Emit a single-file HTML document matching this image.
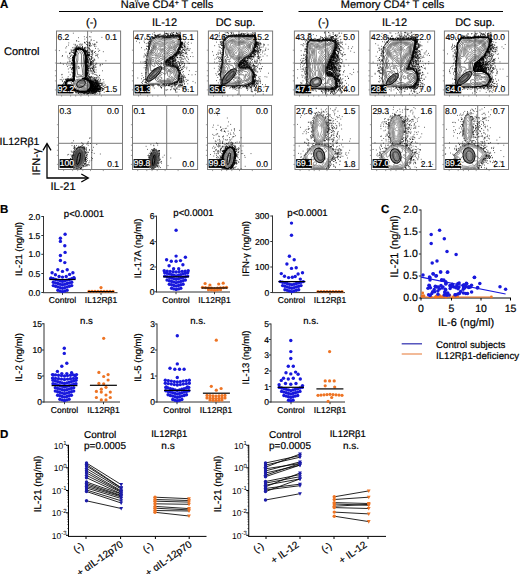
<!DOCTYPE html>
<html><head><meta charset="utf-8"><style>
html,body{margin:0;padding:0;background:#fff;}
svg{display:block;}
text{font-family:"Liberation Sans",sans-serif;text-rendering:geometricPrecision;}
</style></head><body>
<svg width="520" height="574" viewBox="0 0 520 574" font-family="Liberation Sans, sans-serif">
<rect width="520" height="574" fill="#fff"/>
<text x="0.00" y="8.30" font-size="11.5" text-anchor="start" font-weight="bold" fill="#000" stroke="#000" stroke-width="0.2" >A</text>
<line x1="59.00" y1="11.50" x2="263.00" y2="11.50" stroke="#000" stroke-width="1" />
<line x1="298.50" y1="11.50" x2="503.00" y2="11.50" stroke="#000" stroke-width="1" />
<text x="167.00" y="8.00" font-size="11" text-anchor="middle" fill="#000" stroke="#000" stroke-width="0.2" >Naïve CD4<tspan font-size="7" dy="-3">+</tspan><tspan dy="3"> T cells</tspan></text>
<text x="392.50" y="8.00" font-size="11" text-anchor="middle" fill="#000" stroke="#000" stroke-width="0.2" >Memory CD4<tspan font-size="7" dy="-3">+</tspan><tspan dy="3"> T cells</tspan></text>
<text x="91.50" y="26.00" font-size="11" text-anchor="middle" fill="#000" stroke="#000" stroke-width="0.2" >(-)</text>
<text x="164.50" y="26.00" font-size="11" text-anchor="middle" fill="#000" stroke="#000" stroke-width="0.2" >IL-12</text>
<text x="235.50" y="26.00" font-size="11" text-anchor="middle" fill="#000" stroke="#000" stroke-width="0.2" >DC sup.</text>
<text x="323.50" y="26.00" font-size="11" text-anchor="middle" fill="#000" stroke="#000" stroke-width="0.2" >(-)</text>
<text x="394.50" y="26.00" font-size="11" text-anchor="middle" fill="#000" stroke="#000" stroke-width="0.2" >IL-12</text>
<text x="475.00" y="26.00" font-size="11" text-anchor="middle" fill="#000" stroke="#000" stroke-width="0.2" >DC sup.</text>
<text x="4.00" y="55.00" font-size="11" text-anchor="start" fill="#000" stroke="#000" stroke-width="0.2" >Control</text>
<text x="-0.50" y="145.00" font-size="10.5" text-anchor="start" fill="#000" stroke="#000" stroke-width="0.2" >IL12Rβ1</text>
<path d="M47 144 V178 H88" fill="none" stroke="#000" stroke-width="1.3"/>
<path d="M43 150.3 L47 143.6 L51 150.3" fill="none" stroke="#000" stroke-width="1.3"/>
<path d="M81.3 174 L88.3 178 L81.3 182" fill="none" stroke="#000" stroke-width="1.3"/>
<text x="0.00" y="0.00" font-size="11" text-anchor="middle" fill="#000" stroke="#000" stroke-width="0.2" transform="translate(40 162) rotate(-90)">IFN-γ</text>
<text x="63.00" y="190.00" font-size="11" text-anchor="middle" fill="#000" stroke="#000" stroke-width="0.2" >IL-21</text>
<path d="M54.9 50.2h1.6M54.9 63.0h1.6M54.9 70.7h1.6M54.9 75.8h1.6M54.9 80.9h1.6M54.9 89.9h1.6M61.6 95.0v1.6M70.6 95.0v1.6M75.7 95.0v1.6M80.9 95.0v1.6M88.5 95.0v1.6M101.4 95.0v1.6" stroke="#888" stroke-width="0.8" fill="none"/>
<rect x="56.50" y="31.00" width="64.10" height="64.00" fill="none" stroke="#7a7a7a" stroke-width="1"/>
<line x1="87.60" y1="31.00" x2="87.60" y2="95.00" stroke="#7a7a7a" stroke-width="1" />
<line x1="56.50" y1="63.30" x2="120.60" y2="63.30" stroke="#7a7a7a" stroke-width="1" />
<path d="M131.9 50.2h1.6M131.9 63.0h1.6M131.9 70.7h1.6M131.9 75.8h1.6M131.9 80.9h1.6M131.9 89.9h1.6M138.6 95.0v1.6M147.6 95.0v1.6M152.7 95.0v1.6M157.9 95.0v1.6M165.6 95.0v1.6M178.4 95.0v1.6" stroke="#888" stroke-width="0.8" fill="none"/>
<rect x="133.50" y="31.00" width="64.10" height="64.00" fill="none" stroke="#7a7a7a" stroke-width="1"/>
<line x1="164.60" y1="31.00" x2="164.60" y2="95.00" stroke="#7a7a7a" stroke-width="1" />
<line x1="133.50" y1="63.30" x2="197.60" y2="63.30" stroke="#7a7a7a" stroke-width="1" />
<path d="M206.8 50.2h1.6M206.8 63.0h1.6M206.8 70.7h1.6M206.8 75.8h1.6M206.8 80.9h1.6M206.8 89.9h1.6M213.5 95.0v1.6M222.5 95.0v1.6M227.7 95.0v1.6M232.8 95.0v1.6M240.5 95.0v1.6M253.3 95.0v1.6" stroke="#888" stroke-width="0.8" fill="none"/>
<rect x="208.40" y="31.00" width="64.20" height="64.00" fill="none" stroke="#7a7a7a" stroke-width="1"/>
<line x1="239.00" y1="31.00" x2="239.00" y2="95.00" stroke="#7a7a7a" stroke-width="1" />
<line x1="208.40" y1="63.30" x2="272.60" y2="63.30" stroke="#7a7a7a" stroke-width="1" />
<path d="M292.8 50.2h1.6M292.8 63.0h1.6M292.8 70.7h1.6M292.8 75.8h1.6M292.8 80.9h1.6M292.8 89.9h1.6M299.5 95.0v1.6M308.5 95.0v1.6M313.7 95.0v1.6M318.8 95.0v1.6M326.5 95.0v1.6M339.3 95.0v1.6" stroke="#888" stroke-width="0.8" fill="none"/>
<rect x="294.40" y="31.00" width="64.20" height="64.00" fill="none" stroke="#7a7a7a" stroke-width="1"/>
<line x1="325.60" y1="31.00" x2="325.60" y2="95.00" stroke="#7a7a7a" stroke-width="1" />
<line x1="294.40" y1="63.30" x2="358.60" y2="63.30" stroke="#7a7a7a" stroke-width="1" />
<path d="M368.4 50.2h1.6M368.4 63.0h1.6M368.4 70.7h1.6M368.4 75.8h1.6M368.4 80.9h1.6M368.4 89.9h1.6M375.2 95.0v1.6M384.2 95.0v1.6M389.4 95.0v1.6M394.5 95.0v1.6M402.3 95.0v1.6M415.2 95.0v1.6" stroke="#888" stroke-width="0.8" fill="none"/>
<rect x="370.00" y="31.00" width="64.60" height="64.00" fill="none" stroke="#7a7a7a" stroke-width="1"/>
<line x1="401.00" y1="31.00" x2="401.00" y2="95.00" stroke="#7a7a7a" stroke-width="1" />
<line x1="370.00" y1="63.30" x2="434.60" y2="63.30" stroke="#7a7a7a" stroke-width="1" />
<path d="M442.8 50.2h1.6M442.8 63.0h1.6M442.8 70.7h1.6M442.8 75.8h1.6M442.8 80.9h1.6M442.8 89.9h1.6M449.5 95.0v1.6M458.5 95.0v1.6M463.7 95.0v1.6M468.8 95.0v1.6M476.5 95.0v1.6M489.3 95.0v1.6" stroke="#888" stroke-width="0.8" fill="none"/>
<rect x="444.40" y="31.00" width="64.20" height="64.00" fill="none" stroke="#7a7a7a" stroke-width="1"/>
<line x1="475.00" y1="31.00" x2="475.00" y2="95.00" stroke="#7a7a7a" stroke-width="1" />
<line x1="444.40" y1="63.30" x2="508.60" y2="63.30" stroke="#7a7a7a" stroke-width="1" />
<path d="M56.9 124.7h1.6M56.9 137.5h1.6M56.9 145.2h1.6M56.9 150.3h1.6M56.9 155.4h1.6M56.9 164.4h1.6M63.6 169.5v1.6M72.6 169.5v1.6M77.7 169.5v1.6M82.8 169.5v1.6M90.5 169.5v1.6M103.3 169.5v1.6" stroke="#888" stroke-width="0.8" fill="none"/>
<rect x="58.50" y="105.50" width="64.00" height="64.00" fill="none" stroke="#7a7a7a" stroke-width="1"/>
<line x1="91.70" y1="105.50" x2="91.70" y2="169.50" stroke="#7a7a7a" stroke-width="1" />
<line x1="58.50" y1="143.30" x2="122.50" y2="143.30" stroke="#7a7a7a" stroke-width="1" />
<path d="M130.9 124.7h1.6M130.9 137.5h1.6M130.9 145.2h1.6M130.9 150.3h1.6M130.9 155.4h1.6M130.9 164.4h1.6M137.7 169.5v1.6M146.8 169.5v1.6M152.0 169.5v1.6M157.2 169.5v1.6M165.1 169.5v1.6M178.1 169.5v1.6" stroke="#888" stroke-width="0.8" fill="none"/>
<rect x="132.50" y="105.50" width="65.10" height="64.00" fill="none" stroke="#7a7a7a" stroke-width="1"/>
<line x1="166.70" y1="105.50" x2="166.70" y2="169.50" stroke="#7a7a7a" stroke-width="1" />
<line x1="132.50" y1="143.30" x2="197.60" y2="143.30" stroke="#7a7a7a" stroke-width="1" />
<path d="M205.9 124.7h1.6M205.9 137.5h1.6M205.9 145.2h1.6M205.9 150.3h1.6M205.9 155.4h1.6M205.9 164.4h1.6M212.6 169.5v1.6M221.6 169.5v1.6M226.7 169.5v1.6M231.8 169.5v1.6M239.5 169.5v1.6M252.3 169.5v1.6" stroke="#888" stroke-width="0.8" fill="none"/>
<rect x="207.50" y="105.50" width="64.00" height="64.00" fill="none" stroke="#7a7a7a" stroke-width="1"/>
<line x1="241.00" y1="105.50" x2="241.00" y2="169.50" stroke="#7a7a7a" stroke-width="1" />
<line x1="207.50" y1="143.30" x2="271.50" y2="143.30" stroke="#7a7a7a" stroke-width="1" />
<path d="M293.4 124.7h1.6M293.4 137.5h1.6M293.4 145.2h1.6M293.4 150.3h1.6M293.4 155.4h1.6M293.4 164.4h1.6M300.1 169.5v1.6M309.1 169.5v1.6M314.2 169.5v1.6M319.3 169.5v1.6M327.0 169.5v1.6M339.8 169.5v1.6" stroke="#888" stroke-width="0.8" fill="none"/>
<rect x="295.00" y="105.50" width="64.00" height="64.00" fill="none" stroke="#7a7a7a" stroke-width="1"/>
<line x1="328.40" y1="105.50" x2="328.40" y2="169.50" stroke="#7a7a7a" stroke-width="1" />
<line x1="295.00" y1="143.30" x2="359.00" y2="143.30" stroke="#7a7a7a" stroke-width="1" />
<path d="M369.9 124.7h1.6M369.9 137.5h1.6M369.9 145.2h1.6M369.9 150.3h1.6M369.9 155.4h1.6M369.9 164.4h1.6M376.7 169.5v1.6M385.7 169.5v1.6M390.8 169.5v1.6M396.0 169.5v1.6M403.7 169.5v1.6M416.6 169.5v1.6" stroke="#888" stroke-width="0.8" fill="none"/>
<rect x="371.50" y="105.50" width="64.40" height="64.00" fill="none" stroke="#7a7a7a" stroke-width="1"/>
<line x1="405.70" y1="105.50" x2="405.70" y2="169.50" stroke="#7a7a7a" stroke-width="1" />
<line x1="371.50" y1="143.30" x2="435.90" y2="143.30" stroke="#7a7a7a" stroke-width="1" />
<path d="M442.4 124.7h1.6M442.4 137.5h1.6M442.4 145.2h1.6M442.4 150.3h1.6M442.4 155.4h1.6M442.4 164.4h1.6M449.2 169.5v1.6M458.2 169.5v1.6M463.4 169.5v1.6M468.5 169.5v1.6M476.2 169.5v1.6M489.1 169.5v1.6" stroke="#888" stroke-width="0.8" fill="none"/>
<rect x="444.00" y="105.50" width="64.50" height="64.00" fill="none" stroke="#7a7a7a" stroke-width="1"/>
<line x1="477.70" y1="105.50" x2="477.70" y2="169.50" stroke="#7a7a7a" stroke-width="1" />
<line x1="444.00" y1="143.30" x2="508.50" y2="143.30" stroke="#7a7a7a" stroke-width="1" />
<path transform="scale(.1)" d="M935 871h8M737 556h8M888 424h8M1011 877h8M855 564h8M706 892h8M933 825h8M739 696h8M849 540h8M1029 517h8M859 722h8M795 462h8M737 589h8M1006 882h8M663 814h8M901 877h8M1003 646h8M878 806h8M894 508h8M862 663h8M987 895h8M858 677h8M760 921h8M897 804h8M862 624h8M698 652h8M916 843h8M951 839h8M925 860h8M728 647h8M723 810h8M1023 903h8M861 598h8M737 738h8M801 487h8M854 583h8M768 487h8M842 929h8M952 855h8M737 577h8M833 920h8M929 797h8M749 901h8M970 893h8M940 843h8M773 478h8M858 635h8M734 780h8M732 608h8M759 496h8M671 808h8M944 880h8M922 898h8M862 373h8M680 800h8M734 653h8M646 826h8M916 812h8M762 489h8M937 818h8M922 531h8M963 835h8M657 858h8M762 496h8M905 830h8M883 667h8M776 491h8M863 922h8M729 727h8M741 492h8M870 700h8M974 852h8M785 489h8M981 838h8M750 501h8M957 699h8M735 503h8M718 699h8M922 847h8M735 499h8M744 534h8M689 865h8M920 865h8M799 484h8M736 626h8M840 486h8M853 585h8M717 504h8M994 883h8M860 796h8M899 827h8M998 861h8M671 811h8M945 838h8M918 648h8M923 872h8M993 915h8M739 633h8M826 921h8M913 869h8M866 670h8M916 873h8M722 572h8M905 864h8M733 729h8M696 876h8M926 846h8M861 594h8M863 766h8M862 938h8M865 506h8M643 815h8M922 815h8M713 867h8M855 725h8M948 826h8M903 826h8M873 448h8M734 648h8M654 827h8M743 911h8M953 933h8M854 565h8M856 569h8M732 627h8M782 931h8M864 507h8M629 902h8M902 876h8M670 622h8M921 844h8M945 672h8M735 894h8M941 775h8M912 593h8M727 770h8M720 904h8M781 484h8M873 685h8M920 517h8M864 517h8M682 451h8M716 797h8M960 805h8M885 804h8M861 794h8M736 608h8M877 527h8M905 510h8M931 840h8M886 749h8M971 818h8M734 806h8M913 859h8M739 705h8M966 811h8M947 804h8M709 794h8M734 889h8M1019 885h8M671 561h8M731 801h8M746 552h8M889 485h8M861 627h8M734 658h8M732 724h8M708 868h8M904 369h8M651 840h8M936 848h8M885 809h8M982 840h8M721 873h8M650 822h8M753 526h8M727 900h8M853 604h8M894 935h8M957 914h8M739 701h8M673 805h8M789 485h8M959 921h8M738 791h8M923 892h8M908 821h8M962 880h8M860 695h8M861 642h8M902 823h8M881 908h8M860 919h8M968 894h8M986 903h8M902 876h8M916 874h8M881 686h8M914 817h8M834 508h8M958 903h8M681 802h8M911 931h8M929 815h8M927 861h8M908 676h8M719 525h8M655 834h8M731 882h8M739 709h8M731 593h8M734 790h8M734 888h8M856 694h8M939 875h8M736 697h8M724 868h8M980 888h8M861 549h8M873 425h8M862 761h8M907 828h8M976 888h8M902 817h8M922 832h8M926 605h8M754 916h8M732 644h8M956 885h8M848 783h8M991 892h8M814 496h8M908 898h8M761 905h8M857 607h8M946 939h8M752 490h8M926 911h8M946 806h8M855 577h8M732 568h8M763 493h8M728 780h8M915 708h8M933 617h8M1015 889h8M953 839h8M729 810h8M740 668h8M868 732h8M750 546h8M740 788h8M820 466h8M860 719h8M915 848h8M920 682h8M993 916h8M855 676h8M857 730h8M740 678h8M740 746h8M914 844h8M904 622h8M935 896h8M744 564h8M925 819h8M929 881h8M739 766h8M710 691h8M932 783h8M920 930h8M722 877h8M730 658h8M783 918h8M656 521h8M879 731h8M964 640h8M881 905h8M881 524h8M938 783h8M940 863h8M667 812h8M903 869h8M855 580h8M935 856h8M912 886h8M861 708h8M877 439h8M928 891h8M859 917h8M933 887h8M976 902h8M720 896h8M841 786h8M944 744h8M868 726h8M629 839h8M867 661h8M905 835h8M682 863h8M949 925h8M853 587h8M820 465h8M901 891h8M738 662h8M740 721h8M855 638h8M735 569h8M929 862h8M1030 888h8M797 460h8M758 512h8M938 897h8M900 626h8M755 523h8M938 887h8M981 853h8M751 905h8M857 747h8M723 810h8M888 899h8M927 825h8M985 834h8M928 883h8M726 683h8M929 858h8M678 767h8M920 923h8M907 875h8M977 833h8M850 613h8M864 671h8M670 901h8M944 790h8M732 888h8M856 605h8M826 500h8M736 652h8M914 844h8M856 723h8M728 672h8M731 564h8M718 869h8M724 798h8M937 603h8M635 854h8M738 721h8M951 646h8M735 569h8M693 903h8M959 899h8M969 830h8M955 895h8M936 894h8M863 749h8M898 827h8M750 922h8M700 786h8M739 651h8M904 865h8M923 439h8M730 686h8M839 784h8M949 891h8M630 838h8M995 860h8M877 560h8M687 878h8M858 692h8M891 547h8M938 904h8M654 873h8M911 807h8M856 618h8M726 729h8M768 495h8M924 871h8M1034 890h8M866 941h8M903 881h8M893 895h8M862 669h8M988 780h8M774 911h8M976 889h8M730 710h8M831 498h8M1028 862h8M738 895h8M862 674h8M881 787h8M898 898h8M720 864h8M855 784h8M904 866h8M699 558h8M998 658h8M972 885h8M737 629h8M966 890h8M979 794h8M845 924h8M915 507h8M742 564h8M916 875h8M936 781h8M934 900h8M922 552h8M879 474h8M923 885h8M885 582h8M861 566h8M855 733h8M905 876h8M893 902h8M973 829h8M736 682h8M901 877h8M735 764h8M826 939h8M861 918h8M776 492h8M925 898h8M718 604h8M905 808h8M882 722h8M819 480h8M903 827h8M871 591h8M970 864h8M732 805h8M786 477h8M905 861h8M680 806h8M914 637h8M891 457h8M805 920h8M756 479h8M950 867h8M962 887h8M971 843h8M832 933h8M839 367h8M954 823h8M648 848h8M924 699h8M724 576h8M892 745h8M945 818h8M853 619h8M902 937h8M831 501h8M935 672h8M713 788h8M731 643h8M903 704h8M878 909h8M903 851h8M741 627h8M734 573h8M940 869h8M892 367h8M859 706h8M761 500h8M776 465h8M742 614h8M940 924h8M784 927h8M917 616h8M852 609h8M760 509h8M1000 893h8M857 708h8M911 835h8M915 863h8M910 853h8M876 794h8M955 919h8M877 798h8M936 906h8M899 441h8M739 755h8M849 514h8M855 564h8M940 909h8M928 733h8M745 547h8M731 773h8M804 921h8M735 701h8M840 518h8M869 782h8M780 488h8M934 914h8M939 724h8M1017 852h8M858 707h8M777 469h8M932 672h8M686 863h8M1041 875h8M900 904h8M870 913h8M941 859h8M862 717h8M813 451h8M665 813h8M759 514h8M902 769h8M855 712h8M699 803h8M734 665h8M953 888h8M684 721h8M864 734h8M901 773h8M941 718h8M599 859h8M858 620h8M667 884h8M912 886h8M941 592h8M696 876h8M845 526h8M894 819h8M853 653h8M730 895h8M951 515h8M711 869h8M929 906h8M936 886h8M928 856h8M859 513h8M871 617h8M734 607h8M740 728h8M853 587h8M950 902h8M845 929h8M953 890h8M859 556h8M975 791h8M867 781h8M913 821h8M900 888h8M721 802h8M882 803h8M947 862h8M734 695h8M739 705h8M836 507h8M1043 858h8M842 495h8M801 920h8M657 842h8M777 484h8M666 799h8M962 834h8M955 840h8M676 578h8M620 845h8M738 723h8M735 586h8M760 498h8M945 801h8M869 789h8M860 791h8M717 871h8M695 531h8M618 773h8M733 766h8M629 643h8M928 882h8M892 768h8M768 493h8M783 490h8M731 806h8M898 691h8M850 782h8M666 895h8M802 485h8M679 690h8M962 904h8M734 756h8M739 755h8M736 797h8M854 772h8M884 552h8M911 764h8M938 925h8M855 733h8M954 746h8M898 900h8M775 914h8M942 940h8M1020 900h8M698 805h8M966 859h8M739 603h8M912 916h8M987 894h8M843 923h8M858 724h8M842 789h8M863 699h8M690 536h8M1036 838h8M857 713h8M899 827h8M927 818h8M916 860h8M899 792h8M907 846h8M896 802h8M733 663h8M732 893h8M956 723h8M721 606h8M897 818h8M899 908h8M746 493h8M864 738h8M714 803h8M905 650h8M861 705h8M719 867h8M897 465h8M733 533h8M663 817h8M768 912h8M731 807h8M713 874h8M899 814h8M735 654h8M911 831h8M869 579h8M893 802h8M904 905h8M888 599h8M857 752h8M908 765h8M853 632h8M663 813h8M929 855h8M861 922h8M764 410h8M940 881h8M907 882h8M742 573h8M950 886h8M910 920h8M853 577h8M872 738h8M887 917h8M934 714h8M932 829h8M962 869h8M741 892h8M922 520h8M740 637h8M906 923h8M854 923h8M899 904h8M734 766h8M718 522h8M706 526h8M747 488h8M992 859h8M719 803h8M904 835h8M740 758h8M863 584h8M688 866h8M910 522h8M725 615h8M740 555h8M724 909h8M906 874h8M965 824h8M735 788h8M936 844h8M855 472h8M728 783h8M720 641h8M736 722h8M921 833h8M968 845h8M871 504h8M905 884h8M736 636h8M857 538h8M771 923h8M964 837h8M915 886h8M744 553h8M961 781h8M744 519h8M902 835h8M929 932h8M914 915h8M910 905h8M733 677h8M838 510h8M786 918h8M663 467h8M907 862h8M926 934h8M844 524h8M898 898h8M895 445h8M945 882h8M740 675h8M943 888h8M675 807h8M723 873h8M703 865h8M903 800h8M846 512h8M832 491h8M735 665h8M711 796h8M819 492h8M941 464h8M856 778h8M756 515h8M821 923h8M933 822h8M964 422h8M862 622h8M738 694h8M875 739h8M928 858h8M887 787h8M936 882h8M695 799h8M910 682h8M727 923h8M919 810h8M902 640h8M867 915h8M856 751h8M978 850h8M938 881h8M659 862h8M716 552h8M920 730h8M966 862h8M1050 874h8M705 587h8M742 627h8M815 476h8M848 433h8M878 709h8M741 634h8M743 513h8M911 912h8M654 480h8M621 814h8M748 456h8M618 806h8M932 909h8M869 793h8M746 550h8M730 528h8M857 559h8M978 578h8M988 883h8M718 656h8M846 923h8M869 547h8M880 710h8M737 473h8M877 627h8M861 716h8M730 595h8M901 906h8M869 798h8M965 876h8M957 925h8M1001 861h8M720 880h8M719 871h8M737 696h8M938 890h8M862 630h8M902 823h8M722 811h8M750 499h8M992 885h8M955 867h8M902 827h8M893 816h8M803 490h8M853 775h8M711 690h8M717 871h8M962 553h8M894 919h8M867 556h8M853 784h8M920 902h8M830 787h8M735 616h8M714 878h8M845 529h8M923 894h8M940 918h8M853 529h8M765 500h8M843 791h8M961 829h8M878 573h8M898 907h8M723 569h8M971 895h8M703 613h8M841 935h8M854 788h8M966 804h8M931 811h8M913 588h8M969 886h8M952 778h8M896 908h8M696 929h8M849 923h8M954 893h8M704 870h8M988 864h8M834 500h8M926 880h8M736 707h8M866 548h8M977 856h8M955 916h8M747 899h8M797 483h8M853 657h8M995 861h8M844 523h8M851 545h8M887 549h8M737 652h8M732 684h8M975 876h8M972 913h8M887 806h8M917 899h8M722 733h8M878 695h8M888 593h8M737 656h8M891 919h8M971 810h8M677 807h8M683 867h8M754 495h8M852 631h8M903 809h8M965 854h8M671 868h8M870 598h8M866 690h8M802 491h8M873 558h8M1008 875h8M822 921h8M855 626h8M890 584h8M900 775h8M923 869h8M730 603h8M967 908h8M749 527h8M673 808h8M635 826h8M708 874h8M670 798h8M952 874h8M1055 608h8M936 840h8M657 790h8M735 639h8M736 712h8M979 900h8M796 919h8M753 513h8M996 861h8M870 780h8M929 887h8M919 888h8M719 894h8M737 576h8M952 816h8M865 683h8M975 851h8M922 911h8M634 793h8M673 809h8M976 868h8M880 641h8M928 638h8M755 523h8M939 893h8M893 669h8M1002 800h8M725 576h8M878 556h8M855 933h8M913 880h8M852 548h8M868 663h8M883 800h8M796 485h8M690 802h8M926 901h8M851 622h8M853 564h8M933 862h8M909 874h8M738 682h8M742 561h8M924 885h8M950 918h8M955 903h8M732 802h8M904 806h8M666 863h8M868 602h8M878 909h8M868 686h8M960 913h8M739 747h8M975 543h8M907 883h8M1020 708h8M844 391h8M727 789h8M653 861h8M872 548h8M734 647h8M863 918h8M985 843h8M841 509h8M911 876h8M834 923h8M843 941h8M891 769h8M829 930h8M908 625h8M881 687h8M1006 829h8M750 543h8M728 615h8M968 873h8M901 689h8M841 514h8M665 812h8M935 652h8M941 793h8M872 672h8M939 813h8M945 884h8M973 901h8M868 799h8M874 774h8M1005 891h8M908 871h8M960 820h8M829 500h8M977 886h8M618 892h8M892 490h8M903 784h8M967 901h8M927 647h8M993 753h8M878 914h8M717 790h8M958 871h8M889 521h8M769 914h8M733 892h8M801 441h8M900 875h8M875 657h8M735 729h8M918 821h8M774 483h8M1024 902h8M740 611h8M881 779h8M590 858h8M946 882h8M915 834h8M935 835h8M755 490h8M783 490h8M849 790h8M757 931h8M854 575h8M913 457h8M885 906h8M695 793h8M740 799h8M880 618h8M859 725h8M944 843h8M779 934h8M986 891h8M886 767h8M721 868h8M932 894h8M656 854h8M656 823h8M889 809h8M854 617h8M715 720h8M912 858h8M859 595h8M911 617h8M864 917h8M736 713h8M914 868h8M653 861h8M964 919h8M736 729h8M737 768h8M1013 846h8M903 827h8M911 900h8M916 621h8M740 898h8M753 514h8M879 680h8M922 860h8M947 798h8M736 741h8M664 861h8M883 804h8M622 555h8M810 494h8M852 621h8M884 911h8M739 574h8M894 777h8M913 929h8M906 834h8M669 810h8M736 491h8M965 833h8M865 642h8M923 801h8M727 627h8M736 660h8M863 707h8M724 675h8M982 894h8M795 489h8M917 810h8M888 791h8M736 634h8M742 624h8M925 664h8M759 502h8M756 501h8M885 915h8M738 749h8M1022 904h8M734 713h8M904 872h8M984 895h8M860 666h8M736 765h8M708 512h8M859 767h8M995 803h8M869 608h8M924 884h8M718 723h8M920 838h8M727 815h8M846 528h8M714 634h8M829 785h8M934 654h8M725 811h8M923 882h8M951 807h8M875 459h8M922 871h8M937 448h8M738 712h8M824 787h8M729 801h8M742 568h8M941 870h8M845 426h8M736 677h8M911 889h8M889 553h8M970 892h8M904 891h8M910 869h8M852 629h8M662 868h8M859 795h8M926 801h8M726 887h8M689 576h8M766 498h8M730 602h8M969 835h8M948 865h8M938 891h8M727 885h8M759 505h8M741 620h8M895 816h8M920 856h8M989 817h8M787 483h8M721 867h8M910 899h8M715 778h8M738 694h8M927 871h8M994 856h8M653 888h8M759 508h8M734 637h8M733 887h8M953 853h8M892 812h8M760 908h8M862 555h8M857 708h8M886 663h8M888 551h8M936 863h8M854 919h8M908 323h8M876 917h8M910 822h8M906 815h8M748 526h8M946 827h8M867 569h8M870 801h8M736 705h8M857 562h8M857 620h8M918 717h8M980 912h8M673 808h8M885 902h8M857 620h8M737 756h8M738 650h8M898 620h8M939 689h8M957 816h8M737 724h8M965 878h8M920 877h8M660 817h8M738 660h8M951 827h8M736 610h8M742 556h8M958 872h8M956 883h8M963 897h8M907 880h8M669 900h8M869 801h8M736 768h8M974 933h8M735 606h8M889 681h8M966 901h8M959 831h8M725 869h8M861 445h8M829 496h8M660 823h8M908 647h8M972 872h8M884 903h8M1019 849h8M742 551h8M774 912h8M846 530h8M776 492h8M865 674h8M941 903h8M857 687h8M930 843h8M957 876h8M882 573h8M918 780h8M891 921h8M742 615h8M863 714h8M857 705h8M880 908h8M856 758h8M957 907h8M928 859h8M969 551h8M718 864h8M975 824h8M733 728h8M952 671h8M943 449h8M909 844h8M861 737h8M921 892h8M786 489h8M908 731h8M672 784h8M1038 923h8M655 847h8M735 681h8M710 871h8M909 828h8M907 596h8M927 628h8M918 826h8M940 839h8M907 405h8M759 487h8M859 763h8M731 577h8M977 827h8M684 802h8M894 903h8M935 917h8M856 785h8M751 527h8M859 673h8M962 903h8M664 647h8M862 595h8M733 579h8M864 737h8M857 676h8M910 906h8M846 921h8M919 848h8M839 511h8M947 890h8M913 850h8M617 744h8M864 520h8M864 589h8M810 490h8M850 514h8M955 788h8M853 569h8M970 810h8M920 835h8M890 814h8M981 857h8M841 516h8M856 740h8M716 696h8M983 895h8M727 578h8M996 649h8M938 880h8M953 882h8M736 778h8M877 625h8M912 827h8M739 741h8M944 845h8M859 689h8M738 557h8M733 610h8M953 442h8M737 581h8M758 501h8M840 925h8M858 681h8M857 764h8M970 562h8M851 541h8M909 813h8M927 926h8M901 887h8M849 784h8M741 895h8M874 804h8M859 762h8M729 918h8M972 854h8M905 841h8M722 583h8M913 847h8M958 911h8M1021 885h8M957 671h8M737 602h8M869 585h8M735 757h8M856 577h8M855 671h8M852 605h8M905 857h8M957 849h8M865 606h8M614 748h8M858 617h8M737 674h8M795 486h8M657 834h8M832 503h8M874 799h8M857 547h8M943 884h8M909 871h8M980 912h8M868 727h8M909 834h8M759 475h8M748 541h8M930 881h8M859 608h8M764 474h8M931 934h8M936 699h8M744 540h8M750 515h8M818 923h8M942 829h8M749 909h8M680 865h8M737 639h8M726 501h8M878 759h8M904 896h8M739 580h8M921 867h8M860 922h8M785 926h8M963 864h8M909 908h8M906 659h8M812 928h8M687 619h8M855 645h8M866 934h8M861 663h8M740 648h8M862 598h8M913 641h8M968 863h8M916 579h8M910 829h8M859 617h8M659 855h8M855 790h8M908 890h8M967 911h8M723 678h8M874 454h8M931 708h8M959 906h8M991 912h8M730 733h8M657 829h8M955 830h8M948 833h8M845 530h8M731 889h8M967 886h8M786 477h8M996 876h8M792 486h8M701 865h8M813 496h8M908 710h8M1017 873h8M877 912h8M982 813h8M737 566h8M820 489h8M970 831h8M877 500h8M735 615h8M904 852h8M929 691h8M881 546h8M837 786h8M820 921h8M666 855h8M919 887h8M850 793h8M687 591h8M719 883h8M865 790h8M742 541h8M910 831h8M947 849h8M958 831h8M853 668h8M751 444h8M731 628h8M976 862h8M922 932h8M903 900h8M914 856h8M963 892h8M882 934h8M774 490h8M789 443h8M929 861h8M914 875h8M787 919h8M968 866h8M725 869h8M797 921h8M750 536h8M737 790h8M882 787h8M864 656h8M859 704h8M851 623h8M728 657h8M925 822h8M926 851h8M739 768h8M989 842h8M726 806h8M852 641h8M874 474h8M843 788h8M865 573h8M804 924h8M666 800h8M865 543h8M775 931h8M854 632h8M954 852h8M953 879h8M856 726h8M926 897h8M729 332h8M881 904h8M656 842h8M915 875h8M1008 855h8M843 476h8M916 885h8M744 553h8M698 801h8M914 632h8M971 881h8M723 874h8M782 476h8M729 633h8M858 703h8M739 705h8M736 595h8M876 654h8M711 871h8M889 492h8M960 777h8M671 803h8M737 583h8M916 842h8M887 732h8M863 563h8M987 848h8M993 923h8M748 534h8M739 742h8M928 841h8M849 538h8M888 424h8M856 756h8M911 889h8M920 933h8M942 885h8M651 823h8M980 887h8M852 544h8M861 629h8M762 493h8M908 929h8M972 839h8M747 550h8M898 811h8M768 453h8M739 600h8M933 856h8M851 553h8M853 558h8M741 616h8M739 745h8M743 907h8M950 557h8M887 927h8M645 840h8M963 751h8M924 874h8M872 799h8M819 491h8M1015 374h8M859 750h8M901 889h8M916 866h8M647 831h8M736 672h8M905 791h8M913 913h8M861 731h8M914 567h8M947 876h8M831 501h8M724 890h8M899 893h8M878 551h8M918 846h8M974 842h8M701 673h8M844 521h8M968 902h8M936 405h8M784 415h8M897 893h8M851 629h8M1002 873h8M886 805h8M964 812h8M960 820h8M932 704h8M735 636h8M894 643h8M739 758h8M980 891h8M936 827h8M904 852h8M900 918h8M912 568h8M737 696h8M840 426h8M856 482h8M724 683h8M653 851h8M731 521h8M956 796h8M945 903h8M746 899h8M927 672h8M716 862h8M924 875h8M854 653h8M985 829h8M955 850h8M740 550h8M725 596h8M896 433h8M753 523h8M722 876h8M886 707h8M859 695h8M709 510h8M720 635h8M687 864h8M936 593h8M741 543h8M900 822h8M668 810h8M873 539h8M911 775h8M910 871h8M965 909h8M782 914h8M861 693h8M966 909h8M851 619h8M722 806h8M672 664h8M853 501h8M856 726h8M738 579h8M941 882h8M906 871h8M758 490h8M963 881h8M733 589h8M795 941h8M900 882h8M899 642h8M926 860h8M723 682h8M938 830h8M906 873h8M789 477h8M1013 836h8M864 723h8M811 920h8M778 492h8M943 924h8M715 802h8M737 576h8M928 883h8M970 868h8M911 811h8M747 553h8M696 538h8M886 778h8M951 881h8M742 611h8M759 918h8M884 937h8M951 918h8M648 830h8M752 536h8M877 790h8M908 856h8M843 923h8M776 919h8M945 657h8M930 910h8M734 521h8M820 477h8M966 847h8M913 568h8M812 922h8M721 600h8M673 873h8M937 883h8M726 802h8M819 923h8M935 448h8M854 570h8M860 681h8M953 898h8M977 916h8M956 463h8M997 882h8M862 520h8M855 611h8M953 888h8M948 895h8M885 561h8M818 921h8M916 926h8M951 867h8M745 542h8M719 867h8M747 539h8M792 923h8M738 641h8M733 590h8M658 818h8M843 924h8M854 791h8M922 906h8M725 584h8M924 845h8M738 681h8M847 531h8M893 455h8M654 829h8M897 823h8M853 784h8M671 883h8M751 530h8M913 877h8M728 879h8M857 672h8M857 580h8M934 826h8M939 880h8M855 655h8M711 633h8M859 586h8M907 829h8M787 487h8M974 854h8M900 833h8M839 513h8M858 760h8M618 564h8M865 625h8M933 851h8M917 816h8M857 695h8M1027 890h8M911 856h8M907 827h8M898 915h8M915 794h8M793 486h8M904 890h8M928 852h8M980 856h8M985 834h8M736 671h8M741 906h8M815 494h8M855 560h8M739 735h8M928 812h8M980 884h8M841 790h8M945 891h8M1003 890h8M889 898h8M925 578h8M850 506h8M780 494h8M912 518h8M869 699h8M1003 900h8M910 857h8M912 548h8M852 614h8M749 519h8M853 561h8M913 614h8M913 865h8M849 523h8M860 669h8M863 515h8M745 907h8M923 903h8M730 652h8M743 526h8M902 878h8M889 913h8M977 489h8M904 650h8M901 617h8M925 540h8M994 879h8M790 927h8M733 724h8M858 642h8M911 847h8M656 897h8M956 869h8M1013 836h8M848 541h8M914 583h8M945 801h8M958 867h8M713 804h8M746 546h8M926 888h8M981 873h8M675 793h8M857 555h8M853 593h8M856 576h8M811 940h8M899 810h8M863 695h8M666 790h8M897 826h8M940 522h8M940 831h8M709 644h8M724 576h8M854 779h8M800 491h8M733 577h8M933 706h8M867 542h8M943 911h8M735 742h8M734 557h8M980 852h8M939 525h8M925 897h8M806 491h8M866 924h8M996 900h8M990 940h8M893 903h8M738 752h8M898 823h8M754 904h8M991 755h8M890 432h8M944 913h8M853 581h8M932 809h8M654 852h8M738 652h8M970 809h8M730 708h8M810 920h8M857 754h8M851 920h8M940 890h8M700 800h8M993 504h8M901 633h8M651 794h8M959 910h8M846 529h8M750 512h8M923 903h8M853 657h8M871 537h8M864 706h8M751 519h8M798 481h8M917 686h8M870 528h8M747 552h8M854 792h8M965 886h8M733 675h8M926 890h8M862 588h8M922 899h8M897 927h8M943 867h8M891 776h8M689 789h8M932 612h8M896 655h8M858 563h8M694 921h8M962 843h8M897 822h8M732 600h8M944 926h8M954 797h8M660 855h8M738 578h8M686 800h8M943 720h8M916 918h8M865 703h8M899 893h8M902 904h8M963 901h8M822 495h8M732 644h8M868 673h8M756 470h8M717 862h8M666 810h8M875 548h8M685 869h8M779 487h8M981 513h8M877 650h8M927 878h8M879 933h8M910 883h8M741 896h8M889 914h8M735 608h8M875 621h8M733 615h8M948 855h8M842 784h8M942 439h8M923 849h8M854 655h8M955 891h8M863 704h8M923 687h8M929 860h8M671 857h8M796 483h8M748 901h8M747 544h8M739 773h8M956 888h8M884 631h8M914 813h8M965 854h8M909 906h8M819 924h8M739 563h8M882 605h8M695 798h8M970 888h8M892 814h8M853 668h8M723 768h8M840 923h8M846 512h8M974 864h8M707 497h8M893 525h8M742 571h8M756 502h8M762 407h8M976 808h8M920 682h8M663 858h8M736 738h8M838 476h8M747 507h8M901 800h8M738 750h8M735 639h8M739 797h8M883 760h8M878 913h8M720 865h8M855 683h8M925 938h8M781 930h8M966 868h8M878 596h8M719 794h8M851 536h8M934 920h8M720 864h8M859 576h8M839 789h8M887 925h8M760 506h8M737 778h8M905 840h8M939 899h8M722 905h8M907 939h8M862 720h8M721 575h8M881 933h8M740 557h8M750 517h8M925 915h8M945 601h8M732 583h8M759 487h8M737 731h8M853 928h8M933 926h8M830 930h8M890 554h8M853 595h8M795 921h8M900 882h8M737 630h8M738 571h8M662 806h8M923 889h8M846 510h8M696 866h8M924 865h8M706 789h8M918 850h8M865 692h8M837 510h8M721 872h8M734 890h8M856 728h8M852 538h8M720 877h8M871 595h8M663 910h8M857 921h8M729 552h8M799 488h8M894 810h8M864 740h8M734 901h8M922 688h8M957 887h8M739 559h8M735 641h8M973 892h8M929 905h8M956 941h8M883 682h8M949 851h8M875 614h8M690 865h8M733 606h8M734 682h8M864 524h8M1028 796h8M993 837h8M738 716h8M970 771h8M894 581h8M730 595h8M743 569h8M934 679h8M900 592h8M761 497h8M730 808h8M881 621h8M947 909h8M689 804h8M903 868h8M734 560h8M740 615h8M840 514h8M655 825h8M943 890h8M947 912h8M730 899h8M918 897h8M658 817h8M817 449h8M1004 903h8M927 922h8M851 478h8M730 802h8M904 852h8M868 646h8M638 842h8M641 818h8M841 919h8M946 899h8M946 917h8M723 477h8M862 602h8M863 416h8M993 830h8M886 795h8M999 891h8M893 591h8M974 866h8M859 641h8M857 730h8M868 732h8M890 920h8M753 481h8M861 749h8M916 829h8M743 559h8M814 920h8M891 812h8M997 837h8M664 857h8M739 617h8M903 810h8M1037 890h8M1007 911h8M864 700h8M761 465h8M965 423h8M659 850h8M890 803h8M1002 794h8M748 543h8M958 911h8M922 855h8M878 908h8M738 564h8M748 498h8M955 915h8M866 788h8M749 535h8M848 505h8M724 744h8M932 866h8M736 797h8M986 916h8M910 580h8M892 454h8M945 903h8M856 732h8M730 709h8M955 808h8M944 886h8M903 872h8M999 876h8M725 807h8M788 488h8M838 515h8M831 498h8M778 494h8M961 836h8M901 688h8M863 749h8M737 800h8M937 918h8M925 504h8M851 507h8M908 868h8M922 779h8M713 550h8M937 894h8M826 490h8M667 813h8M845 511h8M868 589h8M924 683h8M813 495h8M647 826h8M734 742h8M883 764h8M853 610h8M920 824h8M993 870h8M904 924h8M957 880h8M929 665h8M981 897h8M907 893h8M732 889h8M749 482h8M855 653h8M857 562h8M870 731h8M698 802h8M894 656h8M740 734h8M722 626h8M751 910h8M740 903h8M909 640h8M740 798h8M919 628h8M656 830h8M895 603h8M865 799h8M951 839h8M914 900h8M884 910h8M737 581h8M724 909h8M906 846h8M864 521h8M823 930h8M905 878h8M692 870h8M853 621h8M871 695h8M906 823h8M727 638h8M930 905h8M853 790h8M908 394h8M730 808h8M730 686h8M727 803h8M813 492h8M994 892h8M724 784h8M869 673h8M727 647h8M865 710h8M699 876h8M956 854h8M915 814h8M866 742h8M736 443h8M967 757h8M896 717h8M731 792h8M914 824h8M925 915h8M981 849h8M891 911h8M977 858h8M717 885h8M907 843h8M728 748h8M961 835h8M923 877h8M684 429h8M743 559h8M943 893h8M743 535h8M876 514h8M951 859h8M884 914h8M733 567h8M681 906h8M857 752h8M696 679h8M864 734h8M835 497h8M662 808h8M869 655h8M866 729h8M739 762h8M854 655h8M738 597h8M860 595h8M741 569h8M914 620h8M901 640h8M953 908h8M770 494h8M949 864h8M858 644h8M736 719h8M904 565h8M897 617h8M914 828h8M919 908h8M900 833h8M916 836h8M884 923h8M744 539h8M952 884h8M865 693h8M882 795h8M938 885h8M857 715h8M835 491h8M978 906h8M846 511h8M935 877h8M881 543h8M876 932h8M865 778h8M666 815h8M844 519h8M918 876h8M839 926h8M957 631h8M665 794h8M946 802h8M681 792h8M848 924h8M894 561h8M999 885h8M855 644h8M824 923h8M676 798h8M950 888h8M757 926h8M925 741h8M1022 643h8M884 705h8M925 832h8M874 934h8M875 753h8M857 590h8M856 657h8M769 912h8M926 769h8M930 841h8M655 804h8M986 864h8M725 590h8M801 488h8M922 835h8M741 611h8M722 757h8M859 792h8M993 876h8M947 808h8M874 619h8M697 804h8M698 748h8M900 498h8M899 886h8M949 890h8M737 686h8M831 503h8M834 788h8M925 838h8M824 788h8M962 867h8M854 640h8M919 540h8M927 888h8M939 903h8M898 454h8M1006 875h8M850 791h8M872 793h8M920 862h8M1023 829h8M953 855h8M908 848h8M602 629h8M725 892h8M895 786h8M852 605h8M998 835h8M770 914h8M861 618h8M868 553h8M851 781h8M943 888h8M906 909h8M718 674h8M952 484h8M818 476h8M982 859h8M982 882h8M847 530h8M693 532h8M863 748h8M700 565h8M737 601h8M924 838h8M896 686h8M702 803h8M781 377h8M726 702h8M765 489h8M910 884h8M687 874h8M740 658h8M1001 833h8M920 906h8M826 923h8M736 725h8M928 894h8M998 813h8M924 864h8M741 639h8M906 852h8M1053 850h8M857 608h8M891 541h8M723 763h8M962 911h8M934 700h8M817 440h8M807 491h8M993 864h8M735 664h8M858 559h8M956 881h8M896 929h8M882 553h8M901 875h8M898 635h8M943 887h8M963 834h8M903 822h8M685 651h8M741 617h8M950 803h8M741 638h8M736 768h8M737 797h8M983 770h8M734 504h8M747 530h8M727 684h8M888 539h8M734 581h8M1035 820h8M862 778h8M853 533h8M857 702h8M905 879h8M901 905h8M856 514h8M722 608h8M976 884h8M861 627h8M922 885h8M896 419h8M871 621h8M735 672h8M745 547h8M703 864h8M908 870h8M897 639h8M919 842h8M876 561h8M679 806h8M740 614h8M908 838h8M735 682h8M957 827h8M846 935h8M970 882h8M943 851h8M905 789h8M970 893h8M738 702h8M758 918h8M860 786h8M663 798h8M739 781h8M985 894h8M864 701h8M852 632h8M945 867h8M725 659h8M856 556h8M923 605h8M860 713h8M728 683h8M723 599h8M614 794h8M767 458h8M989 898h8M847 920h8M728 894h8M902 829h8M863 655h8M949 824h8M862 580h8M754 912h8M975 824h8M739 502h8M907 831h8M856 748h8M958 857h8M997 888h8M970 883h8M734 774h8M913 882h8M754 514h8M941 890h8M883 486h8M986 871h8M855 662h8M856 533h8M800 932h8M820 486h8M735 749h8M944 836h8M720 638h8M798 472h8M1000 917h8M931 921h8M843 511h8M914 911h8M936 850h8M917 865h8M911 876h8M841 422h8M735 908h8M904 882h8M851 636h8M731 886h8M733 909h8M734 704h8M860 513h8M863 691h8M858 722h8M756 509h8M858 702h8M866 795h8M727 600h8M833 491h8M877 554h8M856 533h8M724 899h8M858 760h8M733 623h8M743 550h8M944 854h8M737 580h8M939 863h8M906 542h8M913 846h8M889 910h8M1019 839h8M707 869h8M925 911h8M859 784h8M749 897h8M885 903h8M952 824h8M737 535h8M903 816h8M938 828h8M986 913h8M926 800h8M925 891h8M870 919h8M718 869h8M728 795h8M902 879h8M997 937h8M944 932h8M961 845h8M730 597h8M816 478h8M738 648h8M747 541h8M811 925h8M954 537h8M723 596h8M732 783h8M924 840h8M897 434h8M803 921h8M924 851h8M712 799h8M840 485h8M949 921h8M734 907h8M896 670h8M739 709h8M790 915h8M1029 864h8M854 769h8M849 493h8M965 843h8M669 864h8M864 762h8M886 528h8M650 825h8M889 471h8M860 658h8M887 917h8M882 919h8M895 819h8M894 899h8M871 932h8M918 509h8M951 821h8M846 791h8M711 627h8M899 908h8M737 692h8M738 644h8M862 572h8M969 864h8M852 620h8M960 818h8M633 881h8M923 911h8M850 553h8M876 910h8M853 783h8M738 718h8M734 799h8M736 801h8M988 893h8M907 710h8M852 537h8M848 785h8M589 506h8M766 479h8M897 809h8M653 798h8M939 873h8M856 694h8M876 670h8M925 890h8M935 914h8M864 711h8M823 923h8M900 606h8M744 567h8M868 751h8M863 744h8M979 851h8M785 475h8M916 830h8M682 787h8M598 796h8M726 798h8M882 663h8M857 670h8M986 910h8M917 930h8M683 862h8M951 867h8M729 619h8M854 615h8M901 886h8M908 801h8M690 610h8M770 482h8M828 924h8M883 917h8M895 801h8M803 480h8M737 719h8" stroke="#000" stroke-width="8" stroke-opacity="0.9"/>
<path transform="scale(.1)" d="M849 914l-48-1-37-11-30-21-13-27-15 5-25-1-17-10-8-14 4-15 16-14 30-3 20 10 19-21-6-10 3-162-2-38 12-52 10-28 9-9 20-6 10 1 20 8 16 16 10 20 6 38-4 52 5 55-1 93-7 11-24 4 32 6 25 13 16 16 8 20-1 27-7 20-21 19-25 9z" fill="none" stroke="#000" stroke-width="13" stroke-linejoin="round"/>
<path transform="scale(.1)" d="M769 771l-11-5-4-45 2-82 8-35-5-33 7-32 12-25 8-9 10-2 20 10 18 31 2 22-5 75 7 35 2 75-2 10-7 5-35 1-27 4zM851 904l-30 1-25-3-50-24-9-12-5-17 3-23 7-15 24-15 25-5 60 9 28 14 13 22-2 38-15 20-24 10zM704 846l-15 1-13-5-5-8 2-10 16-9 22 5 6 6 1 8-5 7-9 5z" fill="none" stroke="#111" stroke-width="6" stroke-linejoin="round"/>
<path transform="scale(.1)" d="M816 754l-40-8-10-67 4-43 9-35-1-52 8-20 10-9 13 9 7 22-3 93 8 35 7 57-2 13-10 5zM851 894l-50-3-45-25-11-22 1-15 5-10 18-12 22-6 58 10 22 10 11 18-1 30-10 16-20 9z" fill="none" stroke="#222" stroke-width="6" stroke-linejoin="round"/>
<path transform="scale(.1)" d="M791 686l-10-2-2-13 2-11 8 6 4 10 2 8-4 2zM854 884l-33-2-37-13-25-20-3-13 2-10 13-10 23-5 42 7 25 12 11 11 2 20-7 15-13 8z" fill="none" stroke="#333" stroke-width="6" stroke-linejoin="round"/>
<path transform="scale(.1)" d="M851 874l-22-1-40-14-19-13-3-7 2-8 15-6 40-2 20 9 15 9 6 10-2 15-12 8z" fill="none" stroke="#3a3a3a" stroke-width="6" stroke-linejoin="round"/>
<path transform="scale(.1)" d="M846 864l-20-1-32-14-6-8 23-7 25 4 18 13 0 8-8 5z" fill="none" stroke="#444" stroke-width="6" stroke-linejoin="round"/><ellipse cx="81" cy="83.7" rx="4.6" ry="3.3" transform="rotate(-30 81 83.7)" fill="#555" fill-opacity="0.5" stroke="#111" stroke-width="1"/>
<path transform="scale(.1)" d="M1795 512h8M1722 622h8M1781 779h8M1726 566h8M1829 742h8M1823 479h8M1789 481h8M1767 658h8M1466 595h8M1688 582h8M1598 364h8M1790 518h8M1850 519h8M1795 368h8M1766 672h8M1738 881h8M1743 615h8M1550 360h8M1783 773h8M1783 751h8M1702 598h8M1849 777h8M1738 668h8M1698 610h8M1521 381h8M1744 650h8M1582 368h8M1766 529h8M1480 506h8M1822 555h8M1631 371h8M1787 719h8M1809 531h8M1437 411h8M1553 353h8M1789 362h8M1696 659h8M1437 560h8M1693 626h8M1702 573h8M1684 605h8M1530 376h8M1791 372h8M1780 702h8M1708 365h8M1795 731h8M1788 734h8M1778 537h8M1800 557h8M1822 852h8M1722 364h8M1752 861h8M1832 525h8M1470 540h8M1789 340h8M1798 385h8M1696 371h8M1527 849h8M1804 784h8M1732 612h8M1678 611h8M1454 702h8M1788 753h8M1718 356h8M1477 531h8M1452 767h8M1709 367h8M1799 466h8M1806 436h8M1783 698h8M1835 826h8M1782 517h8M1701 838h8M1786 475h8M1773 366h8M1554 362h8M1604 860h8M1681 605h8M1784 789h8M1760 556h8M1686 585h8M1742 829h8M1801 526h8M1402 941h8M1715 655h8M1738 364h8M1699 585h8M1750 564h8M1705 369h8M1797 867h8M1758 546h8M1736 363h8M1772 830h8M1619 848h8M1781 489h8M1755 355h8M1803 709h8M1692 583h8M1874 580h8M1680 852h8M1819 634h8M1783 664h8M1756 637h8M1829 683h8M1700 350h8M1390 428h8M1777 698h8M1737 368h8M1553 355h8M1744 598h8M1675 341h8M1536 373h8M1835 496h8M1749 604h8M1737 641h8M1821 559h8M1735 651h8M1786 364h8M1854 479h8M1757 821h8M1777 498h8M1715 588h8M1459 384h8M1807 792h8M1502 386h8M1482 479h8M1752 558h8M1719 639h8M1744 587h8M1705 645h8M1448 656h8M1756 550h8M1802 423h8M1797 494h8M1770 350h8M1716 574h8M1780 703h8M1515 401h8M1783 364h8M1803 367h8M1793 720h8M1457 796h8M1713 664h8M1657 612h8M1630 360h8M1594 365h8M1752 910h8M1650 355h8M1840 435h8M1674 639h8M1776 497h8M1731 365h8M1828 816h8M1776 537h8M1719 361h8M1709 599h8M1676 367h8M1657 620h8M1767 685h8M1777 672h8M1802 733h8M1459 563h8M1669 619h8M1790 753h8M1716 837h8M1890 634h8M1874 469h8M1762 824h8M1734 361h8M1705 366h8M1743 579h8M1477 539h8M1779 706h8M1638 366h8M1811 697h8M1499 430h8M1712 361h8M1799 458h8M1756 662h8M1702 370h8M1806 428h8M1758 823h8M1840 505h8M1800 419h8M1703 612h8M1769 575h8M1773 692h8M1620 368h8M1426 809h8M1488 476h8M1703 630h8M1772 676h8M1782 528h8M1721 581h8M1465 627h8M1676 348h8M1484 469h8M1465 631h8M1668 837h8M1785 814h8M1562 368h8M1689 608h8M1807 595h8M1803 468h8M1759 651h8M1457 863h8M1727 357h8M1839 843h8M1802 437h8M1702 343h8M1688 856h8M1452 697h8M1463 648h8M1810 467h8M1790 530h8M1686 654h8M1517 377h8M1802 457h8M1798 373h8M1814 643h8M1728 561h8M1699 659h8M1751 660h8M1724 663h8M1665 370h8M1797 531h8M1795 704h8M1726 365h8M1785 803h8M1812 746h8M1553 361h8M1668 337h8M1735 587h8M1634 357h8M1669 600h8M1750 899h8M1794 819h8M1757 877h8M1483 855h8M1870 487h8M1805 823h8M1664 602h8M1793 791h8M1801 429h8M1797 341h8M1748 828h8M1482 844h8M1718 619h8M1613 877h8M1578 368h8M1795 463h8M1707 661h8M1784 483h8M1701 585h8M1802 383h8M1783 756h8M1667 613h8M1794 382h8M1719 663h8M1816 818h8M1756 536h8M1564 362h8M1828 528h8M1725 834h8M1655 363h8M1831 762h8M1752 362h8M1816 693h8M1685 656h8M1584 859h8M1668 367h8M1708 355h8M1677 643h8M1754 825h8M1667 374h8M1814 573h8M1815 764h8M1680 650h8M1805 447h8M1901 565h8M1799 820h8M1801 430h8M1682 615h8M1803 440h8M1698 641h8M1805 468h8M1720 362h8M1827 595h8M1714 367h8M1875 802h8M1788 512h8M1649 351h8M1549 371h8M1483 441h8M1827 443h8M1831 563h8M1800 708h8M1745 367h8M1676 356h8M1452 678h8M1763 535h8M1710 613h8M1677 356h8M1713 624h8M1720 566h8M1563 369h8M1461 679h8M1585 848h8M1789 732h8M1798 450h8M1803 385h8M1833 617h8M1805 479h8M1596 359h8M1770 359h8M1782 791h8M1677 648h8M1485 481h8M1714 570h8M1500 426h8M1775 339h8M1759 355h8M1734 357h8M1496 432h8M1783 727h8M1820 754h8M1680 640h8M1704 630h8M1609 363h8M1680 357h8M1717 654h8M1680 616h8M1764 667h8M1684 854h8M1703 617h8M1785 368h8M1722 837h8M1796 467h8M1726 836h8M1849 890h8M1823 785h8M1723 620h8M1659 613h8M1783 768h8M1737 828h8M1807 810h8M1820 473h8M1544 352h8M1802 532h8M1818 422h8M1687 374h8M1798 381h8M1489 438h8M1701 899h8M1786 476h8M1797 455h8M1695 577h8M1814 807h8M1743 553h8M1700 579h8M1501 390h8M1787 632h8M1797 391h8M1760 542h8M1757 537h8M1671 356h8M1684 599h8M1797 772h8M1687 638h8M1665 629h8M1724 596h8M1726 590h8M1781 794h8M1542 377h8M1729 653h8M1755 923h8M1949 746h8M1812 849h8M1728 600h8M1737 834h8M1584 848h8M1550 376h8M1453 728h8M1845 865h8M1730 367h8M1829 496h8M1843 481h8M1757 364h8M1734 601h8M1586 363h8M1740 368h8M1768 691h8M1632 860h8M1659 609h8M1789 530h8M1728 585h8M1813 537h8M1754 851h8M1863 688h8M1746 670h8M1804 464h8M1808 430h8M1807 828h8M1803 386h8M1841 641h8M1724 649h8M1731 888h8M1702 590h8M1717 652h8M1748 661h8M1565 367h8M1484 465h8M1779 491h8M1807 852h8M1814 432h8M1743 650h8M1731 368h8M1754 669h8M1826 589h8M1759 842h8M1820 722h8M1786 487h8M1784 777h8M1813 422h8M1697 357h8M1729 359h8M1831 772h8M1806 382h8M1691 370h8M1781 684h8M1692 634h8M1808 476h8M1650 851h8M1539 881h8M1803 543h8M1737 831h8M1819 429h8M1864 522h8M1799 762h8M1805 460h8M1436 571h8M1747 364h8M1466 595h8M1725 643h8M1747 553h8M1489 455h8M1725 343h8M1626 352h8M1794 823h8M1859 530h8M1463 640h8M1841 446h8M1734 587h8M1670 366h8M1670 599h8M1803 654h8M1810 694h8M1684 641h8M1714 327h8M1701 646h8M1847 868h8M1759 600h8M1414 734h8M1709 570h8M1431 799h8M1717 583h8M1657 644h8M1659 373h8M1745 546h8M1687 597h8M1739 860h8M1494 857h8M1682 373h8M1807 858h8M1778 800h8M1793 473h8M1731 345h8M1809 556h8M1725 852h8M1762 630h8M1826 433h8M1643 367h8M1778 524h8M1661 606h8M1679 850h8M1668 653h8M1800 724h8M1687 374h8M1762 625h8M1801 324h8M1662 364h8M1486 496h8M1798 618h8M1843 506h8M1688 628h8M1720 838h8M1777 703h8M1697 629h8M1457 632h8M1793 662h8M1722 653h8M1695 584h8M1466 572h8M1478 502h8M1795 474h8M1704 350h8M1783 769h8M1761 681h8M1790 640h8M1727 568h8M1783 699h8M1730 653h8M1746 543h8M1616 361h8M1793 515h8M1785 487h8M1740 574h8M1561 357h8M1706 895h8M1799 384h8M1695 583h8M1631 368h8M1739 571h8M1788 766h8M1499 410h8M1759 527h8M1806 802h8M1831 715h8M1463 620h8M1804 423h8M1673 603h8M1723 566h8M1803 376h8M1465 599h8M1739 829h8M1775 822h8M1485 501h8M1734 359h8M1486 480h8M1853 468h8M1693 839h8M1702 370h8M1803 608h8M1688 620h8M1604 348h8M1539 380h8M1665 373h8M1796 624h8M1789 520h8M1730 657h8M1702 590h8M1778 361h8M1505 416h8M1791 731h8M1792 644h8M1712 586h8M1751 554h8M1480 360h8M1747 355h8M1858 502h8M1420 834h8M1495 412h8M1733 363h8M1752 551h8M1708 850h8M1496 409h8M1803 449h8M1657 374h8M1526 384h8M1723 597h8M1725 850h8M1745 546h8M1737 614h8M1762 357h8M1777 805h8M1775 516h8M1738 894h8M1475 432h8M1724 616h8M1538 343h8M1779 513h8M1484 467h8M1879 897h8M1520 341h8M1658 608h8M1802 429h8M1681 647h8M1794 871h8M1588 367h8M1782 693h8M1840 657h8M1696 849h8M1827 666h8M1787 732h8M1796 393h8M1520 367h8M1718 572h8M1823 501h8M1728 586h8M1697 368h8M1714 359h8M1792 486h8M1784 347h8M1538 850h8M1678 601h8M1554 356h8M1687 358h8M1720 345h8M1707 333h8M1533 374h8M1691 590h8M1830 496h8M1874 838h8M1793 369h8M1776 506h8M1677 649h8M1701 572h8M1794 462h8M1738 668h8M1799 458h8M1708 368h8M1671 622h8M1782 368h8M1926 566h8M1801 397h8M1729 627h8M1778 522h8M1614 365h8M1814 779h8M1767 687h8M1868 432h8M1786 502h8M1740 352h8M1811 814h8M1654 639h8M1768 656h8M1790 478h8M1765 569h8M1561 371h8M1732 357h8M1842 467h8M1764 817h8M1807 513h8M1766 333h8M1753 600h8M1444 499h8M1794 788h8M1867 546h8M1809 427h8M1739 600h8M1632 364h8M1772 818h8M1737 666h8M1713 880h8M1801 810h8M1701 660h8M1780 780h8M1742 664h8M1769 620h8M1802 453h8M1622 849h8M1875 804h8M1660 612h8M1489 487h8M1571 847h8M1840 463h8M1786 706h8M1722 651h8M1765 333h8M1698 575h8M1688 839h8M1578 368h8M1510 853h8M1717 623h8M1827 776h8M1755 668h8M1686 361h8M1779 500h8M1805 819h8M1704 344h8M1818 525h8M1631 350h8M1838 422h8M1773 829h8M1780 488h8M1786 536h8M1799 453h8M1817 523h8M1709 580h8M1736 607h8M1645 355h8M1796 447h8M1956 715h8M1799 335h8M1794 783h8M1750 352h8M1655 838h8M1790 786h8M1651 370h8M1657 615h8M1724 563h8M1794 458h8M1722 574h8M1769 815h8M1526 382h8M1659 623h8M1793 493h8M1715 367h8M1739 834h8M1583 356h8M1732 577h8M1812 459h8M1825 439h8M1683 347h8M1722 611h8M1659 846h8M1709 593h8M1808 434h8M1480 435h8M1700 640h8M1792 515h8M1669 372h8M1840 569h8M1484 449h8M1784 498h8M1488 462h8M1696 838h8M1654 647h8M1706 608h8M1865 672h8M1485 424h8M1815 443h8M1798 846h8M1834 480h8M1518 389h8M1704 363h8M1737 827h8M1710 572h8M1697 629h8M1760 675h8M1802 414h8M1796 789h8M1794 552h8M1590 368h8M1789 761h8M1472 554h8M1778 360h8M1792 375h8M1851 420h8M1573 355h8M1768 881h8M1776 700h8M1783 719h8M1803 779h8M1814 420h8M1786 512h8M1437 846h8M1731 632h8M1793 470h8M1797 358h8M1784 485h8M1728 365h8M1635 367h8M1854 450h8M1737 842h8M1726 561h8M1836 660h8M1680 625h8M1800 356h8M1784 678h8M1747 667h8M1792 755h8M1661 373h8M1531 384h8M1689 619h8M1668 838h8M1780 782h8M1464 530h8M1450 790h8M1460 839h8M1758 560h8M1713 839h8M1511 378h8M1857 796h8M1780 352h8M1749 541h8M1748 626h8M1711 569h8M1657 620h8M1787 755h8M1758 332h8M1843 760h8M1685 332h8M1800 412h8M1486 474h8M1672 371h8M1736 552h8M1798 482h8M1455 740h8M1705 594h8M1757 826h8M1475 465h8M1613 357h8M1775 364h8M1790 528h8M1771 811h8M1786 759h8M1694 584h8M1781 518h8M1780 869h8M1779 695h8M1776 524h8M1785 838h8M1773 701h8M1800 732h8M1815 438h8M1720 571h8M1710 365h8M1731 605h8M1673 374h8M1723 576h8M1798 655h8M1720 332h8M1717 341h8M1791 789h8M1735 611h8M1818 423h8M1662 632h8M1803 672h8M1697 591h8M1788 784h8M1752 595h8M1850 533h8M1793 372h8M1816 427h8M1693 581h8M1781 770h8M1668 601h8M1798 446h8M1739 847h8M1734 325h8M1779 663h8M1486 460h8M1949 828h8M1789 804h8M1787 794h8M1715 584h8M1878 504h8M1789 685h8M1926 814h8M1749 540h8M1808 858h8M1783 538h8M1820 696h8M1738 660h8M1788 720h8M1784 760h8M1720 607h8M1743 566h8M1748 822h8M1685 840h8M1792 743h8M1589 850h8M1746 898h8M1735 846h8M1732 559h8M1687 372h8M1783 499h8M1792 728h8M1452 788h8M1703 838h8M1729 368h8M1488 442h8M1774 500h8M1787 492h8M1802 441h8M1606 366h8M1543 379h8M1757 560h8M1662 645h8M1804 433h8M1726 608h8M1699 579h8M1580 849h8M1747 844h8M1807 792h8M1916 749h8M1455 552h8M1765 528h8M1488 416h8M1726 637h8M1811 786h8M1746 892h8M1789 483h8M1796 451h8M1756 676h8M1635 848h8M1797 390h8M1618 860h8M1452 822h8M1779 708h8M1678 601h8M1805 682h8M1484 490h8M1770 673h8M1453 619h8M1864 567h8M1524 372h8M1799 449h8M1815 585h8M1801 499h8M1804 707h8M1813 778h8M1661 611h8M1761 533h8M1760 549h8M1840 836h8M1708 656h8M1720 568h8M1589 346h8M1801 423h8M1822 677h8M1753 648h8M1802 445h8M1540 380h8M1796 383h8M1697 613h8M1771 644h8M1691 652h8M1652 625h8M1726 586h8M1650 617h8M1657 852h8M1800 438h8M1725 357h8M1393 396h8M1796 453h8M1527 859h8M1456 589h8M1412 788h8M1744 572h8M1703 657h8M1737 638h8M1754 363h8M1448 842h8M1795 381h8M1741 367h8M1690 579h8M1697 357h8M1455 609h8M1802 438h8M1767 517h8M1780 531h8M1774 545h8M1672 610h8M1696 578h8M1711 363h8M1812 811h8M1674 595h8M1814 476h8M1488 473h8M1489 480h8M1610 364h8M1742 367h8M1766 546h8M1644 374h8M1805 431h8M1794 577h8M1467 648h8M1437 678h8M1723 617h8M1804 407h8M1730 367h8M1687 841h8M1807 431h8M1897 487h8M1576 365h8M1698 579h8M1802 428h8M1773 684h8M1718 638h8M1813 430h8M1802 408h8M1827 864h8M1518 850h8M1546 350h8M1714 576h8M1791 374h8M1821 882h8M1673 897h8M1788 550h8M1788 374h8M1767 573h8M1714 360h8M1823 499h8M1734 657h8M1694 640h8M1773 662h8M1766 368h8M1775 613h8M1792 792h8M1690 581h8M1770 815h8M1658 365h8M1664 374h8M1427 621h8M1806 739h8M1677 361h8M1481 362h8M1412 477h8M1846 773h8M1606 364h8M1802 432h8M1802 414h8M1815 473h8M1788 745h8M1465 657h8M1863 568h8M1805 542h8M1832 888h8M1663 616h8M1658 631h8M1776 529h8M1643 341h8M1665 851h8M1804 552h8M1703 365h8M1775 671h8M1710 361h8M1883 745h8M1526 854h8M1766 920h8M1746 581h8M1781 350h8M1672 603h8M1458 826h8M1774 528h8M1785 492h8M1754 549h8M1829 664h8M1833 560h8M1796 392h8M1701 578h8M1770 869h8M1821 512h8M1805 452h8M1772 360h8M1658 653h8M1801 493h8M1801 740h8M1797 657h8M1703 849h8M1469 609h8M1470 499h8M1662 651h8M1360 412h8M1721 585h8M1785 714h8M1799 451h8M1751 907h8M1678 852h8M1826 546h8M1787 593h8M1840 456h8M1783 747h8M1773 505h8M1757 365h8M1635 841h8M1772 689h8M1666 605h8M1822 847h8M1763 644h8M1799 474h8M1738 559h8M1465 657h8M1658 335h8M1578 357h8M1826 809h8M1807 429h8M1686 615h8M1711 650h8M1796 465h8M1675 609h8M1695 578h8M1462 625h8M1753 613h8M1728 364h8M1774 516h8M1851 879h8M1696 365h8M1774 823h8M1764 360h8M1793 362h8M1458 436h8M1788 734h8M1766 845h8M1549 357h8M1742 548h8M1681 588h8M1736 362h8M1770 363h8M1693 606h8M1733 347h8M1777 706h8M1617 369h8M1712 634h8M1832 787h8M1483 456h8M1766 668h8M1692 604h8M1739 832h8M1774 695h8M1594 368h8M1780 365h8M1802 423h8M1783 757h8M1787 759h8M1817 872h8M1797 481h8M1721 866h8M1732 658h8M1790 768h8M1801 822h8M1457 725h8M1804 426h8M1526 853h8M1605 874h8M1820 474h8M1831 456h8M1609 855h8M1805 789h8M1788 373h8M1720 650h8M1547 353h8M1796 573h8M1787 765h8M1729 367h8M1694 357h8M1809 513h8M1491 418h8M1730 352h8M1752 364h8M1695 369h8M1779 697h8M1774 533h8M1487 493h8M1443 539h8M1780 675h8M1799 393h8M1646 373h8M1764 848h8M1488 414h8M1812 439h8M1797 846h8M1819 831h8M1693 656h8M1840 634h8M1676 593h8M1549 372h8M1714 575h8M1712 843h8M1878 633h8M1663 369h8M1538 324h8M1792 827h8M1917 527h8M1719 649h8M1750 653h8M1441 795h8M1780 784h8M1812 442h8M1465 660h8M1652 624h8M1763 555h8M1772 519h8M1747 367h8M1809 622h8M1578 356h8M1561 366h8M1811 830h8M1598 364h8M1804 451h8M1701 656h8M1798 375h8M1483 498h8M1664 625h8M1720 368h8M1798 388h8M1674 599h8M1781 721h8M1793 359h8M1717 842h8M1800 425h8M1531 377h8M1659 855h8M1765 657h8M1622 363h8M1801 421h8M1798 457h8M1707 362h8M1809 443h8M1733 655h8M1704 360h8M1787 856h8M1695 843h8M1445 633h8M1545 365h8M1461 485h8M1587 368h8M1689 624h8M1793 737h8M1670 620h8M1737 351h8M1758 369h8M1765 336h8M1763 523h8M1690 370h8M1799 359h8M1507 408h8M1812 462h8M1819 433h8M1889 707h8M1882 594h8M1750 548h8M1700 340h8M1664 624h8M1892 503h8M1787 895h8M1752 829h8M1785 486h8M1662 901h8M1527 868h8M1702 361h8M1792 700h8M1824 797h8M1785 627h8M1817 428h8M1656 335h8M1771 688h8M1801 401h8M1781 852h8M1828 629h8M1750 349h8M1812 767h8M1845 469h8M1736 366h8M1815 804h8M1836 760h8M1590 368h8M1729 639h8M1494 452h8M1745 600h8M1781 771h8M1633 841h8M1781 706h8M1459 491h8M1703 624h8M1817 636h8M1413 826h8M1816 768h8M1767 363h8M1909 432h8M1806 430h8M1795 484h8M1810 423h8M1452 550h8M1632 841h8M1819 444h8M1801 376h8M1449 619h8M1775 698h8M1792 653h8M1748 630h8M1684 625h8M1799 381h8M1747 633h8M1611 881h8M1723 662h8M1622 369h8M1729 666h8M1698 639h8M1710 354h8M1754 361h8M1859 816h8M1801 400h8M1821 766h8M1673 342h8M1663 333h8M1656 334h8M1572 352h8M1769 512h8M1507 368h8M1848 591h8M1759 362h8M1703 639h8M1793 369h8M1705 571h8M1805 453h8M1781 502h8M1651 620h8M1794 492h8M1664 340h8M1738 665h8M1815 428h8M1864 891h8M1787 685h8M1817 440h8M1806 431h8M1779 791h8M1819 479h8M1767 366h8M1490 439h8M1784 710h8M1789 816h8M1798 364h8M1807 803h8M1798 802h8M1753 673h8M1793 769h8M1823 909h8M1598 368h8M1765 677h8M1771 352h8M1767 359h8M1750 364h8M1834 804h8M1794 475h8M1782 768h8M1635 851h8M1462 672h8M1524 378h8M1859 608h8M1764 818h8M1741 836h8M1516 389h8M1600 866h8M1651 861h8M1702 368h8M1612 874h8M1430 776h8M1878 488h8M1759 885h8M1801 840h8M1846 877h8M1799 725h8M1783 370h8M1769 341h8M1869 489h8M1790 633h8M1772 577h8M1587 347h8M1796 747h8M1787 857h8M1750 549h8M1845 531h8M1488 487h8M1786 478h8M1642 367h8M1740 827h8M1810 439h8M1802 419h8M1570 851h8M1727 618h8M1786 756h8M1862 532h8M1705 868h8M1796 452h8M1794 824h8M1417 757h8M1691 646h8M1688 371h8M1450 680h8M1723 579h8M1811 787h8M1681 630h8M1684 645h8M1760 368h8M1687 598h8M1749 673h8M1789 323h8M1726 609h8M1702 364h8M1685 365h8M1559 367h8M1811 823h8M1747 668h8M1683 625h8M1794 492h8M1756 840h8M1636 371h8M1756 841h8M1778 794h8M1661 366h8M1816 825h8M1735 828h8M1653 615h8M1466 637h8M1768 814h8M1679 648h8M1797 370h8M1650 620h8M1828 794h8M1782 784h8M1723 590h8M1468 560h8M1443 382h8M1733 326h8M1782 700h8M1494 437h8M1758 542h8M1785 371h8M1727 564h8M1777 700h8M1748 605h8M1842 500h8M1798 549h8M1634 366h8M1809 506h8M1799 572h8M1789 368h8M1730 659h8M1784 370h8M1701 619h8M1787 367h8M1851 498h8M1765 834h8M1667 623h8M1479 425h8M1861 491h8M1823 854h8M1672 371h8M1771 532h8M1774 809h8M1516 367h8M1688 606h8M1840 812h8M1691 853h8M1460 620h8M1799 401h8M1653 635h8M1713 365h8M1734 630h8M1701 580h8M1786 858h8M1745 544h8M1473 515h8M1374 780h8M1736 663h8M1642 842h8M1766 893h8M1746 544h8M1777 504h8M1730 566h8M1809 754h8M1798 521h8M1796 366h8M1747 547h8M1824 469h8M1769 820h8M1779 363h8M1765 555h8M1753 838h8M1692 595h8M1745 641h8M1788 740h8M1775 542h8M1578 345h8M1806 384h8M1848 538h8M1404 620h8M1661 371h8M1666 362h8M1840 463h8M1748 569h8M1730 665h8M1761 823h8M1881 423h8M1798 467h8M1711 866h8M1453 793h8M1792 707h8M1783 758h8M1806 579h8M1714 593h8M1457 552h8M1483 513h8M1754 538h8M1667 360h8M1717 570h8M1801 855h8M1822 452h8M1734 602h8M1671 650h8M1727 614h8M1469 534h8M1822 616h8M1669 598h8M1782 806h8M1661 849h8M1768 525h8M1727 644h8M1804 673h8M1798 436h8M1719 835h8M1752 365h8M1657 621h8M1809 532h8M1874 618h8M1720 663h8M1819 816h8M1792 357h8M1805 601h8M1719 358h8M1688 368h8M1811 798h8M1776 695h8M1800 361h8M1735 368h8M1759 325h8M1684 856h8M1622 357h8M1709 838h8M1478 523h8M1778 498h8M1778 805h8M1807 466h8M1797 750h8M1452 820h8M1746 858h8M1440 426h8M1451 635h8M1775 577h8M1572 357h8M1802 404h8M1779 330h8M1798 470h8M1845 583h8M1777 697h8M1767 357h8M1780 500h8M1699 637h8M1501 395h8M1642 852h8M1809 452h8M1789 708h8M1756 817h8M1464 603h8M1785 703h8M1794 812h8M1789 769h8M1675 856h8M1816 531h8M1729 666h8M1804 453h8M1528 381h8M1734 558h8M1829 804h8M1757 367h8M1781 616h8M1670 638h8M1542 381h8M1488 488h8M1597 340h8M1727 562h8M1785 802h8M1753 540h8M1796 387h8M1765 683h8M1687 859h8M1736 553h8M1759 533h8M1659 617h8M1721 635h8M1770 678h8M1740 851h8M1781 787h8M1705 582h8M1653 372h8M1760 672h8M1878 445h8M1749 849h8M1730 658h8M1532 384h8M1706 838h8M1654 900h8M1593 853h8M1812 855h8M1471 463h8M1764 523h8M1816 437h8M1692 363h8M1726 569h8M1461 462h8M1739 364h8M1775 698h8M1677 838h8M1515 365h8M1766 555h8M1722 594h8M1781 779h8M1423 816h8M1684 371h8M1792 369h8M1754 583h8M1844 674h8M1669 600h8M1766 685h8M1814 618h8M1681 590h8M1762 361h8M1761 340h8M1459 825h8M1769 687h8M1749 612h8M1835 774h8M1669 598h8M1800 415h8M1789 843h8M1716 355h8M1766 529h8M1445 824h8M1743 659h8M1781 794h8M1444 617h8M1785 751h8M1705 364h8" stroke="#000" stroke-width="8" stroke-opacity="0.9"/>
<path transform="scale(.1)" d="M1544 844l-43 1-25-9-14-10-4-20-1-75 10-60 3-105 17-67 10-65 16-35 11-13 45-21 32-1 65 6 58-6 62 4 6 6 6 22 1 30-7 35-25 50-41 44-32 16-22 18-19 20-3 10 2 27 4 7 28 1 50 9 20 10 15 16 8 17 5 28-6 65-12 10-48 22-75 3-45 8-52 2z" fill="none" stroke="#333" stroke-width="8" stroke-linejoin="round"/>
<path transform="scale(.1)" d="M1546 834l-45-1-25-14-9-18 3-40-2-32 17-103-4-45 11-55 28-42-1-8-12-10-3-10 2-22 10-23 10-12 35-22 10-3 33 3 122-2 51 4 11 20 3 27-9 28-22 27-5 30-19 20-20 13-32 14-8 8-36 43-5 42 3 10 8 5 78 2 12 4 13 9 11 18 6 20 4 47-4 24-25 10-20 19-10 4-80-2-37 9-48 4zM1619 641l-1-12-7-6-3 6 3 11 8 1z" fill="none" stroke="#111" stroke-width="6" stroke-linejoin="round"/>
<path transform="scale(.1)" d="M1594 817l-23-4-16-14 1-18-10-16-37 20-4 6 10 10-9 11-27-6-5-5 5-18 19-12 6-10-18-21-3-11 2-38 13-55-3-47 5-55 30-53-1-14-13-21 3-17 12-20 40-25 28 6 37-7 133 6 7 7 5 13 0 22-8 20-23 28-8 32-11 9-25 6-37 28-25 35-25 10-15 12-20 5-6 10 6 11 20 11 12 24 60 11 13 20 8-2 4-15 10-9 15-1 13 6 7 9 4 13 0 25 8 35-2 12-47 39-78-4-37 6zM1692 719l3-8-4-7-5 2-1 5 4 8 3 0z" fill="none" stroke="#222" stroke-width="6" stroke-linejoin="round"/>
<path transform="scale(.1)" d="M1704 806l-65-4-43 3-12-3-7-3-8-18-5-35-38 22-10 2-4-4 5-17 14-20 1-18 17-6 8-11-3-6-13 0-7 6-5 13-23-1-1-112 5-33-2-27 8-20 20-23 1-17-7-30 5-20 36-25 30 2 25-9 15-1 40 7 33-1 30 15 10 0 10-4 7 6 0 17-4 15-24 30-11 25-28 1-21 29-28 15-14 30-10 5-25 3-10 12-25 12-8 16 6 17 35 32 17 10 38 8 12 10 7 55 10 10 6 1 7-13 0-30 13-35 10-4 12 6 5 15-4 35 7 20 0 10-28 29-12 6zM1606 754l13-8-8-9-20-1-11 5 11 10 15 3zM1491 794l-5 2-1-2 6-6 0 6z" fill="none" stroke="#333" stroke-width="6" stroke-linejoin="round"/>
<path transform="scale(.1)" d="M1549 662l-15 0-13-8-8-18-2-25 2-22 6-16 32 8 8-1 2-4-2-15-8-13-30 6-6-18 6-20 8-9 10-2 4-6-3-53 7-17 12-7 55-10 22-9 33 7 42 2 40 16 7 8 0 10-29 36-33 9-22 36-44 12-7 15 13 5-3 7-7 3-15-7-12 7-13 14-5 1-10-5-7 5-17 47 0 13 6 12-4 6zM1531 759l-7 1-2-4 9-17 29-28 29-20 30-1 39 11 5 28-7 12-12-1-20-15-28-6-7-5-31 27-27 18zM1719 735l-8-4-1-10 9-16 7-5 4 6-1 13-10 16zM1704 797l-23-1-15-5 10-6 36-9 2-9 7-2 6 11-23 21zM1606 795l-10-1-8-5-7-12 1-8 17-1 19 8 1 10-13 9z" fill="none" stroke="#3a3a3a" stroke-width="6" stroke-linejoin="round"/>
<path transform="scale(.1)" d="M1586 569l-7 1-8-6-23-40 7-20-8-48 1-12 6-10 15-5 30 3 47-14 40 10 45 0 11 6 4 15-17 21-40 14-16 27-9 7-50 4-6 29-22 18zM1526 536l-3-5 3-11 8-2 7 3 0 10-15 5zM1531 622l-7-3-4-13 1-10 8-5 8 3 3 7-9 21zM1566 721l-3 0 8-6-5 6z" fill="none" stroke="#444" stroke-width="6" stroke-linejoin="round"/>
<path transform="scale(.1)" d="M1586 559l-10-3-7-15 0-12 6-20-19-33-2-22 5-13 12-4 30 6 48-13 30 11 32-3 19 3 2 10-8 10-44 18-24 27-45 5-10 4-3 6 1 25-13 13z" fill="none" stroke="#4a4a4a" stroke-width="6" stroke-linejoin="round"/>
<path transform="scale(.1)" d="M1604 504l-13-3-24-22-4-18 6-12 30 4 50-11 27 14 25-7 9 2-6 9-30 10-29 26-41 8zM1586 545l-5-4 3-8 5 4-3 8z" fill="none" stroke="#555" stroke-width="6" stroke-linejoin="round"/>
<path transform="scale(.1)" d="M1614 496l-13-1-9-6-8-13 3-10 49-11 13 1 7 5 1 10-11 14-15 8-17 3z" fill="none" stroke="#5a5a5a" stroke-width="6" stroke-linejoin="round"/>
<path transform="scale(.1)" d="M1619 489l-16-3-4-7 2-7 25-8 17 5 1 5-6 7-19 8z" fill="none" stroke="#606060" stroke-width="6" stroke-linejoin="round"/><ellipse cx="154.2" cy="74.0" rx="9.9" ry="3.2" transform="rotate(-44.1 154.2 74.0)" fill="#444" fill-opacity="0.6" stroke="#111" stroke-width="1.0"/><ellipse cx="154.5" cy="73.5" rx="7.1" ry="1.6" transform="rotate(-45.0 154.5 73.5)" fill="none" stroke="#222" stroke-width="0.7"/>
<path transform="scale(.1)" d="M2528 721h8M2398 346h8M2185 445h8M2535 767h8M2281 369h8M2534 506h8M2451 681h8M2609 907h8M2578 528h8M2234 456h8M2355 355h8M2555 388h8M2535 499h8M2380 362h8M2525 521h8M2472 345h8M2248 923h8M2537 671h8M2396 630h8M2320 364h8M2524 821h8M2490 665h8M2554 467h8M2595 523h8M2546 503h8M2499 876h8M2442 601h8M2205 779h8M2220 529h8M2515 689h8M2541 865h8M2549 908h8M2574 420h8M2546 845h8M2537 741h8M2342 876h8M2431 655h8M2532 734h8M2546 775h8M2460 610h8M2174 775h8M2547 756h8M2567 457h8M2217 575h8M2404 681h8M2543 828h8M2297 362h8M2229 472h8M2541 818h8M2174 567h8M2219 504h8M2410 678h8M2548 379h8M2427 597h8M2538 505h8M2611 684h8M2512 363h8M2501 358h8M2396 361h8M2179 662h8M2526 716h8M2215 622h8M2208 528h8M2210 601h8M2437 613h8M2446 610h8M2212 594h8M2452 853h8M2580 549h8M2527 773h8M2421 626h8M2494 362h8M2205 745h8M2520 327h8M2218 571h8M2609 472h8M2521 695h8M2544 365h8M2538 747h8M2441 350h8M2554 439h8M2393 860h8M2523 592h8M2537 727h8M2446 585h8M2211 451h8M2531 648h8M2478 568h8M2497 364h8M2216 560h8M2638 444h8M2529 642h8M2550 509h8M2506 361h8M2385 361h8M2473 642h8M2526 828h8M2532 540h8M2430 595h8M2475 635h8M2448 358h8M2554 447h8M2232 350h8M2139 683h8M2406 678h8M2260 866h8M2507 351h8M2487 629h8M2590 690h8M2477 365h8M2345 870h8M2529 519h8M2230 507h8M2435 362h8M2527 681h8M2507 544h8M2283 862h8M2255 383h8M2392 638h8M2569 498h8M2541 369h8M2591 600h8M2557 507h8M2326 343h8M2552 817h8M2195 795h8M2198 573h8M2552 399h8M2412 666h8M2611 688h8M2509 835h8M2525 841h8M2560 423h8M2198 419h8M2546 356h8M2548 794h8M2282 333h8M2579 555h8M2545 491h8M2519 840h8M2486 356h8M2336 359h8M2496 360h8M2299 366h8M2544 458h8M2209 577h8M2513 680h8M2462 644h8M2202 511h8M2499 593h8M2552 378h8M2533 802h8M2445 852h8M2195 759h8M2589 784h8M2545 793h8M2530 516h8M2209 442h8M2265 363h8M2568 467h8M2536 825h8M2500 357h8M2538 366h8M2526 520h8M2567 569h8M2499 366h8M2543 816h8M2552 411h8M2423 362h8M2523 659h8M2372 362h8M2203 587h8M2453 857h8M2217 544h8M2304 361h8M2533 740h8M2534 360h8M2513 703h8M2486 362h8M2471 643h8M2536 579h8M2596 448h8M2311 331h8M2537 664h8M2335 357h8M2186 739h8M2455 611h8M2525 714h8M2498 649h8M2289 360h8M2201 427h8M2541 504h8M2427 680h8M2422 356h8M2544 449h8M2537 810h8M2532 810h8M2191 357h8M2478 590h8M2562 465h8M2467 578h8M2422 681h8M2468 870h8M2526 793h8M2576 440h8M2587 484h8M2458 656h8M2555 392h8M2543 655h8M2368 865h8M2509 868h8M2553 387h8M2620 528h8M2215 416h8M2512 856h8M2540 900h8M2530 816h8M2230 380h8M2405 355h8M2545 690h8M2554 789h8M2488 361h8M2557 614h8M2401 357h8M2569 527h8M2345 359h8M2529 760h8M2236 474h8M2498 671h8M2509 915h8M2584 585h8M2425 858h8M2122 517h8M2556 437h8M2578 450h8M2573 469h8M2528 728h8M2224 641h8M2233 472h8M2296 356h8M2523 719h8M2558 689h8M2220 613h8M2318 360h8M2628 940h8M2214 651h8M2426 666h8M2234 407h8M2486 654h8M2598 688h8M2586 472h8M2555 751h8M2557 455h8M2406 336h8M2229 482h8M2546 328h8M2563 757h8M2498 866h8M2215 660h8M2433 358h8M2561 879h8M2517 866h8M2177 571h8M2522 620h8M2236 480h8M2387 873h8M2555 425h8M2391 651h8M2533 743h8M2578 581h8M2507 567h8M2508 694h8M2465 860h8M2527 802h8M2225 524h8M2456 626h8M2215 591h8M2452 616h8M2652 848h8M2278 352h8M2521 698h8M2354 352h8M2460 577h8M2557 436h8M2363 363h8M2531 811h8M2303 351h8M2177 534h8M2265 357h8M2545 456h8M2407 354h8M2553 387h8M2443 603h8M2404 864h8M2383 883h8M2437 662h8M2480 620h8M2403 362h8M2620 845h8M2553 377h8M2395 666h8M2567 467h8M2391 640h8M2361 345h8M2408 349h8M2463 675h8M2549 379h8M2230 540h8M2538 805h8M2579 566h8M2631 459h8M2489 565h8M2409 667h8M2520 567h8M2489 582h8M2212 601h8M2494 687h8M2202 687h8M2595 809h8M2438 366h8M2387 659h8M2400 857h8M2435 358h8M2178 712h8M2499 582h8M2543 903h8M2410 854h8M2530 833h8M2504 837h8M2214 663h8M2382 344h8M2315 344h8M2542 497h8M2527 514h8M2486 576h8M2524 360h8M2557 425h8M2498 362h8M2218 641h8M2478 856h8M2571 440h8M2526 357h8M2630 442h8M2484 357h8M2428 633h8M2600 640h8M2604 546h8M2523 709h8M2425 873h8M2373 356h8M2536 502h8M2551 340h8M2537 485h8M2594 490h8M2557 835h8M2438 650h8M2398 665h8M2512 705h8M2543 373h8M2418 607h8M2483 365h8M2530 331h8M2388 651h8M2324 871h8M2321 864h8M2572 912h8M2500 580h8M2490 666h8M2352 362h8M2215 611h8M2459 675h8M2546 845h8M2221 455h8M2518 366h8M2556 907h8M2363 352h8M2538 511h8M2412 640h8M2205 661h8M2399 864h8M2470 362h8M2346 875h8M2534 356h8M2441 608h8M2501 557h8M2433 671h8M2387 876h8M2508 569h8M2446 609h8M2525 715h8M2579 504h8M2442 651h8M2362 869h8M2479 338h8M2391 671h8M2653 502h8M2525 535h8M2231 857h8M2542 349h8M2287 361h8M2507 876h8M2206 589h8M2472 667h8M2583 830h8M2478 852h8M2505 566h8M2545 527h8M2432 602h8M2214 647h8M2507 342h8M2453 624h8M2236 477h8M2374 359h8M2532 724h8M2436 337h8M2419 855h8M2537 686h8M2405 629h8M2432 338h8M2264 327h8M2554 436h8M2578 488h8M2199 830h8M2580 860h8M2298 363h8M2535 768h8M2487 360h8M2401 356h8M2537 668h8M2435 655h8M2166 628h8M2551 476h8M2417 607h8M2246 398h8M2435 648h8M2450 677h8M2198 671h8M2551 664h8M2505 567h8M2468 585h8M2407 349h8M2536 696h8M2235 473h8M2271 325h8M2436 351h8M2222 571h8M2317 354h8M2473 666h8M2219 623h8M2606 436h8M2506 699h8M2227 498h8M2507 701h8M2453 353h8M2545 464h8M2204 712h8M2461 668h8M2347 350h8M2593 623h8M2536 533h8M2539 859h8M2592 432h8M2626 471h8M2571 569h8M2530 654h8M2547 447h8M2295 361h8M2599 430h8M2448 858h8M2515 651h8M2543 862h8M2485 563h8M2181 745h8M2512 604h8M2463 360h8M2499 366h8M2232 393h8M2467 582h8M2263 377h8M2339 866h8M2556 430h8M2536 774h8M2432 612h8M2336 869h8M2186 876h8M2559 428h8M2311 335h8M2590 580h8M2470 677h8M2430 662h8M2532 565h8M2338 348h8M2562 830h8M2194 642h8M2221 624h8M2553 463h8M2491 666h8M2430 864h8M2541 816h8M2441 357h8M2472 673h8M2483 360h8M2145 592h8M2489 638h8M2444 613h8M2655 481h8M2211 665h8M2305 325h8M2416 673h8M2430 618h8M2225 601h8M2556 445h8M2571 810h8M2477 677h8M2563 487h8M2501 354h8M2216 454h8M2450 600h8M2500 551h8M2335 361h8M2417 624h8M2215 612h8M2215 548h8M2482 847h8M2477 602h8M2541 363h8M2475 657h8M2357 358h8M2528 658h8M2465 349h8M2207 847h8M2469 602h8M2503 650h8M2245 397h8M2596 792h8M2539 676h8M2405 650h8M2478 847h8M2581 772h8M2198 671h8M2405 347h8M2487 565h8M2396 630h8M2472 656h8M2528 786h8M2562 503h8M2580 434h8M2568 499h8M2529 778h8M2529 854h8M2652 499h8M2434 361h8M2567 891h8M2467 340h8M2551 439h8M2192 863h8M2226 440h8M2495 676h8M2330 330h8M2466 639h8M2438 651h8M2571 838h8M2308 355h8M2557 662h8M2533 778h8M2547 457h8M2209 431h8M2475 673h8M2447 611h8M2305 876h8M2490 572h8M2541 499h8M2512 834h8M2533 363h8M2556 515h8M2539 547h8M2191 617h8M2321 355h8M2362 357h8M2219 580h8M2582 583h8M2382 347h8M2534 781h8M2518 919h8M2541 745h8M2227 480h8M2211 596h8M2528 532h8M2408 640h8M2498 646h8M2466 362h8M2549 338h8M2547 326h8M2533 687h8M2545 799h8M2207 427h8M2188 339h8M2576 520h8M2526 524h8M2523 366h8M2366 353h8M2408 670h8M2435 681h8M2487 863h8M2421 604h8M2539 357h8M2455 617h8M2453 584h8M2475 357h8M2471 589h8M2463 656h8M2224 427h8M2514 892h8M2454 620h8M2461 360h8M2507 690h8M2530 837h8M2475 352h8M2448 676h8M2502 678h8M2495 630h8M2245 398h8M2199 475h8M2519 346h8M2558 436h8M2528 564h8M2479 361h8M2603 510h8M2433 644h8M2499 674h8M2353 892h8M2538 554h8M2225 499h8M2600 502h8M2578 888h8M2202 761h8M2542 368h8M2543 545h8M2230 426h8M2421 628h8M2573 659h8M2427 860h8M2492 653h8M2469 676h8M2188 572h8M2443 622h8M2213 455h8M2457 618h8M2574 829h8M2522 809h8M2346 891h8M2542 509h8M2530 365h8M2213 845h8M2452 364h8M2558 601h8M2544 691h8M2532 725h8M2556 372h8M2526 541h8M2456 641h8M2531 746h8M2543 751h8M2217 645h8M2590 470h8M2444 665h8M2539 501h8M2424 648h8M2178 545h8M2556 415h8M2546 473h8M2537 809h8M2479 648h8M2468 867h8M2546 887h8M2459 873h8M2555 386h8M2570 541h8M2548 440h8M2193 396h8M2555 380h8M2530 785h8M2340 359h8M2243 873h8M2541 616h8M2596 766h8M2501 664h8M2183 689h8M2544 774h8M2507 569h8M2477 577h8M2574 444h8M2438 598h8M2506 845h8M2554 750h8M2391 644h8M2418 366h8M2552 461h8M2554 376h8M2215 393h8M2248 865h8M2473 667h8M2226 524h8M2403 857h8M2229 482h8M2143 457h8M2561 807h8M2160 421h8M2212 636h8M2506 562h8M2508 861h8M2472 903h8M2234 408h8M2582 426h8M2494 568h8M2464 365h8M2556 395h8M2442 677h8M2554 743h8M2474 883h8M2536 513h8M2530 762h8M2560 443h8M2425 612h8M2404 620h8M2485 646h8M2546 373h8M2440 636h8M2537 809h8M2529 702h8M2162 546h8M2404 623h8M2544 349h8M2551 812h8M2442 651h8M2562 852h8M2308 867h8M2410 628h8M2552 889h8M2437 646h8M2545 460h8M2219 628h8M2547 767h8M2478 352h8M2388 653h8M2534 739h8M2467 329h8M2439 364h8M2451 679h8M2223 550h8M2527 811h8M2533 697h8M2506 832h8M2205 655h8M2272 369h8M2512 701h8M2224 559h8M2204 720h8M2383 358h8M2530 745h8M2215 672h8M2385 652h8M2480 578h8M2588 572h8M2386 648h8M2517 702h8M2198 686h8M2623 511h8M2539 756h8M2424 672h8M2481 358h8M2508 843h8M2402 631h8M2530 518h8M2233 541h8M2559 754h8M2540 704h8M2244 374h8M2484 364h8M2500 623h8M2370 353h8M2447 655h8M2577 540h8M2478 365h8M2187 502h8M2463 607h8M2524 721h8M2531 819h8M2576 510h8M2229 497h8M2207 549h8M2387 664h8M2397 871h8M2547 352h8M2542 602h8M2208 801h8M2540 365h8M2580 452h8M2363 886h8M2250 352h8M2546 503h8M2470 617h8M2405 357h8M2511 680h8M2230 534h8M2444 584h8M2316 323h8M2219 650h8M2544 765h8M2586 564h8M2516 339h8M2522 837h8M2394 874h8M2515 708h8M2359 354h8M2473 649h8M2240 345h8M2417 652h8M2388 361h8M2346 877h8M2520 361h8M2513 663h8M2459 672h8M2224 622h8M2518 354h8M2230 524h8M2446 854h8M2344 352h8M2536 558h8M2515 595h8M2489 573h8M2526 807h8M2206 719h8M2517 836h8M2434 346h8M2528 365h8M2531 769h8M2529 733h8M2499 688h8M2553 802h8M2195 649h8M2491 356h8M2187 462h8M2511 677h8M2447 658h8M2474 365h8M2559 664h8M2232 504h8M2533 365h8M2476 588h8M2350 866h8M2548 514h8M2461 628h8M2556 414h8M2411 643h8M2533 737h8M2553 432h8M2512 546h8M2578 647h8M2393 663h8M2205 723h8M2228 489h8M2503 366h8M2389 657h8M2208 693h8M2550 450h8M2561 444h8M2161 383h8M2482 666h8M2448 667h8M2428 612h8M2527 842h8M2407 648h8M2447 363h8M2552 393h8M2469 882h8M2493 852h8M2218 633h8M2495 869h8M2519 343h8M2228 431h8M2561 516h8M2463 677h8M2196 530h8M2566 506h8M2496 881h8M2476 874h8M2574 475h8M2431 625h8M2482 850h8M2555 381h8M2546 496h8M2430 633h8M2636 510h8M2277 330h8M2420 630h8M2509 561h8M2548 373h8M2576 426h8M2533 364h8M2485 565h8M2399 625h8M2468 640h8M2641 451h8M2462 616h8M2516 707h8M2602 712h8M2221 573h8M2467 365h8M2315 864h8M2200 722h8M2413 337h8M2440 861h8M2509 544h8M2438 654h8M2522 818h8M2226 428h8M2224 420h8M2440 602h8M2525 794h8M2548 374h8M2537 745h8M2488 683h8M2523 717h8M2225 542h8M2467 675h8M2547 379h8M2570 606h8M2229 434h8M2366 904h8M2402 644h8M2246 386h8M2507 876h8M2546 369h8M2422 611h8M2577 840h8M2497 352h8M2603 570h8M2574 590h8M2532 366h8M2561 864h8M2227 540h8M2506 630h8M2501 843h8M2462 866h8M2437 655h8M2404 359h8M2542 741h8M2571 440h8M2335 884h8M2232 513h8M2545 367h8M2551 549h8M2222 589h8M2482 846h8M2542 529h8M2480 856h8M2523 569h8M2498 562h8M2527 357h8M2539 746h8M2527 771h8M2548 677h8M2503 362h8M2486 673h8M2575 812h8M2460 661h8M2557 419h8M2279 357h8M2455 646h8M2207 715h8M2246 399h8M2501 354h8M2443 360h8M2588 687h8M2391 355h8M2524 660h8M2184 612h8M2225 473h8M2537 481h8M2542 656h8M2499 613h8M2553 469h8M2567 432h8M2451 681h8M2512 570h8M2399 644h8M2456 669h8M2552 423h8M2554 394h8M2423 362h8M2536 498h8M2323 362h8M2540 479h8M2482 571h8M2426 608h8M2508 907h8M2552 440h8M2498 561h8M2530 780h8M2441 366h8M2308 360h8M2500 548h8M2554 874h8M2294 882h8M2530 839h8M2586 814h8M2525 519h8M2564 861h8M2518 360h8M2460 354h8M2525 857h8M2236 373h8M2553 452h8M2476 349h8M2404 679h8M2405 348h8M2492 663h8M2215 876h8M2575 532h8M2319 865h8M2179 829h8M2531 842h8M2558 453h8M2574 493h8M2527 793h8M2532 728h8M2567 720h8M2543 471h8M2400 633h8M2331 342h8M2678 493h8M2677 449h8M2556 827h8M2196 809h8M2555 474h8M2474 625h8M2606 607h8M2463 855h8M2626 562h8M2510 358h8M2555 408h8M2513 360h8M2503 545h8M2299 871h8M2554 427h8M2524 844h8M2537 762h8M2196 578h8M2583 443h8M2233 450h8M2539 361h8M2187 740h8M2330 874h8M2497 339h8M2389 361h8M2509 559h8M2549 459h8M2551 939h8M2514 357h8M2462 643h8M2455 596h8M2537 367h8M2552 409h8M2221 627h8M2338 360h8M2554 433h8M2571 424h8M2547 847h8M2189 669h8M2537 492h8M2508 698h8M2430 362h8M2501 365h8M2567 422h8M2602 832h8M2348 352h8M2537 756h8M2193 694h8M2519 854h8M2518 840h8M2569 427h8M2407 648h8M2553 464h8M2464 665h8M2235 476h8M2213 686h8M2419 653h8M2665 770h8M2528 831h8M2411 365h8M2538 333h8M2399 633h8M2374 942h8M2248 328h8M2450 863h8M2415 630h8M2559 810h8M2471 628h8M2579 508h8M2522 562h8M2477 588h8M2579 518h8M2539 517h8M2491 351h8M2438 365h8M2436 336h8M2413 344h8M2511 702h8M2504 359h8M2387 663h8M2487 672h8M2446 584h8M2619 665h8M2423 676h8M2202 615h8M2550 767h8M2472 605h8M2428 362h8M2531 771h8M2488 355h8M2404 617h8M2390 637h8M2522 528h8M2596 475h8M2555 436h8M2556 451h8M2524 828h8M2206 795h8M2189 472h8M2531 518h8M2481 348h8M2533 760h8M2452 338h8M2611 595h8M2433 611h8M2518 356h8M2446 587h8M2542 763h8M2325 889h8M2391 641h8M2468 669h8M2538 821h8M2549 712h8M2550 438h8M2440 347h8M2400 624h8M2538 760h8M2443 856h8M2576 920h8M2581 802h8M2543 720h8M2599 818h8M2467 605h8M2547 456h8M2539 824h8M2378 363h8M2522 717h8M2557 635h8M2509 565h8M2549 698h8M2191 328h8M2563 627h8M2429 638h8M2222 497h8M2474 675h8M2395 658h8M2427 625h8M2434 631h8M2520 351h8M2372 878h8M2534 551h8M2494 680h8M2201 444h8M2504 363h8M2512 881h8M2414 629h8M2435 364h8M2509 361h8M2350 355h8M2429 676h8M2321 875h8M2222 618h8M2530 763h8M2513 694h8M2518 362h8M2483 678h8M2527 794h8M2502 560h8M2408 665h8M2575 434h8M2473 355h8M2226 623h8M2544 477h8M2316 355h8M2550 355h8M2195 756h8M2539 470h8M2494 851h8M2463 636h8M2600 811h8M2449 355h8M2589 438h8M2553 545h8M2550 873h8M2606 446h8M2551 375h8M2542 507h8M2568 811h8M2539 516h8M2214 891h8M2547 356h8M2525 706h8M2570 618h8M2227 420h8M2447 674h8M2479 361h8M2223 519h8M2500 362h8M2572 463h8M2544 480h8M2525 812h8M2203 681h8M2182 585h8M2411 647h8M2550 433h8M2529 790h8M2449 642h8M2588 488h8M2426 601h8M2372 352h8M2540 536h8M2541 500h8M2337 867h8M2468 628h8M2531 738h8M2564 905h8M2215 674h8M2546 522h8M2560 436h8M2227 428h8M2532 515h8M2564 422h8M2229 456h8M2544 360h8M2355 364h8M2456 677h8M2514 705h8M2342 359h8M2493 846h8M2553 401h8M2394 881h8M2532 791h8M2194 738h8M2551 874h8M2546 622h8M2419 669h8M2539 840h8M2411 616h8M2497 360h8M2599 432h8M2539 504h8M2419 630h8M2532 716h8M2362 867h8M2308 354h8M2224 449h8M2526 530h8M2394 639h8M2226 569h8M2417 659h8M2509 363h8M2471 348h8M2556 442h8M2418 867h8M2552 525h8M2553 892h8M2519 593h8M2459 882h8M2430 633h8M2389 659h8M2235 456h8M2389 356h8M2477 350h8M2456 647h8M2601 496h8M2453 360h8M2479 366h8M2225 388h8M2534 732h8M2547 563h8M2192 707h8M2576 518h8M2519 533h8M2398 658h8M2498 361h8M2473 583h8M2336 351h8M2487 852h8M2447 863h8M2592 528h8M2495 858h8M2515 556h8M2452 650h8M2486 643h8M2418 341h8M2550 503h8M2554 517h8M2667 558h8M2234 464h8M2538 828h8M2208 856h8M2207 618h8M2227 401h8M2577 515h8M2561 430h8M2523 818h8M2534 748h8M2228 551h8M2446 635h8M2444 590h8M2162 806h8M2463 577h8M2438 664h8M2559 833h8M2555 405h8M2544 539h8M2424 675h8M2445 607h8M2155 737h8M2485 675h8M2552 365h8M2524 522h8M2516 538h8M2587 419h8M2563 423h8M2221 575h8M2549 503h8M2549 548h8M2491 586h8M2475 865h8M2526 828h8M2561 858h8M2445 609h8M2520 839h8M2452 679h8M2497 586h8M2226 533h8M2221 590h8M2563 710h8M2397 671h8M2281 356h8M2519 913h8M2568 840h8M2491 676h8M2601 438h8M2529 352h8M2216 413h8M2315 359h8M2321 358h8M2467 625h8M2505 551h8M2555 418h8M2387 350h8M2365 862h8M2438 605h8M2547 375h8M2525 813h8M2562 437h8M2471 583h8M2458 853h8M2595 460h8M2443 613h8M2411 615h8M2199 674h8M2510 838h8M2417 633h8M2265 355h8M2132 553h8M2473 862h8M2462 668h8M2447 643h8M2526 823h8M2426 603h8M2220 458h8M2442 633h8M2484 661h8M2225 606h8M2570 674h8M2227 478h8M2501 841h8M2216 609h8M2517 711h8M2177 523h8M2554 444h8M2542 731h8M2589 453h8M2645 541h8M2553 427h8M2459 362h8M2270 368h8M2444 872h8M2469 672h8M2174 719h8M2386 351h8M2442 600h8M2415 670h8M2553 390h8M2519 835h8M2448 661h8M2499 562h8M2500 688h8M2415 340h8M2532 737h8M2235 466h8M2497 357h8M2426 363h8M2487 849h8M2394 346h8M2265 370h8M2360 353h8M2321 876h8M2424 665h8M2530 650h8M2193 700h8M2430 680h8M2210 683h8M2431 619h8M2535 363h8M2446 597h8M2413 632h8M2227 460h8M2546 447h8M2530 572h8M2551 449h8M2554 425h8M2542 805h8M2681 732h8M2398 656h8M2537 498h8M2428 615h8M2544 357h8M2243 395h8M2229 411h8M2465 363h8M2535 568h8M2459 355h8M2521 821h8M2551 433h8M2437 631h8M2357 362h8M2551 777h8M2568 483h8M2557 530h8M2588 503h8M2554 402h8M2528 725h8M2509 584h8M2536 487h8M2348 361h8M2421 356h8M2581 448h8M2542 855h8M2314 363h8M2346 360h8M2524 818h8M2462 629h8M2393 632h8M2578 567h8M2477 681h8M2569 514h8M2563 457h8M2475 657h8M2535 793h8M2443 674h8M2212 437h8M2212 673h8M2547 471h8M2222 616h8M2187 370h8M2142 621h8M2543 749h8M2574 719h8M2548 618h8M2540 352h8M2494 842h8M2506 680h8M2187 747h8M2204 393h8M2566 467h8M2364 356h8M2249 861h8M2429 346h8M2543 853h8M2488 567h8M2386 350h8M2464 887h8M2388 644h8M2226 467h8M2388 658h8M2508 898h8M2532 799h8M2526 359h8M2223 546h8M2233 434h8M2549 805h8M2402 360h8M2480 654h8M2198 532h8M2224 618h8M2408 627h8M2474 575h8M2479 353h8M2532 531h8M2486 610h8M2462 864h8M2455 863h8M2559 432h8M2419 628h8M2573 923h8M2554 454h8M2520 363h8M2205 731h8M2488 672h8M2219 487h8M2422 659h8M2394 354h8M2512 351h8M2345 357h8M2556 506h8M2536 756h8M2525 725h8M2162 580h8M2476 892h8M2461 878h8M2293 359h8M2487 366h8M2259 355h8M2362 351h8M2396 634h8M2523 815h8M2248 398h8M2500 689h8M2517 533h8M2534 360h8M2511 562h8M2331 864h8M2416 331h8M2407 883h8M2422 360h8M2225 439h8M2533 504h8M2568 480h8M2525 804h8M2432 866h8M2220 520h8M2230 510h8M2237 364h8M2551 475h8M2544 478h8M2241 367h8M2278 363h8M2413 624h8M2205 415h8M2320 358h8M2476 365h8M2299 352h8M2346 363h8M2200 531h8M2536 740h8M2408 651h8M2433 366h8M2451 360h8M2484 861h8M2230 452h8M2387 648h8M2561 434h8M2504 872h8M2547 745h8M2214 565h8M2326 359h8M2490 684h8M2518 698h8M2646 767h8M2635 870h8M2519 563h8M2396 353h8M2550 363h8M2472 363h8M2210 485h8M2474 849h8M2340 871h8M2527 359h8M2543 815h8M2207 829h8M2606 495h8M2403 651h8M2241 388h8M2190 737h8M2261 377h8M2514 539h8M2532 868h8M2385 652h8M2448 676h8M2519 711h8M2232 466h8M2164 753h8M2448 612h8M2548 708h8M2485 673h8M2229 503h8M2447 625h8M2458 355h8M2206 706h8M2542 836h8M2225 556h8M2559 427h8M2190 597h8M2419 636h8M2569 445h8M2267 866h8M2540 830h8M2404 647h8M2233 511h8" stroke="#000" stroke-width="8" stroke-opacity="0.9"/>
<path transform="scale(.1)" d="M2348 859l-108-4-22-10-7-9 1-35-7-60 11-75 11-47-1-43 6-32 5-75-4-35 4-20 17-28 24-19 12-5 50-3 195 5 8 6 7 14 3 32-20 80-10 23-33 36-48 26-39 31-18 34 5 23 8 7 77 0 18 8 22 22 11 18 3 17-9 75-10 9-45 22-117 12z" fill="none" stroke="#111" stroke-width="11" stroke-linejoin="round"/>
<path transform="scale(.1)" d="M2310 849l-25 0-51-8-9-5-4-10 3-22-6-83 10-70 12-32-2-40 5-10 17-7 3-8-9-35-10-75 6-25 13-22 20-21 10-5 15 1 22 8 45-11 43 8 35-5 78 4 11 13 2 27-20 48 0 30-9 23-32 31-89 48-7 10-13 35 5 40 4 7 85-4 18 7 22 23 6 17 0 40-6 36-10 9-38 19-11-1-16-14-18 13-15 6-55 9-35 1z" fill="none" stroke="#111" stroke-width="6" stroke-linejoin="round"/>
<path transform="scale(.1)" d="M2305 836l-22 2-25-10-20 5-7-4-3-8 8-60-8-25-1-17 10-65 17-28 2-37 12-9 5-9 13 3-11-11-5-29 0-28-16-52 3-25 13-19 28-23 35 10 10-3 20-12 15-3 15 2 27 13 33-12 40 6 32-2 6 8 3 20-30 45-1 13 7 19-5 21-27 25-90 54-28 43 8 32-5 30 5 10 7 1 35-11 38 1 15-3 12 4 9 8 14 21-1 19 6 25-6 25-9 10-18 7-40-6-22 17-13 5-35 6-55 1zM2341 761l12-2 9-8 2-7-4-8-7 0-20 15 0 7 8 3z" fill="none" stroke="#222" stroke-width="6" stroke-linejoin="round"/>
<path transform="scale(.1)" d="M2350 693l-10-4-10-25-7-10-23-4-17-11-14-3-5-25 4-13 5-5 12 2 15-3 13-11-22-35-8-35-12-27-9-35 3-18 13-14 22-13 43 3 32-15 13 1 19 13 13 3 15-3 23-13 57 4 6 9 0 8-23 40-5 35-11 25-9 9-28 12-19 24-44 30-35 35-1 12 13 30-9 27zM2378 824l-18 2-45-6-27 5-20-7-20 5-8-2-2-20 10-40-12-27-1-18 10-52 8-13 15-10 7 10 15 10 2 23 6 9 47 16-2 17-18 28-7 18 20 4 37-8 30 15 10 8 3 13-6 7-14 9-20 4zM2470 804l-20-1-8-7-2-7 3-23-5-18-48-1-9-11-3-17 20-12 17-3 18 3 17 9 15 0 9 5 6 10 2 18 11 17 1 10-6 19-18 9zM2292 736l13-7 10-14-7-4-8 3-13 22 5 0z" fill="none" stroke="#333" stroke-width="6" stroke-linejoin="round"/>
<path transform="scale(.1)" d="M2355 599l-12-1-10-7-30-42-23-63-3-22-7-13 3-17 20-16 15-6 32 5 35-8 45 9 50-11 34 7 1 7-12 28-9 32-11 18-10 10-25 13-15 29-12 13-56 35zM2300 619l-11 0-4-5 15-5 4 5-4 5zM2258 744l-5 0-7-8-4-17 11-44 5-7 7-3 8 11 8 38-8 20-15 10zM2258 814l-10-1-3-7 2-15 7-12 31-30 23-14 15-17 9-4 6 1-1 11-17 25-15 30-25 24-22 9zM2413 732l-13-1-8-10 11-7 7-1 17 8-14 11zM2465 796l-11-20 1-32 5-6 5 6 4 15 16 20-5 12-15 5zM2385 816l-20 2-20-6-10-11-1-5 26-15 18 1 20 9 8 10-3 8-18 7z" fill="none" stroke="#3a3a3a" stroke-width="6" stroke-linejoin="round"/>
<path transform="scale(.1)" d="M2355 589l-10-1-7-4-26-38-23-57 5-25-10-20 4-10 11-10 9-3 27 7 35-8 48 5 52-5 15 4 3 5 0 10-13 39-42 32-16 36-10 13-24 17-28 13zM2255 729l-2-10 7-17 2 17-7 10zM2265 807l-7 0-5-3-1-10 5-10 33-31 20-5-4 18-7 13-19 20-15 8zM2380 809l-10 0-2-10 7-2 8 4 1 5-4 3z" fill="none" stroke="#444" stroke-width="6" stroke-linejoin="round"/>
<path transform="scale(.1)" d="M2360 579l-12 0-10-9-36-71-2-13 8-22-3-27 5-3 28 6 35-11 90 1 12 3 3 13-9 23-34 17-12 19-17 44-22 20-24 10zM2268 799l-8-3 3-10 32-25 2 5-5 10-13 15-11 8z" fill="none" stroke="#4a4a4a" stroke-width="6" stroke-linejoin="round"/>
<path transform="scale(.1)" d="M2368 569l-15 0-10-8-16-37-14-23-1-12 11-34 57-18 68 1 16 3 2 8-3 10-8 6-22 10-13 11-19 53-18 22-15 8z" fill="none" stroke="#555" stroke-width="6" stroke-linejoin="round"/>
<path transform="scale(.1)" d="M2370 559l-12 0-10-8-24-50 0-12 9-23 52-22 23 0 39 7-1 5-18 11-21 19-9 34-18 31-10 8z" fill="none" stroke="#5a5a5a" stroke-width="6" stroke-linejoin="round"/>
<path transform="scale(.1)" d="M2360 537l-24-36 2-19 6-8 34-19 12-3 12 2 6 6-1 9-41 52-6 16z" fill="none" stroke="#606060" stroke-width="6" stroke-linejoin="round"/>
<path transform="scale(.1)" d="M2360 504l-5 1-5-4-1-15 11-7 18-3-2 10-16 18z" fill="none" stroke="#666" stroke-width="6" stroke-linejoin="round"/><ellipse cx="229.2" cy="76.4" rx="9.8" ry="3.7" transform="rotate(-47.7 229.2 76.4)" fill="#444" fill-opacity="0.6" stroke="#111" stroke-width="1.0"/><ellipse cx="230.0" cy="76.0" rx="6.0" ry="1.8" transform="rotate(-48.4 230.0 76.0)" fill="none" stroke="#222" stroke-width="0.7"/>
<path transform="scale(.1)" d="M3070 530h8M3355 819h8M3268 896h8M3316 745h8M3316 408h8M3060 558h8M3335 756h8M3379 814h8M3085 349h8M3291 634h8M3290 718h8M3332 641h8M3323 565h8M3317 565h8M3322 886h8M3318 600h8M3340 782h8M3268 386h8M3293 355h8M3336 570h8M3323 711h8M3366 560h8M3184 408h8M3175 398h8M3278 751h8M3356 745h8M3353 580h8M3068 816h8M3002 648h8M3269 705h8M3413 431h8M3324 684h8M3328 769h8M3015 831h8M3404 823h8M3340 748h8M3302 749h8M3360 787h8M3060 560h8M3222 405h8M3299 597h8M3336 709h8M3389 498h8M3328 331h8M3277 399h8M3315 738h8M3342 724h8M3329 627h8M3294 656h8M3347 503h8M3292 674h8M3051 799h8M3390 886h8M3346 591h8M3353 442h8M3321 394h8M3366 794h8M3324 606h8M3356 607h8M3355 853h8M3308 760h8M3374 349h8M3281 898h8M3368 785h8M3350 710h8M3065 723h8M3312 923h8M3055 514h8M3319 627h8M3327 559h8M3401 892h8M3315 917h8M3333 647h8M3327 890h8M3313 647h8M3274 735h8M3318 703h8M3339 510h8M3270 727h8M3353 888h8M3341 760h8M3347 488h8M3308 648h8M3338 672h8M3265 734h8M3068 700h8M3404 669h8M3320 758h8M3294 740h8M3355 489h8M3115 406h8M3359 828h8M3326 572h8M3369 588h8M3373 855h8M3370 406h8M3384 839h8M3423 824h8M3281 890h8M3208 907h8M3350 482h8M3067 739h8M3275 758h8M3368 905h8M3302 602h8M3038 551h8M3050 597h8M3050 573h8M3224 932h8M3276 748h8M3024 631h8M3094 406h8M3026 936h8M3403 893h8M3336 604h8M3207 892h8M3375 761h8M3337 697h8M3371 776h8M3302 892h8M3168 403h8M3397 815h8M3352 802h8M3062 719h8M3348 580h8M3345 511h8M3362 582h8M3244 903h8M3388 761h8M3298 629h8M3049 761h8M3319 670h8M3351 781h8M3288 898h8M3299 600h8M3276 752h8M3350 422h8M3367 655h8M3341 775h8M3377 606h8M3343 767h8M3318 885h8M3304 405h8M3333 565h8M3315 636h8M3303 752h8M3511 484h8M3229 899h8M3329 884h8M3365 813h8M3402 857h8M3460 833h8M3324 759h8M3290 620h8M3333 941h8M3346 765h8M3262 380h8M3187 894h8M3315 575h8M3362 461h8M3380 763h8M3346 788h8M3352 431h8M3481 782h8M3392 648h8M3353 814h8M3329 551h8M3383 572h8M3356 808h8M3330 659h8M3323 366h8M3337 503h8M3355 346h8M3267 899h8M3336 678h8M3358 415h8M3363 651h8M3378 801h8M3327 764h8M3274 888h8M3382 532h8M3322 410h8M3408 546h8M3239 887h8M3008 625h8M3358 785h8M3380 515h8M3393 807h8M3308 382h8M3385 658h8M3251 383h8M3318 885h8M3378 859h8M3262 689h8M3355 401h8M3349 465h8M3057 596h8M3313 759h8M3330 567h8M3373 561h8M3310 743h8M3337 620h8M3276 691h8M3341 356h8M3300 718h8M3166 393h8M3359 831h8M3297 738h8M3364 811h8M3350 686h8M3312 901h8M3390 798h8M3338 553h8M3059 493h8M3400 398h8M3209 404h8M3370 572h8M3331 539h8M3322 398h8M3328 545h8M3408 908h8M3355 474h8M3345 537h8M3333 523h8M3333 941h8M3247 406h8M3272 405h8M3353 750h8M3356 751h8M3348 772h8M3366 693h8M3433 723h8M3503 511h8M3287 621h8M3343 785h8M3312 633h8M3352 474h8M3309 757h8M3065 509h8M3118 894h8M3352 805h8M3379 734h8M3313 577h8M3342 695h8M3067 773h8M3365 460h8M3392 453h8M3359 866h8M3017 617h8M3361 494h8M3346 535h8M3313 370h8M3288 675h8M3343 489h8M3314 566h8M3392 331h8M3357 547h8M3321 686h8M3045 783h8M3307 657h8M3137 399h8M3315 732h8M3342 652h8M3278 902h8M3301 935h8M3071 531h8M3369 432h8M3346 523h8M3270 687h8M3280 916h8M3064 605h8M3379 864h8M3311 394h8M3338 516h8M3285 406h8M3104 397h8M3063 650h8M3361 695h8M3355 857h8M3286 622h8M3387 721h8M3335 652h8M3270 737h8M3253 893h8M3272 891h8M3392 497h8M3371 575h8M3303 410h8M3344 409h8M3358 646h8M3365 443h8M3292 694h8M3350 797h8M3316 571h8M3404 907h8M3334 526h8M3395 828h8M3326 704h8M3073 433h8M3358 707h8M3074 389h8M3351 456h8M3263 722h8M3308 598h8M3310 889h8M3295 613h8M3305 593h8M3327 387h8M3308 681h8M3335 878h8M3040 516h8M3342 492h8M3314 676h8M3149 908h8M3120 891h8M3339 406h8M3337 513h8M3385 819h8M3309 393h8M3034 555h8M3370 813h8M3332 896h8M3371 798h8M3248 894h8M3321 891h8M3350 619h8M3278 658h8M3352 802h8M3029 459h8M3332 406h8M3341 538h8M3402 832h8M3042 636h8M3349 496h8M3330 405h8M3388 617h8M3311 570h8M3034 652h8M3375 594h8M3379 464h8M3146 895h8M3372 518h8M3184 401h8M3354 614h8M3364 837h8M3323 754h8M3314 895h8M3345 793h8M3353 621h8M3339 671h8M3288 649h8M3190 405h8M3320 761h8M3272 744h8M3355 869h8M3076 428h8M3241 322h8M3354 452h8M3389 809h8M3353 355h8M3304 580h8M3483 652h8M3401 625h8M3395 424h8M3315 411h8M3338 509h8M3305 402h8M3349 666h8M3311 663h8M3391 668h8M3149 391h8M3296 604h8M3340 723h8M3364 797h8M3054 490h8M3303 733h8M3173 396h8M3309 663h8M3045 728h8M3311 651h8M3392 367h8M3423 480h8M3274 392h8M3349 535h8M3331 536h8M3289 656h8M3047 483h8M3275 671h8M3313 735h8M3334 530h8M3305 891h8M3145 409h8M3353 716h8M3380 476h8M3303 752h8M3327 680h8M3065 674h8M3273 748h8M3337 685h8M3363 449h8M3386 849h8M3384 429h8M3128 907h8M3345 773h8M3282 404h8M3261 393h8M3286 688h8M3318 693h8M3337 755h8M3390 864h8M3353 881h8M3052 740h8M3284 730h8M3375 550h8M3361 604h8M3354 485h8M3334 603h8M3352 417h8M3384 445h8M3061 515h8M3268 745h8M3314 733h8M3363 886h8M3327 764h8M3296 380h8M3324 601h8M3295 640h8M3311 655h8M3364 856h8M3279 718h8M3068 442h8M3308 639h8M3293 617h8M3326 733h8M3352 838h8M3298 403h8M3271 747h8M3333 543h8M3333 641h8M3280 634h8M3329 411h8M3079 425h8M3363 849h8M3315 675h8M3371 742h8M3365 773h8M3349 781h8M3382 898h8M3351 436h8M3355 470h8M3033 585h8M3355 822h8M3051 840h8M3342 671h8M3256 403h8M3312 752h8M3352 668h8M3375 763h8M3408 911h8M3325 565h8M3176 408h8M3063 710h8M3321 577h8M3342 493h8M3309 615h8M3308 576h8M3316 696h8M3426 553h8M3305 664h8M3378 802h8M3375 451h8M3367 457h8M3317 683h8M3311 727h8M3290 748h8M3360 440h8M3359 846h8M3365 758h8M3271 676h8M3099 397h8M3056 615h8M3014 751h8M3369 783h8M3212 407h8M3392 835h8M3330 902h8M3385 599h8M3351 744h8M3338 678h8M3274 661h8M3355 718h8M3288 721h8M3255 902h8M3367 798h8M3377 626h8M3367 505h8M3036 701h8M3051 419h8M3329 566h8M3230 402h8M3128 394h8M3482 851h8M3385 794h8M3400 893h8M3355 437h8M3050 548h8M3339 604h8M3317 370h8M3394 863h8M3294 615h8M3293 394h8M3056 671h8M3314 608h8M3350 683h8M3323 650h8M3340 388h8M3330 568h8M3441 707h8M3304 691h8M3457 597h8M3413 332h8M3419 600h8M3317 729h8M3264 712h8M3365 423h8M3268 680h8M3079 880h8M3383 799h8M3416 422h8M3353 772h8M3379 426h8M3373 802h8M3279 638h8M3352 352h8M3066 806h8M3396 754h8M3120 395h8M3058 586h8M3423 870h8M3288 756h8M3341 914h8M3341 549h8M3334 540h8M3302 696h8M3308 386h8M3417 422h8M3434 490h8M3355 559h8M3300 895h8M3359 505h8M3349 651h8M3389 624h8M3357 486h8M3056 499h8M3385 485h8M3366 831h8M3195 387h8M3360 849h8M3290 729h8M3181 403h8M3002 852h8M3335 901h8M3063 640h8M3306 380h8M3384 805h8M3328 584h8M3251 405h8M3362 616h8M3249 397h8M3288 385h8M3012 627h8M3067 403h8M3355 496h8M3362 692h8M3240 376h8M3336 519h8M3416 831h8M3351 523h8M3001 828h8M3306 734h8M3139 384h8M3390 745h8M3390 827h8M3392 838h8M3290 408h8M3215 913h8M3401 776h8M3355 549h8M3349 728h8M3340 681h8M3317 373h8M3316 628h8M3219 378h8M3313 368h8M3296 757h8M3341 503h8M3275 663h8M3048 494h8M3345 498h8M3374 861h8M3266 684h8M3063 633h8M3316 649h8M3306 654h8M3049 627h8M3228 402h8M3358 684h8M3245 916h8M3110 404h8M3336 526h8M3317 900h8M3295 658h8M3338 731h8M3374 562h8M3398 869h8M3381 443h8M3133 898h8M3265 716h8M3325 546h8M3228 892h8M3367 556h8M3273 664h8M3345 719h8M3320 743h8M3360 468h8M3349 744h8M3515 746h8M3191 400h8M3296 611h8M3339 677h8M3217 912h8M3352 404h8M3358 669h8M3398 504h8M3356 369h8M3318 756h8M3201 369h8M3262 690h8M3318 680h8M3313 636h8M3294 721h8M3356 779h8M3295 666h8M3283 402h8M3381 626h8M3392 493h8M3355 840h8M3162 357h8M3051 591h8M3417 834h8M3365 388h8M3359 460h8M3449 546h8M3290 747h8M3067 481h8M3047 771h8M3318 627h8M3260 405h8M3366 474h8M3387 802h8M3313 734h8M3304 667h8M3053 779h8M3064 579h8M3350 483h8M3388 801h8M3382 524h8M3376 436h8M3194 398h8M3274 741h8M3335 652h8M3333 688h8M3361 838h8M3288 676h8M3330 702h8M3289 746h8M3297 630h8M3148 888h8M3316 611h8M3353 400h8M3301 409h8M3368 769h8M3062 461h8M3313 745h8M3065 762h8M3376 561h8M3353 875h8M3413 629h8M3302 751h8M3051 688h8M3308 598h8M3354 469h8M3332 527h8M3287 718h8M3370 701h8M3111 388h8M3392 715h8M3412 926h8M3322 640h8M3359 540h8M3359 807h8M3059 780h8M3047 675h8M3345 895h8M3325 406h8M3339 927h8M3384 892h8M3373 483h8M3323 564h8M3285 623h8M3359 700h8M3365 758h8M3371 568h8M3342 517h8M3362 783h8M3311 660h8M3357 805h8M3070 415h8M3070 508h8M3153 389h8M3053 709h8M3388 735h8M3109 394h8M3355 857h8M3287 677h8M3210 409h8M3297 741h8M3347 538h8M3306 916h8M3335 517h8M3355 418h8M3322 670h8M3272 379h8M3325 640h8M3308 582h8M3356 505h8M3379 585h8M3369 605h8M3393 700h8M3343 631h8M3300 690h8M3049 630h8M3402 784h8M3288 715h8M3311 594h8M3287 621h8M3287 905h8M3061 870h8M3423 864h8M3064 763h8M3129 346h8M3271 673h8M3334 562h8M3314 601h8M3378 380h8M3349 423h8M3259 706h8M3336 390h8M3318 671h8M3353 758h8M3316 402h8M3357 477h8M3320 623h8M3382 896h8M3036 582h8M3380 764h8M3188 408h8M3349 532h8M3247 392h8M3323 742h8M3301 727h8M3379 676h8M3327 372h8M3279 400h8M3233 392h8M3354 823h8M3353 399h8M3335 520h8M3002 670h8M3353 874h8M3289 736h8M3386 607h8M3317 886h8M3346 533h8M3344 887h8M3355 731h8M3256 894h8M3319 920h8M3355 388h8M3406 832h8M3308 671h8M3238 402h8M3334 652h8M3533 724h8M3335 579h8M3283 658h8M3354 384h8M3342 675h8M3046 719h8M3319 560h8M3364 834h8M3222 395h8M3271 709h8M3271 679h8M3221 403h8M3308 736h8M3355 853h8M3325 567h8M3361 869h8M3285 675h8M3336 408h8M3353 498h8M3399 363h8M3366 389h8M3362 483h8M3276 710h8M3353 430h8M3272 670h8M3303 585h8M3136 394h8M3311 746h8M3376 638h8M3331 716h8M3069 440h8M3266 404h8M3404 536h8M3325 411h8M3369 516h8M3161 912h8M3261 369h8M3362 813h8M3348 898h8M3407 933h8M3305 906h8M3387 822h8M3296 621h8M3371 863h8M3393 482h8M3061 676h8M3353 788h8M3372 470h8M3058 712h8M3069 472h8M3332 383h8M3324 735h8M3287 681h8M3231 395h8M3019 772h8M3295 403h8M3381 408h8M3223 407h8M3362 817h8M3376 725h8M3267 392h8M3102 340h8M3392 711h8M3423 618h8M3324 557h8M3251 385h8M3343 411h8M3266 724h8M3292 397h8M3264 726h8M3221 376h8M3259 390h8M3412 631h8M3370 700h8M3478 487h8M3373 835h8M3359 862h8M3315 748h8M3349 425h8M3358 762h8M3371 789h8M3368 447h8M3356 640h8M3312 624h8M3373 760h8M3360 858h8M3327 638h8M3399 683h8M3374 550h8M3104 334h8M3296 693h8M3299 615h8M3280 379h8M3327 569h8M3208 376h8M3355 875h8M3022 450h8M3363 445h8M3357 812h8M3342 765h8M3092 887h8M3299 614h8M3336 677h8M3440 546h8M3169 890h8M3307 593h8M3348 887h8M3344 639h8M3348 512h8M3264 911h8M3378 686h8M3251 404h8M3337 534h8M3366 744h8M3415 473h8M3381 698h8M3331 529h8M3337 732h8M3378 742h8M3370 492h8M3367 407h8M3357 446h8M3367 862h8M3302 657h8M3305 628h8M3114 898h8M3327 626h8M3332 407h8M3175 399h8M3244 403h8M3377 756h8M3104 399h8M3371 853h8M3344 677h8M3360 393h8M3060 434h8M3270 662h8M3355 578h8M3197 887h8M3329 624h8M3388 892h8M3336 525h8M3376 446h8M3061 729h8M3303 691h8M3317 637h8M3224 383h8M3285 385h8M3298 406h8M3312 644h8M3224 924h8M3291 717h8M3064 491h8M3045 714h8M3007 446h8M3203 384h8M3389 686h8M3079 400h8M3338 502h8M3301 595h8M3326 326h8M3068 574h8M3308 760h8M3179 402h8M3292 627h8M3359 672h8M3395 656h8M3371 875h8M3376 645h8M3356 822h8M3349 422h8M3372 457h8M3325 895h8M3071 423h8M3211 898h8M3353 466h8M3360 792h8M3377 796h8M3355 443h8M3530 693h8M3269 667h8M3341 578h8M3334 884h8M3370 786h8M3372 601h8M3353 443h8M3437 664h8M3303 397h8M3295 394h8M3272 678h8M3060 699h8M3320 602h8M3343 885h8M3253 893h8M3403 469h8M3123 903h8M3327 591h8M3333 413h8M3342 878h8M3311 651h8M3351 354h8M3329 706h8M3390 859h8M3273 744h8M3369 851h8M3064 620h8M3388 704h8M3339 516h8M3323 694h8M3341 703h8M3318 560h8M3328 344h8M3296 340h8M3231 390h8M3343 578h8M3339 534h8M3347 747h8M3063 922h8M3057 407h8M3335 585h8M3351 471h8M3436 652h8M3288 718h8M3033 394h8M3337 918h8M3293 613h8M3398 883h8M3343 543h8M3103 408h8M3303 745h8M3159 403h8M3335 667h8M3385 521h8M3300 360h8M3341 398h8M3300 617h8M3275 667h8M3121 397h8M3388 444h8M3367 854h8M3367 706h8M3292 895h8M3346 789h8M3281 749h8M3275 404h8M3313 688h8M3357 433h8M3403 791h8M3330 608h8M3324 601h8M3396 748h8M3386 558h8M3326 913h8M3300 606h8M3376 574h8M3020 608h8M3328 896h8M3306 893h8M3354 853h8M3291 690h8M3327 559h8M3281 900h8M3436 863h8M3311 630h8M3296 405h8M3357 804h8M3339 496h8M3281 654h8M3311 890h8M3290 405h8M3395 908h8M3315 884h8M3345 877h8M3308 380h8M3359 888h8M3318 883h8M3332 607h8M3388 751h8M3096 389h8M3082 420h8M3016 586h8M3283 743h8M3330 575h8M3334 543h8M3293 618h8M3265 914h8M3331 370h8M3013 831h8M3393 714h8M3322 568h8M3352 461h8M3249 900h8M3330 886h8M3252 892h8M3326 401h8M3033 543h8M3294 629h8M3378 869h8M3280 639h8M3384 786h8M3046 604h8M3347 525h8M3391 849h8M3454 442h8M3342 497h8M3323 554h8M3351 674h8M3347 619h8M3299 920h8M3303 745h8M3297 675h8M3394 797h8M3357 453h8M3371 515h8M3390 800h8M3231 387h8M3267 393h8M3523 468h8M3396 704h8M3344 776h8M3361 681h8M3068 795h8M3331 594h8M3122 406h8M3280 721h8M3354 883h8M3349 699h8M3358 480h8M3343 571h8M3210 409h8M3359 725h8M3244 398h8M3310 391h8M3268 696h8M3410 879h8M3345 483h8M3077 381h8M3378 708h8M3313 611h8M3338 768h8M3282 657h8M3382 486h8M3370 430h8M3272 403h8M3031 609h8M3241 330h8M3288 401h8M3401 523h8M3289 752h8M3265 704h8M3358 832h8M3290 663h8M3271 675h8M3357 830h8M3173 402h8M3367 710h8M3127 403h8M3383 780h8M3068 531h8M3375 757h8M3337 686h8M3322 674h8M3357 762h8M3381 811h8M3325 662h8M3354 477h8M3397 434h8M3277 700h8M3284 741h8M3355 799h8M3299 597h8M3286 643h8M3365 807h8M3365 586h8M3036 883h8M3329 603h8M3301 932h8M3166 406h8M3362 504h8M3318 898h8M3358 549h8M3348 894h8M3381 639h8M3362 638h8M3352 405h8M3384 866h8M3037 638h8M3332 408h8M3327 548h8M3348 397h8M3340 767h8M3286 395h8M3373 552h8M3071 740h8M3301 713h8M3410 594h8M3315 757h8M3313 595h8M3322 662h8M3376 874h8M3361 871h8M3345 602h8M3347 484h8M3272 704h8M3274 683h8M3339 665h8M3285 323h8M3314 687h8M3313 888h8M3356 873h8M3379 432h8M3323 571h8M3315 893h8M3309 912h8M3371 834h8M3314 644h8M3336 550h8M3294 731h8M3358 473h8M3245 896h8M3345 482h8M3064 831h8M3060 676h8M3331 540h8M3386 592h8M3276 675h8M3349 529h8M3365 841h8M3359 678h8M3319 758h8M3475 898h8M3330 408h8M3314 744h8M3320 676h8M3360 474h8M3355 807h8M3342 702h8M3364 900h8M3303 377h8M3341 912h8M3293 607h8M3223 402h8M3110 403h8M3371 632h8M3068 727h8M3383 710h8M3309 575h8M3283 735h8M3349 798h8M3369 786h8M3029 696h8M3340 586h8M3358 818h8M3271 725h8M3342 730h8M3288 749h8M3315 918h8M3344 506h8M3327 649h8M3295 637h8M3369 795h8M3303 631h8M3283 631h8M3383 772h8M3107 402h8M3355 624h8M3065 445h8M3368 458h8M3288 621h8M3228 398h8M3361 418h8M3418 565h8M3367 631h8M3315 638h8M3349 719h8M3312 753h8M3257 926h8M3324 885h8M3349 417h8M3305 727h8M3314 578h8M3322 763h8M3395 601h8M3354 888h8M3338 673h8M3323 755h8M3408 466h8M3333 409h8M3355 635h8M3433 523h8M3342 780h8M3202 893h8M3358 849h8M3219 895h8M3351 490h8M3344 526h8M3220 407h8M3415 540h8M3334 511h8M3388 878h8M3382 900h8M3440 854h8M3338 892h8M3383 537h8M3363 848h8M3325 586h8M3296 664h8M3417 820h8M3322 889h8M3398 584h8M3351 413h8M3137 399h8M3365 565h8M3359 594h8M3336 521h8M3374 651h8M3099 405h8M3279 736h8M3344 526h8M3346 880h8M3361 469h8M3325 633h8M3375 541h8M3309 626h8M3360 476h8M3449 805h8M3347 772h8M3424 859h8M3067 812h8M3307 376h8M3299 604h8M3280 672h8M2972 780h8M3332 658h8M3069 466h8M3314 638h8M3383 572h8M3289 722h8M3268 730h8M3309 689h8M3355 437h8M3401 460h8M3322 566h8M3377 564h8M3310 686h8M3367 562h8M3300 680h8M3326 714h8M3362 365h8M3355 583h8M3323 757h8M3364 754h8M3334 714h8M3264 892h8M3306 641h8M3031 437h8M3205 368h8M3138 408h8M3135 891h8M3338 695h8M3356 605h8M3354 806h8M3168 396h8M3272 661h8M3313 568h8M3027 757h8M3337 513h8M3269 704h8M3314 738h8M3154 888h8M3296 688h8M3305 759h8M3000 602h8M3299 406h8M3368 878h8M3291 650h8M3406 394h8M3322 734h8M3319 668h8M3107 403h8M3179 408h8M3285 642h8M3283 633h8M3379 684h8M3336 576h8M3374 711h8M3101 404h8M3327 608h8M3259 904h8M3270 702h8M3278 895h8M3342 621h8M3252 896h8M3330 366h8M3367 683h8M3398 661h8M3369 841h8M3267 405h8M3337 551h8M3326 649h8M3574 719h8M3354 533h8M3315 660h8M3391 519h8M3322 609h8M3118 402h8M3361 420h8M3362 591h8M3388 589h8M3299 617h8M3335 879h8M3306 756h8M3390 686h8M3363 867h8M3363 813h8M3132 397h8M3356 532h8M3353 566h8M3346 553h8M3065 494h8M3026 809h8M3420 920h8M3376 819h8M3414 844h8M3340 499h8M3332 544h8M3190 409h8M3338 405h8M3310 580h8M3403 667h8M3343 497h8M3351 771h8M3266 734h8M3364 804h8M3275 891h8M3345 516h8M3311 582h8M3272 661h8M3084 416h8M3314 660h8M3348 487h8M3394 868h8M3296 687h8M3449 765h8M3021 663h8M3061 738h8M3274 693h8M3361 615h8M3347 666h8M3365 659h8M3296 646h8M3339 900h8M3303 392h8M3382 533h8M3294 690h8M3284 396h8M3045 401h8M3289 691h8M3356 862h8M3299 626h8M3334 633h8M3279 402h8M3345 506h8M3273 747h8M3357 695h8M3441 913h8M3303 747h8M3354 741h8M3325 738h8M3337 630h8M3178 395h8M3267 941h8M3210 915h8M3375 771h8M3294 622h8M3313 575h8M3346 503h8M3335 903h8M3362 824h8M3364 826h8M3338 406h8M3342 552h8M3288 646h8M3399 853h8M3375 412h8M3352 449h8M3064 402h8M3229 901h8M3375 794h8M3360 709h8M3069 442h8M3371 614h8M3276 716h8M3160 888h8M3324 386h8M3063 601h8M3327 366h8M3377 753h8M3352 424h8M3022 690h8M3341 659h8M3362 732h8M3296 744h8M3348 566h8M3295 401h8M3356 632h8M3336 671h8M3079 335h8M3327 569h8M3332 679h8M3347 617h8M3284 733h8M3257 888h8M3350 575h8M3356 821h8M3371 865h8M3305 657h8M3392 485h8M3282 645h8M3275 654h8M3420 883h8M3403 708h8M3348 536h8M3368 859h8M3403 661h8M3355 455h8M3252 899h8M3359 813h8M3321 579h8M3185 393h8M3322 376h8M3362 781h8M3305 886h8M3299 620h8M3352 678h8M3336 701h8M3312 651h8M3387 501h8M3357 753h8M3252 393h8M3389 596h8M3417 877h8M3284 652h8M3308 609h8M3361 618h8M3399 743h8M3258 890h8M3308 651h8M3325 724h8M3350 402h8M3271 725h8M3274 399h8M3168 406h8M3283 404h8M3343 564h8M3271 743h8M3185 392h8M3017 715h8M3330 586h8M3351 356h8M3364 556h8M3351 573h8M3359 881h8M3367 572h8M3347 694h8M3268 387h8M3329 732h8M3356 423h8M3538 524h8M3368 358h8M3357 685h8M3340 770h8M3291 693h8M3157 397h8M3299 626h8M3365 769h8M3342 643h8M3313 618h8M3063 525h8M3396 872h8M3314 882h8M3322 411h8M3311 884h8M3148 403h8M3327 752h8M3264 733h8M3287 726h8M3349 631h8M3378 665h8M3307 587h8M3307 734h8M3327 747h8M3190 408h8M3316 884h8M3347 872h8M3361 922h8M3333 558h8M3385 756h8M3369 733h8M3396 462h8M3300 595h8M3314 698h8M3183 894h8M3305 726h8M3336 664h8M3282 896h8M3318 365h8M3364 557h8M3172 395h8M3384 817h8M3334 718h8M3368 854h8M3333 595h8M3347 932h8M3296 888h8M3241 404h8M3405 833h8M3340 564h8M3241 891h8M3033 682h8M3046 738h8M3270 686h8M3345 675h8M3280 638h8M3062 797h8M3377 813h8M3277 681h8M3471 763h8M3349 485h8M3271 737h8M3295 730h8M3309 760h8M3382 760h8M3274 684h8M3354 929h8M3303 411h8M3270 406h8M3309 745h8M3333 751h8M3069 427h8M3291 661h8M3370 431h8M3289 736h8M3318 568h8M3298 609h8M3345 606h8M3385 751h8M3497 736h8M3325 625h8M3321 408h8M3351 589h8M3406 920h8M3344 560h8M3423 550h8M3192 890h8M3425 748h8M3090 409h8M3481 785h8M3388 810h8M3045 499h8M3365 502h8M3336 598h8M3352 832h8M3315 689h8M3350 543h8M3285 761h8M3351 751h8M3398 504h8M3298 647h8M3308 886h8M3058 465h8M3376 672h8M3367 872h8M3302 625h8M3353 824h8M3387 860h8M3314 615h8M3313 680h8M3341 531h8M3420 541h8M3285 632h8M3360 437h8M3351 786h8M3372 554h8M3354 868h8M3340 513h8M3128 407h8M3369 629h8M3420 886h8M3339 774h8M3335 554h8M3351 769h8M3362 547h8M3395 909h8M3190 409h8M3340 662h8M3310 704h8M3314 723h8M3322 696h8M3283 692h8M3009 554h8M3324 591h8M3330 662h8M3351 794h8M3425 787h8M3053 566h8M3342 729h8M3375 765h8M3385 494h8M3366 638h8M3344 514h8M3378 813h8M3313 572h8M3278 674h8M3319 576h8M3285 908h8M3355 795h8M3346 670h8M3356 864h8M3323 621h8M3328 541h8M3267 731h8M3367 469h8M3272 674h8M3327 768h8M3330 725h8M3226 400h8M3313 386h8M3298 889h8M3346 524h8M3295 752h8M3052 744h8M3336 571h8M3416 919h8M3198 887h8M3336 599h8M3350 641h8M3040 392h8M3289 631h8M3218 408h8M3270 683h8M3093 342h8M3305 658h8M3408 872h8M3065 495h8M3362 737h8M3401 893h8M3310 728h8M3302 626h8M3228 403h8M3353 505h8M3335 910h8M3281 666h8M3336 409h8M3302 621h8M3269 675h8M3353 621h8M3093 335h8M3325 883h8M3321 882h8M3302 628h8M3368 592h8M3189 888h8M3303 714h8M3246 921h8M3308 371h8M3357 872h8M3344 909h8M3355 426h8M3351 741h8M3259 887h8M3261 400h8M3046 442h8M3265 678h8M3223 400h8M3329 633h8M3295 898h8M3351 876h8M3295 748h8M3280 326h8M3352 438h8M3316 566h8M3224 893h8M3227 398h8M3301 691h8M3336 640h8M3338 892h8M3304 403h8M3328 765h8M3330 746h8M3375 541h8M3342 573h8M3204 396h8M3368 837h8M3377 513h8M3283 650h8M3311 655h8M3320 568h8M3345 940h8M3304 754h8M3320 563h8M3249 404h8M3482 468h8M3342 534h8M3289 758h8M3304 690h8M3312 637h8M3349 502h8M3310 664h8M3215 888h8M3353 832h8M3355 823h8M3290 616h8M3422 443h8M3273 662h8M3392 807h8M3360 446h8M3318 560h8M3259 391h8M3288 618h8M3098 401h8M3382 464h8M3293 657h8M3344 793h8M3363 875h8M3441 907h8M3296 398h8M3302 402h8M3323 644h8M3284 405h8M3303 606h8M3320 933h8M3317 706h8M3368 484h8M3290 710h8M3409 505h8M3342 542h8M3007 507h8M3402 420h8M3279 728h8M3338 533h8M3319 897h8M3322 918h8M3326 899h8M3386 814h8M3282 638h8M3286 761h8M3351 740h8M3384 579h8M3278 711h8M3374 472h8M3075 869h8M3253 934h8M3345 779h8M3276 741h8M2974 695h8M3303 642h8M3358 362h8M3343 513h8M3281 360h8M3332 746h8M3300 624h8M3415 794h8M3295 607h8M3364 789h8M3301 404h8M3052 692h8M3291 692h8M3281 691h8M3287 617h8M3369 822h8M3351 401h8M3304 605h8M3056 867h8M3385 332h8M3082 426h8M3296 369h8M3302 757h8M3407 807h8M3349 548h8M3372 913h8M3183 407h8M3430 716h8M3320 684h8M3070 522h8M3240 403h8M3352 707h8M3192 399h8M3369 841h8M3314 677h8M3006 692h8M3392 712h8M3247 399h8" stroke="#000" stroke-width="8" stroke-opacity="0.9"/>
<path transform="scale(.1)" d="M3115 884l-17-3-20-15-5-8-5-27 3-90-4-137 4-138 5-32 17-25 12-6 83 3 77-5 68 9 10 9 6 12-2 40-22 68-19 30-39 97-6 20-2 30 9 26 7 12 43 5 21 20 14 25 0 57-18 12-40 10-180 1z" fill="none" stroke="#111" stroke-width="11" stroke-linejoin="round"/>
<path transform="scale(.1)" d="M3303 871l-85 2-75-4-33 2-17-7-10-10-1-23 10-22-14-35 5-38-7-67 1-93 5-50-2-62 4-25 19-19 37-6 93 2 30-5 16 5 11 14 14-1 21-10 8 2 6 8 2 17-4 23-15 52-12 28-12 15-41 97-9 53 2 15 15 35 10 4 25-1 13 3 12 11 14 25 4 25-3 23-10 7-27 10zM3234 799l9-8 2-7-7-7-10-1-5 3-4 12 6 8 9 0z" fill="none" stroke="#111" stroke-width="6" stroke-linejoin="round"/>
<path transform="scale(.1)" d="M3293 864l-15-3-26 3-17-5-20 4-12-7-10-13-38 12-30-4-22 1-6-3 12-40-15-30 4-58-13-47 2-33-2-30 14-110-9-32 0-15 3-11 10-8 42-7 30 5 28-9 27 8 30-4 30 13 28-7 11 2 1 13-3 25-19 55-8 14-5 2-29 76-22 40-12 88-16 22-14 28 4 15 0 15 27 17 20-17 10 2 10 7 1-22 11-30 10-7 15 3 9 9 10 25 2 23-11 15-27 10z" fill="none" stroke="#222" stroke-width="6" stroke-linejoin="round"/>
<path transform="scale(.1)" d="M3160 849l-22 0-16-8-5-12 2-18-15-30 4-57-15-58 5-102 16-35 1-18-14-37-1-23 8-9 17-2 20 1 23 6 35-9 20 9 32-8 30 9 30-2 4 8-1 18-7 14-21 23-2 32-5 20-15 23-10 30-21 30-9 57-10 25-4 28-15 32-14 8 15 15 0 17-12 13-28 10zM3308 847l-13-2-7-11 2-35 5-8 5-2 10 7 11 30-3 13-10 8z" fill="none" stroke="#333" stroke-width="6" stroke-linejoin="round"/>
<path transform="scale(.1)" d="M3155 844l-20 0-11-8-3-12 6-18-9-9-5-13 2-10 12-23 1-10-15-32-12-43 8-42 10-15-11-28-2-17 18-28 3-27-2-10-15-25-2-18 5-6 10-2 35 10 35-3 27 6 38-13 22 8 23 3 2 10-22 22-6 13 5 32-4 18-8 10-18 12-9 20-20 25 0 43-6 32-13 28 0 27-6 22-10 10-28 7-13 6 38 7 8 8 1 13-6 8-33 12z" fill="none" stroke="#3a3a3a" stroke-width="6" stroke-linejoin="round"/>
<path transform="scale(.1)" d="M3133 792l-5-1-3-10 17-30 1-25-3-8-15-12-5-15 9-20-7-25 14-35-2-17-13-25 10-28 4-35-2-12-12-20-1-10 8-5 25 8 35-3 30 7 35-12 10 1 14 9 2 5-12 30 6 37-8 12-27 15-26 48-3 15 3 25-9 22-9 46-3 42-8 10-33 6-17 10zM3150 839l-15-1-8-7-2-10 8-11 27-4 15 3 8 4-3 11-30 15z" fill="none" stroke="#444" stroke-width="6" stroke-linejoin="round"/>
<path transform="scale(.1)" d="M3170 766l-10-3-5-7 0-37-11-30 1-23-5-25 6-37-7-38 4-62-3-25 43-7 37 8 28-7 10 1 5 7-6 25 2 28-4 6-22 12-20 32-27 85 4 32-7 28-2 30-3 5-8 2zM3150 832l-14-3 1-10 11-5 16 2 0 8-14 8z" fill="none" stroke="#4a4a4a" stroke-width="6" stroke-linejoin="round"/>
<path transform="scale(.1)" d="M3173 712l-8-2-8-16-6-50 4-45-7-65 3-43 7-7 20-3 40 9 25-1 3 7-7 25-29 40-9 18-25 87 3 33-6 13z" fill="none" stroke="#555" stroke-width="6" stroke-linejoin="round"/>
<path transform="scale(.1)" d="M3168 653l-5-3-3-11 7-53-5-87 11-6 48 8 7 6-2 14-31 42-17 56-3 22-7 12z" fill="none" stroke="#5a5a5a" stroke-width="6" stroke-linejoin="round"/>
<path transform="scale(.1)" d="M3195 536l-8-5 0-15 13-8 15 3 2 8-4 7-18 10z" fill="none" stroke="#606060" stroke-width="6" stroke-linejoin="round"/><ellipse cx="315.8" cy="82.3" rx="6" ry="4.5" transform="rotate(-20 315.8 82.3)" fill="#444" fill-opacity="0.55" stroke="#111" stroke-width="1.1"/><ellipse cx="316.3" cy="81.9" rx="2.6" ry="1.6" transform="rotate(-25 316.3 81.9)" fill="#ddd" fill-opacity="0.8"/>
<path transform="scale(.1)" d="M4116 353h8M4146 835h8M3981 385h8M3813 553h8M4284 616h8M4135 512h8M3848 442h8M4105 692h8M4178 686h8M4122 556h8M4137 398h8M4100 624h8M3903 387h8M3865 391h8M4163 739h8M4133 517h8M4179 826h8M4075 395h8M4166 420h8M4145 838h8M4159 713h8M4163 425h8M4148 427h8M4055 383h8M4166 817h8M4139 477h8M4122 696h8M4125 694h8M4124 686h8M3815 841h8M4165 404h8M4140 871h8M4105 393h8M4133 866h8M4145 895h8M4164 682h8M4028 391h8M4098 658h8M4130 616h8M4239 792h8M4183 525h8M4130 533h8M4125 526h8M4131 897h8M4156 731h8M4066 395h8M4172 558h8M3802 733h8M4161 651h8M4091 628h8M4189 468h8M4160 730h8M4106 692h8M4111 322h8M4161 859h8M4126 560h8M4113 381h8M4125 534h8M4170 765h8M4093 640h8M4122 561h8M4010 897h8M4158 639h8M4113 692h8M4105 366h8M4129 564h8M4179 768h8M4173 873h8M4106 611h8M3991 393h8M4225 729h8M4148 837h8M4158 364h8M4155 628h8M4149 491h8M4149 499h8M4177 680h8M4127 514h8M4058 383h8M3993 398h8M4140 456h8M3833 479h8M4050 888h8M4100 679h8M4163 530h8M3818 682h8M3924 393h8M4149 856h8M4131 686h8M4093 692h8M3819 560h8M3882 405h8M4035 394h8M4157 611h8M4158 736h8M4179 785h8M4163 883h8M4176 810h8M4008 389h8M4109 580h8M4183 684h8M3904 390h8M4157 440h8M3922 360h8M4094 394h8M4144 412h8M4220 724h8M4161 738h8M3857 440h8M4125 575h8M4120 671h8M4175 433h8M4169 800h8M3989 397h8M4187 737h8M4121 693h8M4155 731h8M3814 487h8M4152 412h8M4045 868h8M4129 383h8M4148 428h8M3821 604h8M4191 579h8M3994 361h8M4089 646h8M4163 643h8M4077 663h8M3920 390h8M4169 480h8M4124 617h8M4146 840h8M4173 788h8M3850 869h8M3792 765h8M4165 485h8M4197 787h8M4131 619h8M4119 586h8M4070 388h8M4114 594h8M4029 872h8M4071 885h8M4106 696h8M4099 604h8M4168 364h8M4162 701h8M4153 601h8M4126 568h8M4135 860h8M4171 772h8M4130 640h8M4143 701h8M3795 731h8M4149 400h8M4171 851h8M4066 392h8M4107 600h8M4128 601h8M4080 691h8M4042 358h8M4112 866h8M4174 769h8M3818 549h8M4156 604h8M4144 395h8M4218 676h8M4085 395h8M4172 875h8M3960 872h8M4079 864h8M3974 868h8M4111 571h8M3905 394h8M3992 393h8M3780 939h8M4113 578h8M4147 435h8M3973 391h8M4116 584h8M4102 384h8M4140 457h8M3831 622h8M4095 395h8M3997 874h8M4110 901h8M4071 687h8M4164 729h8M4152 624h8M4097 390h8M4147 404h8M4117 864h8M4037 393h8M4060 369h8M4116 559h8M3798 665h8M3814 682h8M4077 677h8M4133 877h8M4125 599h8M4158 833h8M4146 500h8M4116 561h8M4045 872h8M4159 570h8M4137 369h8M4214 581h8M4136 497h8M3809 365h8M4254 770h8M4009 395h8M4166 613h8M3822 818h8M4147 577h8M4152 435h8M4107 675h8M4117 564h8M4160 718h8M4168 784h8M4168 857h8M4062 395h8M4095 387h8M4152 526h8M4071 341h8M4141 447h8M4147 693h8M4226 890h8M4162 715h8M4150 443h8M4163 541h8M3975 391h8M4163 529h8M4189 799h8M3811 561h8M4043 890h8M4166 692h8M4171 823h8M3830 560h8M4166 885h8M3971 390h8M4115 595h8M4168 780h8M4156 828h8M4063 694h8M4138 343h8M4079 690h8M3996 368h8M3794 671h8M4124 525h8M4184 653h8M4074 878h8M4119 396h8M4154 848h8M4126 579h8M3848 449h8M4172 768h8M4121 560h8M4145 449h8M4043 397h8M4113 391h8M4117 570h8M3983 397h8M4117 696h8M4197 420h8M4186 664h8M4134 650h8M4083 665h8M4131 624h8M4146 531h8M3828 564h8M4089 657h8M4111 594h8M3999 397h8M4115 354h8M3881 411h8M4176 644h8M4171 789h8M3899 389h8M4071 395h8M3932 389h8M4182 792h8M4155 413h8M4183 804h8M4128 610h8M4188 732h8M4133 866h8M4222 863h8M3837 476h8M4161 830h8M4109 579h8M3841 864h8M4168 715h8M4133 536h8M4145 373h8M4074 691h8M4060 391h8M3827 847h8M4167 411h8M4139 903h8M4137 406h8M4132 912h8M3798 808h8M4152 836h8M4210 665h8M4139 480h8M3925 396h8M4164 812h8M4292 555h8M4176 830h8M4165 614h8M4153 665h8M4064 686h8M3949 394h8M4146 414h8M3932 872h8M4147 403h8M3807 614h8M4080 867h8M3929 393h8M4205 550h8M4092 639h8M4135 556h8M4171 393h8M4174 754h8M4132 391h8M3907 899h8M4087 664h8M4007 876h8M4180 796h8M4120 577h8M3811 463h8M3971 895h8M4156 359h8M4086 666h8M4121 595h8M4144 592h8M3823 640h8M4183 739h8M4185 624h8M4112 650h8M4203 698h8M4093 864h8M4182 788h8M4135 597h8M4105 618h8M4147 848h8M4091 396h8M4097 369h8M4103 616h8M4104 695h8M4100 381h8M4079 870h8M4139 463h8M4239 685h8M4147 865h8M4117 605h8M4110 694h8M4164 639h8M3978 383h8M4166 934h8M4150 486h8M4055 329h8M4182 549h8M4159 730h8M4178 584h8M4149 578h8M4177 838h8M4146 454h8M4127 592h8M3793 787h8M4097 868h8M4096 885h8M3816 705h8M3795 918h8M4091 878h8M4251 638h8M3962 874h8M4096 393h8M4157 714h8M4140 917h8M4131 502h8M4177 480h8M4144 483h8M4163 810h8M4164 741h8M4198 807h8M3820 698h8M4127 398h8M4167 809h8M4156 557h8M3902 377h8M4200 806h8M4165 817h8M4123 531h8M4187 453h8M4134 703h8M4131 563h8M4158 718h8M4098 692h8M4069 386h8M4085 658h8M4029 398h8M4164 511h8M4220 806h8M4187 473h8M4140 453h8M4202 861h8M4146 416h8M4134 380h8M4174 743h8M4162 583h8M4087 639h8M3835 523h8M4121 398h8M3972 399h8M4147 846h8M4137 861h8M4080 656h8M4144 454h8M4138 604h8M4161 743h8M3992 881h8M4151 415h8M4168 541h8M3993 892h8M4149 522h8M3969 396h8M4023 393h8M4197 707h8M4202 605h8M3869 419h8M4167 472h8M3805 696h8M4065 869h8M4025 872h8M4087 682h8M4123 569h8M3820 515h8M4118 687h8M3967 372h8M4114 396h8M4152 398h8M4121 864h8M4141 853h8M4040 327h8M4163 808h8M4146 861h8M4230 653h8M4115 691h8M4096 617h8M3827 673h8M3784 482h8M4084 388h8M4084 371h8M4093 668h8M4144 703h8M4132 692h8M3913 358h8M4234 747h8M4165 740h8M4147 845h8M4149 427h8M4119 880h8M4175 780h8M4131 579h8M4109 369h8M4171 411h8M4125 552h8M4145 405h8M4145 654h8M4128 374h8M4021 379h8M4110 693h8M4170 552h8M4161 493h8M4177 808h8M4136 858h8M4131 635h8M4162 719h8M3978 394h8M4085 676h8M4143 839h8M4121 695h8M4119 865h8M4139 557h8M4163 710h8M4136 404h8M3829 583h8M4058 891h8M4175 869h8M4058 869h8M4109 862h8M4118 582h8M4072 347h8M4121 379h8M4131 544h8M3811 518h8M4103 396h8M4123 657h8M4166 756h8M4180 808h8M4205 729h8M4211 770h8M4185 437h8M4143 461h8M3769 859h8M4112 588h8M3727 621h8M4006 386h8M4191 782h8M3808 534h8M4133 880h8M4133 369h8M4122 545h8M4117 569h8M3808 677h8M4072 384h8M3822 708h8M4190 547h8M4182 577h8M4192 534h8M4170 789h8M4163 709h8M4096 873h8M4138 475h8M3783 816h8M4126 515h8M3823 746h8M4105 691h8M4188 705h8M4145 420h8M3871 422h8M4148 838h8M3974 893h8M4106 621h8M4150 466h8M4065 686h8M4100 683h8M4128 861h8M4040 382h8M3789 820h8M4162 699h8M4150 481h8M4145 418h8M4157 576h8M4175 792h8M4048 397h8M3821 727h8M4182 780h8M4146 554h8M4076 666h8M4136 537h8M4090 689h8M4211 833h8M4098 691h8M4137 688h8M4044 881h8M4170 378h8M4184 505h8M4147 440h8M4143 849h8M4177 469h8M3794 705h8M4148 610h8M4154 723h8M4088 645h8M4154 847h8M4162 699h8M4076 391h8M4107 639h8M4130 517h8M4168 511h8M4189 511h8M4174 449h8M4021 396h8M4126 543h8M4127 519h8M4125 860h8M3822 417h8M4144 420h8M4138 851h8M4144 885h8M4142 411h8M4164 886h8M4124 666h8M4170 781h8M4025 381h8M4108 637h8M4084 695h8M4274 420h8M4048 326h8M4137 526h8M4169 747h8M3985 393h8M3976 396h8M3980 381h8M4128 698h8M4171 486h8M3771 520h8M4146 702h8M4143 434h8M4117 648h8M4180 710h8M3984 391h8M4109 874h8M4087 649h8M4165 842h8M4200 614h8M4142 433h8M4164 493h8M4097 613h8M4170 569h8M4137 866h8M4246 541h8M4157 460h8M4098 331h8M4165 732h8M3900 387h8M4181 710h8M4101 605h8M3822 739h8M4124 396h8M3999 394h8M4155 724h8M4186 819h8M4084 663h8M3789 504h8M3990 399h8M4119 657h8M4057 354h8M4167 719h8M4116 553h8M4099 393h8M3929 398h8M4143 457h8M4029 395h8M3896 396h8M4135 475h8M4169 819h8M4215 754h8M4122 587h8M3991 392h8M4089 691h8M4125 611h8M4151 834h8M4139 871h8M4099 390h8M4151 449h8M4174 774h8M4133 507h8M4174 749h8M3986 394h8M4084 333h8M4175 587h8M3970 387h8M4136 479h8M4140 380h8M4079 382h8M4077 866h8M3938 396h8M4123 884h8M4138 480h8M4189 771h8M3829 559h8M4139 463h8M3837 359h8M3791 604h8M4045 398h8M3842 865h8M4068 330h8M4196 864h8M4151 603h8M4157 733h8M4138 450h8M4177 582h8M4047 874h8M4162 572h8M4189 796h8M4101 867h8M4127 680h8M4153 864h8M3981 324h8M4151 451h8M4085 689h8M4053 877h8M4098 392h8M4178 739h8M3980 904h8M4164 731h8M4153 465h8M4238 530h8M3904 390h8M3781 682h8M3801 672h8M4160 547h8M4126 401h8M4153 470h8M4147 386h8M4141 464h8M4168 749h8M4154 833h8M3824 644h8M4176 603h8M4146 489h8M4144 440h8M4133 503h8M4150 409h8M4064 395h8M4063 381h8M4123 528h8M3788 602h8M4112 669h8M3991 397h8M4124 382h8M4091 642h8M3941 397h8M4129 566h8M4147 719h8M4125 550h8M3805 725h8M3916 396h8M3970 388h8M4135 522h8M4118 597h8M4182 447h8M3957 873h8M4159 721h8M4101 882h8M4118 575h8M4145 482h8M4176 830h8M3912 389h8M4158 614h8M4078 867h8M4157 497h8M4178 798h8M4123 934h8M3802 620h8M4170 763h8M4150 865h8M4008 391h8M4138 461h8M4126 537h8M3968 396h8M4048 363h8M4138 875h8M3897 393h8M4149 408h8M4150 846h8M4078 356h8M4092 627h8M4146 836h8M3946 391h8M3954 337h8M4133 700h8M4014 363h8M4121 650h8M4105 695h8M4187 709h8M4150 518h8M4113 575h8M3908 882h8M4215 496h8M3840 854h8M4164 743h8M4099 388h8M4129 668h8M4171 795h8M4114 328h8M4083 653h8M4144 369h8M4104 865h8M4006 398h8M4198 731h8M3935 898h8M4013 893h8M4172 481h8M4166 711h8M4134 854h8M4198 826h8M4140 450h8M4197 741h8M4175 560h8M4136 560h8M4151 725h8M4128 547h8M3990 356h8M4082 652h8M4103 628h8M4110 390h8M4111 606h8M4000 367h8M4102 622h8M4155 723h8M4187 449h8M4174 758h8M4119 580h8M4073 688h8M3763 856h8M4045 914h8M4030 880h8M3923 387h8M4139 407h8M4138 495h8M4087 648h8M4112 392h8M3870 421h8M4150 448h8M3979 387h8M4157 726h8M4231 560h8M4168 789h8M4096 870h8M4144 515h8M4146 523h8M4292 876h8M4156 605h8M4184 709h8M4206 826h8M4107 395h8M4062 392h8M4132 574h8M3926 384h8M3824 718h8M4168 772h8M3931 392h8M4190 510h8M3834 528h8M3921 393h8M4146 437h8M3973 879h8M4131 700h8M4033 397h8M4108 880h8M3832 535h8M4126 567h8M4172 761h8M4198 449h8M3987 873h8M4212 664h8M4181 563h8M4082 668h8M4188 695h8M4126 528h8M4112 683h8M4107 646h8M4150 577h8M4142 442h8M4173 819h8M3990 875h8M3955 384h8M4140 474h8M4193 788h8M4154 478h8M4144 443h8M4119 691h8M4074 678h8M4099 387h8M4020 385h8M4132 399h8M4181 729h8M4150 427h8M4153 491h8M4118 397h8M4141 670h8M4125 370h8M3976 332h8M4166 860h8M4222 837h8M4155 421h8M4192 760h8M4174 730h8M4175 478h8M4135 513h8M4166 463h8M4176 731h8M4132 660h8M3867 428h8M4173 743h8M3901 391h8M4142 414h8M4152 725h8M4141 495h8M4101 633h8M4054 874h8M4160 732h8M4146 543h8M4161 700h8M4195 734h8M4091 875h8M4093 677h8M4226 833h8M4140 491h8M4160 398h8M4108 903h8M4173 727h8M4131 590h8M4075 866h8M3874 370h8M4174 645h8M3989 393h8M4096 689h8M4151 411h8M4144 868h8M4168 811h8M4072 893h8M4026 384h8M4171 720h8M4146 714h8M4183 458h8M4116 583h8M4086 642h8M4128 546h8M4164 739h8M4078 696h8M4155 477h8M4178 846h8M4131 700h8M4155 402h8M4133 856h8M4078 682h8M3920 393h8M4135 505h8M4121 394h8M3791 727h8M3824 810h8M4140 467h8M4120 548h8M4004 394h8M4168 756h8M4063 874h8M3808 736h8M4156 518h8M4127 401h8M4031 373h8M4035 879h8M4260 509h8M4136 389h8M4150 890h8M4148 832h8M4108 371h8M4153 719h8M3793 710h8M4010 392h8M4090 673h8M3826 538h8M3895 329h8M4173 799h8M4108 867h8M4176 658h8M4067 682h8M4187 470h8M4172 527h8M4175 844h8M4013 921h8M3958 373h8M3945 386h8M4125 684h8M4082 673h8M3810 605h8M4107 916h8M4097 390h8M4113 874h8M4146 468h8M4214 883h8M3988 874h8M4163 831h8M4160 741h8M4145 458h8M3928 387h8M4134 509h8M4146 711h8M3781 704h8M4145 473h8M4152 434h8M3822 684h8M3956 391h8M4038 388h8M4170 792h8M4177 640h8M4114 379h8M3789 761h8M4120 538h8M4139 705h8M4226 862h8M4174 702h8M4107 394h8M3830 469h8M4120 576h8M3793 684h8M4162 441h8M4182 468h8M4166 759h8M4134 489h8M4132 531h8M4145 410h8M4132 690h8M4176 789h8M4120 570h8M4145 497h8M4134 535h8M4187 451h8M3811 786h8M3901 390h8M4156 918h8M3827 509h8M4104 394h8M3885 385h8M4155 727h8M4141 660h8M4146 692h8M4164 409h8M3990 876h8M4116 557h8M4128 539h8M4189 761h8M4157 374h8M4135 696h8M3816 503h8M4173 792h8M4162 849h8M4150 409h8M4224 613h8M4160 420h8M4155 423h8M3834 527h8M4015 900h8M4041 349h8M4133 877h8M4045 394h8M4078 386h8M4084 377h8M4128 540h8M4175 405h8M3969 382h8M4058 867h8M4104 609h8M3859 878h8M4073 679h8M4167 753h8M4138 378h8M4168 803h8M4124 616h8M4187 804h8M4141 482h8M4182 617h8M4180 844h8M4165 796h8M4112 687h8M4107 632h8M3811 533h8M4163 882h8M4135 707h8M4154 449h8M4102 606h8M4132 882h8M4197 512h8M3829 518h8M4088 665h8M3770 648h8M4180 688h8M4151 684h8M4160 434h8M4141 484h8M3813 693h8M4186 580h8M3958 885h8M4170 783h8M4086 641h8M3775 860h8M3875 374h8M4110 874h8M4079 696h8M4099 690h8M4147 430h8M4143 877h8M4159 583h8M4137 567h8M4148 383h8M4146 405h8M4151 536h8M4084 375h8M4062 689h8M4143 923h8M4013 871h8M4150 462h8M4163 421h8M4170 747h8M3985 870h8M4173 437h8M4156 541h8M4123 526h8M4138 856h8M4107 613h8M4191 800h8M4136 666h8M4147 494h8M4068 690h8M4003 384h8M4085 656h8M3816 337h8M3970 383h8M4184 782h8M4131 498h8M4179 642h8M3822 599h8M3851 431h8M3940 393h8M4181 741h8M4247 678h8M3779 705h8M3966 396h8M4027 397h8M4147 891h8M3808 734h8M4114 695h8M3986 395h8M4131 528h8M4201 529h8M4146 438h8M4137 479h8M3827 521h8M4078 386h8M4142 404h8M4205 452h8M3988 376h8M4166 441h8M4104 597h8M4156 875h8M3819 777h8M4141 407h8M4131 525h8M4148 875h8M3811 494h8M4161 404h8M4142 870h8M4282 534h8M3747 742h8M4174 788h8M4117 388h8M4101 605h8M4216 458h8M4011 875h8M4185 462h8M3957 398h8M4192 924h8M4185 445h8M4206 849h8M4178 762h8M3930 395h8M4150 716h8M4130 511h8M4155 497h8M4075 383h8M3803 646h8M4126 635h8M4048 323h8M4196 866h8M4145 433h8M4170 558h8M4165 499h8M4160 425h8M4038 379h8M4000 385h8M3835 468h8M4117 869h8M4173 730h8M4173 788h8M4158 574h8M3945 399h8M4117 556h8M4164 510h8M3962 931h8M3779 681h8M4116 578h8M4178 644h8M4136 485h8M4140 618h8M4029 392h8M4118 604h8M4143 464h8M3950 385h8M4169 761h8M4173 596h8M3876 357h8M4115 394h8M4172 513h8M3807 594h8M4180 640h8M4098 685h8M4177 550h8M4093 680h8M3884 380h8M3881 378h8M4235 792h8M4075 683h8M3832 525h8M3934 397h8M4158 417h8M4149 446h8M4187 728h8M4039 912h8M3757 563h8M4156 841h8M4014 358h8M4091 393h8M4128 529h8M4210 756h8M4025 886h8M3917 395h8M4165 687h8M4098 383h8M3977 353h8M4167 795h8M4168 664h8M4175 673h8M4153 561h8M4035 870h8M4195 731h8M4181 511h8M4131 693h8M4084 695h8M4160 736h8M4095 629h8M4132 703h8M4133 384h8M3992 920h8M4073 867h8M3992 392h8M4002 890h8M4102 671h8M3782 718h8M3867 873h8M4108 386h8M4172 844h8M4202 544h8M4104 632h8M4148 833h8M4162 822h8M4155 439h8M4252 689h8M4137 505h8M4168 552h8M4197 880h8M4184 600h8M3880 386h8M4116 693h8M3791 575h8M3989 395h8M3930 396h8M4195 678h8M4160 415h8M4220 723h8M4215 783h8M4112 597h8M4167 726h8M4203 461h8M4173 776h8M4179 844h8M4167 404h8M4118 566h8M3753 437h8M4139 471h8M4091 941h8M3716 764h8M4140 504h8M4026 385h8M4117 373h8M4106 637h8M4141 667h8M3862 880h8M4109 625h8M4174 934h8M4122 660h8M4150 682h8M4222 747h8M4199 587h8M4181 473h8M4092 638h8M4169 747h8M4121 864h8M3931 395h8M4142 882h8M3887 397h8M4137 916h8M4089 870h8M4121 864h8M4136 385h8M4172 415h8M4088 865h8M4157 382h8M4058 366h8M4131 528h8M4123 533h8M3808 541h8M4149 472h8M4039 395h8M4138 506h8M3778 586h8M4152 545h8M4148 575h8M4152 346h8M4095 394h8M4079 692h8M3822 610h8M3879 406h8M3788 648h8M4154 446h8M4274 732h8M4145 566h8M3989 343h8M3955 869h8M3905 330h8M4179 748h8M4163 823h8M4151 380h8M4118 392h8M4171 419h8M4183 827h8M4146 459h8M4139 512h8M4182 865h8M4152 877h8M3822 598h8M4188 761h8M4136 575h8M4193 700h8M3863 427h8M4152 462h8M4148 530h8M4144 539h8M4164 838h8M4115 377h8M4014 885h8M3747 733h8M4145 400h8M4122 586h8M4169 762h8M4158 823h8M4174 668h8M3983 874h8M3902 389h8M4158 853h8M4153 428h8M4104 872h8M4168 759h8M4098 871h8M3907 910h8M4191 674h8M3790 576h8M4174 589h8M4184 457h8M3821 618h8M3902 395h8M4166 833h8M4077 345h8M4168 784h8M4283 638h8M4144 564h8M3837 493h8M4167 734h8M4141 444h8M4164 828h8M4153 441h8M4150 667h8M3912 365h8M4135 476h8M4124 873h8M4100 619h8M4158 626h8M4127 662h8M4098 640h8M4097 626h8M4071 687h8M4153 409h8M3925 384h8M4098 691h8M3866 415h8M4122 673h8M4145 454h8M4142 466h8M4037 391h8M3973 391h8M4126 694h8M4157 667h8M3907 389h8M4142 582h8M4171 566h8M4166 699h8M3910 396h8M4143 399h8M4138 403h8M4242 848h8M4208 784h8M4054 383h8M4125 680h8M3788 598h8M4145 445h8M3818 794h8M4110 390h8M3799 557h8M4084 395h8M4193 515h8M4114 352h8M4148 651h8M4118 547h8M4079 675h8M4140 500h8M4036 371h8M4047 867h8M3789 713h8M4135 689h8M4116 654h8M4166 727h8M3924 392h8M4004 872h8M4053 397h8M4134 564h8M4166 425h8M4118 552h8M4169 495h8M4148 376h8M4164 806h8M3819 759h8M3794 483h8M4166 739h8M4130 623h8M4183 742h8M4166 760h8M4136 475h8M4140 452h8M4176 780h8M4180 772h8M4113 695h8M4028 872h8M4094 622h8M4109 396h8M4173 767h8M4131 559h8M4168 606h8M4194 666h8M4163 497h8M4075 384h8M4006 374h8M4287 899h8M4152 470h8M3885 392h8M4149 408h8M4108 674h8M4172 780h8M3867 418h8M4122 553h8M4145 681h8M4149 439h8M4115 626h8M4137 499h8M4209 665h8M4154 373h8M4187 703h8M3967 399h8M4145 494h8M4133 525h8M4183 850h8M4060 869h8M4151 381h8M4177 792h8M3772 656h8M4146 479h8M4222 572h8M3834 475h8M4171 783h8M3889 894h8M4129 568h8M4137 868h8M4121 880h8M4159 471h8M4161 524h8M4166 447h8M4195 615h8M4064 385h8M4095 871h8M4169 855h8M4143 426h8M4171 729h8M3828 483h8M4026 389h8M4035 375h8M3871 379h8M4198 847h8M4156 564h8M4064 876h8M4147 558h8M4133 485h8M4165 702h8M4092 661h8M4113 689h8M4142 533h8M4166 844h8M3912 394h8M4089 660h8M4137 497h8M4147 446h8M4025 380h8M4082 695h8M4148 522h8M4026 883h8M4140 467h8M4171 794h8M4146 406h8M4182 814h8M4084 876h8M4082 389h8M3841 420h8M4134 515h8M4089 641h8M3824 378h8M3925 380h8M4014 872h8M4159 732h8M3996 382h8M4171 763h8M4199 890h8M4195 810h8M4150 377h8M4162 722h8M4058 867h8M4192 746h8M4150 609h8M4072 871h8M3978 398h8M4142 710h8M4073 668h8M4079 393h8M4159 422h8M4075 378h8M4168 424h8M4150 435h8M4152 648h8M3806 776h8M4157 834h8M4127 398h8M4118 696h8M4166 531h8M4003 886h8M4158 524h8M3774 607h8M4119 554h8M4129 885h8M4156 426h8M3823 705h8M4147 515h8M4146 512h8M4235 575h8M4072 685h8M3832 569h8M3819 526h8M4104 681h8M4135 849h8M4145 616h8M4054 370h8M4161 486h8M4148 410h8M4131 683h8M4026 393h8M3823 579h8M4055 395h8M4268 551h8M4150 562h8M4177 856h8M4139 487h8M3823 507h8M4097 887h8M4173 579h8M3896 383h8M3826 491h8M4196 543h8M4184 755h8M3796 498h8M3886 395h8M4179 766h8M3928 385h8M3951 398h8M4170 797h8M4157 725h8M4164 635h8M4157 428h8M4254 521h8M4133 527h8M4142 404h8M4085 640h8M4128 345h8M3957 397h8M4171 729h8M4128 401h8M3919 387h8M4169 494h8M4149 855h8M4150 831h8M4127 567h8M4178 607h8M4132 501h8M4156 825h8M3831 532h8M4063 688h8M3770 713h8M3933 398h8M4192 577h8M4140 527h8M4133 501h8M4147 441h8M4144 499h8M4153 427h8M4095 862h8M4027 364h8M4163 705h8M4075 693h8M3828 473h8M4130 552h8M4206 565h8M4195 778h8M4134 638h8M4157 846h8M4124 365h8M4165 720h8M4165 625h8M4108 391h8M4163 418h8M3880 407h8M3870 422h8M4168 804h8M4107 648h8M4015 339h8M4163 868h8M4135 405h8M4118 550h8M4134 582h8M3837 480h8M4156 525h8M3817 602h8M4196 569h8M4076 683h8M4114 881h8M4140 708h8M4133 485h8M4177 438h8M4100 679h8M4148 891h8M4148 628h8M3817 870h8M4143 496h8M3777 452h8M4166 801h8M4105 365h8M4145 688h8M4092 357h8M3907 387h8M4161 484h8M4154 404h8M3948 882h8M4226 847h8" stroke="#000" stroke-width="8" stroke-opacity="0.9"/>
<path transform="scale(.1)" d="M3909 869l-35 1-13-3-29-26-5-15-4-30 3-117 7-55-2-55 4-70 6-38 23-33 25-30 7-4 73 1 120-4 40 7 8 6 5 12-8 63-14 57-29 88-16 37-17 28 63 6 13 7 12 12 14 22 6 20 0 33-6 22-28 40-8 5-105 10-45-3-65 6z" fill="none" stroke="#333" stroke-width="8" stroke-linejoin="round"/>
<path transform="scale(.1)" d="M3879 861l-13 0-11-7-15-18-4-15 1-17 13-25-1-10-12-20-3-18 1-47 20-65-11-48 4-10 13-14 4-16-14-30 1-30 20-15 27-42 10-6 75 1 35-4 32 4 35-4 28 4 8 12 3 35-11 35-3 40-13 33-17 63-40 69 33 10 42 5 25 19 9 11 3 13 2 37-5 18-31 35-25-2-38 13-77-3-43 9-37-3-20 3z" fill="none" stroke="#111" stroke-width="6" stroke-linejoin="round"/>
<path transform="scale(.1)" d="M3944 852l-20 1-28-11-27 10-10-8-8-15 0-15 10-33-4-20-12-25-1-20 3-22 11-25 10-53-5-35 9-20 3-32-8-30 1-13 33-47 25-16 95-5 30 4 30-2 18 4 10 7 6 20-11 38 0 40-8 16-20 26 5 25-6 25-26 35-11 30-10 10 8 8 60 30 28 2 13 5 8 18-1 37-8 11-22 16-25 6-30 17-50-5-30-7-35 18zM3944 689l5-5-3-7-7-1-8 3-1 5 4 4 10 1z" fill="none" stroke="#222" stroke-width="6" stroke-linejoin="round"/>
<path transform="scale(.1)" d="M3934 844l-13-2-15-10-20 2-5-9-10-4-2-11 17 3 5-19-5-8-17-6-14-49 0-15 14-80 5-11 15-16-13-18 0-9 9-16-3-37-6-28 3-15 25-40 20-11 50-8 100 2 20 4 9 8 4 13-10 35 3 32-9 19-30 31-1 13 10 17-1 11-13 19-21 18-11 19-19 3-5 18 4 7 20 10 28 20 44 19 35 6 6 13-2 25-26 24-30 7-25 17-25-11-40-2-13-11-22-9-3-13-5 6 8 7 5 20-10 15-15 5zM3966 741l8-10 5-17-18-43-15-8-27-3-10 3-9 16 3 15 18 14 24 6 10 25 6 4 5-2zM4058 786l1-12-8-12-10-5-7 3-5 11 5 10 12 7 12-2z" fill="none" stroke="#333" stroke-width="6" stroke-linejoin="round"/>
<path transform="scale(.1)" d="M3986 662l-5 1-20-9-25-3-13-10-2-15 10-12-6-13-24-25-17-72 1-10 12-15 12-28 12-7 50-11 35 10 28-6 40-1 17 5 6 5 3 10-11 35 5 25-3 11-35 39-9 43-30 47-8 5-18-2-5 3zM3876 690l-2 1-3-5 5-42 5-8 8-2 8 5 1 7-22 44zM3931 831l-37-10 14-37-31-23-8-9-4-21 4-19 10 3 25 0 17 6 16 15 4 25 20 0-1 8-28 40 8 15-9 7zM4011 807l-7 1-5-4-2-18-14-12-5-13 9-30 19-17 14 5 9 15-22 45 8 17-4 11zM4099 804l-13-5-8-10-5-20 1-16 20 0 29 16 1 10-5 12-10 10-10 3z" fill="none" stroke="#3a3a3a" stroke-width="6" stroke-linejoin="round"/>
<path transform="scale(.1)" d="M4006 650l-10-2-20-11-34-38-31-23-13-35-5-30 1-12 12-18 6-22 9-8 53-10 11 5 16 18 13 3 9-3 13-16 33-4 15 2 6 5 2 8-15 32 8 23-1 10-34 40-22 57-14 23-8 6zM3919 769l-13-3-17-15-4-12 6-10 18-2 16 12 3 17-9 13zM4101 792l-10-1-6-7-2-13 3-8 10 1 10 10 2 10-7 8zM3909 816l-5-2 0-5 12-23 10-10 14-2 1 5-15 28-7 7-10 2z" fill="none" stroke="#444" stroke-width="6" stroke-linejoin="round"/>
<path transform="scale(.1)" d="M4006 635l-10-1-15-8-30-38-27-13-10-11-9-23-3-27 4-11 18-3 2-4-7-20 1-12 6-6 45-8 9 6 14 20 25 4 15-4 17-19 25-3 6 5-1 7-20 28 12 20 0 10-29 37-26 60-12 14z" fill="none" stroke="#4a4a4a" stroke-width="6" stroke-linejoin="round"/>
<path transform="scale(.1)" d="M4004 624l-10-2-13-8-27-41-28-8-12-21 0-20 21-8 6-7-5-38 23-10 12 2 13 18 10 7 47 2 20 29-1 10-22 30-26 57-8 8z" fill="none" stroke="#555" stroke-width="6" stroke-linejoin="round"/>
<path transform="scale(.1)" d="M4001 612l-10-2-12-13-18-40-7-4-18 3-8-10 0-10 18-15 4-32 9-11 10 1 25 17 35 2 13 23-1 10-40 81z" fill="none" stroke="#5a5a5a" stroke-width="6" stroke-linejoin="round"/>
<path transform="scale(.1)" d="M3994 592l-13-10-8-26-16-25-1-29 8-10 27 11 23 2 6 4-1 10-13 20-1 30-11 23z" fill="none" stroke="#606060" stroke-width="6" stroke-linejoin="round"/>
<path transform="scale(.1)" d="M3989 556l-13-10-11-20-2-15 6-7 28 10 4 5-12 37z" fill="none" stroke="#666" stroke-width="6" stroke-linejoin="round"/>
<path transform="scale(.1)" d="M3981 534l-6-8 4-7 6 2 2 5-6 8z" fill="none" stroke="#666" stroke-width="6" stroke-linejoin="round"/><ellipse cx="392.4" cy="79.2" rx="7.6" ry="3.2" transform="rotate(-43.0 392.4 79.2)" fill="#444" fill-opacity="0.6" stroke="#111" stroke-width="1.0"/><ellipse cx="392.5" cy="79.0" rx="4.6" ry="1.6" transform="rotate(-40.6 392.5 79.0)" fill="none" stroke="#222" stroke-width="0.7"/>
<path transform="scale(.1)" d="M4928 469h8M4760 692h8M4945 475h8M4759 630h8M4795 716h8M4777 715h8M4799 664h8M4822 675h8M4633 878h8M4604 387h8M4608 362h8M4832 645h8M4852 682h8M4795 869h8M4894 817h8M4813 696h8M4801 700h8M4792 661h8M4561 741h8M4798 680h8M4878 858h8M4879 498h8M4870 373h8M4781 696h8M4550 635h8M4799 623h8M4771 630h8M4893 376h8M4855 621h8M4850 670h8M4546 579h8M4951 789h8M4743 693h8M4876 744h8M4839 681h8M4904 428h8M4804 598h8M4806 655h8M4767 697h8M4772 639h8M4768 636h8M4618 894h8M4491 394h8M4829 704h8M4775 710h8M4769 668h8M4584 393h8M4764 669h8M4909 810h8M4884 524h8M4887 554h8M4863 583h8M4565 459h8M4787 634h8M4752 693h8M4833 363h8M4966 509h8M4912 548h8M4872 740h8M4833 695h8M4783 674h8M4760 653h8M4891 865h8M4919 825h8M4757 673h8M4805 691h8M4751 657h8M4795 622h8M4742 358h8M4799 697h8M4769 703h8M4902 420h8M4565 479h8M4853 548h8M4902 797h8M4585 421h8M4798 874h8M4738 707h8M4795 373h8M4898 417h8M4893 420h8M4838 876h8M4751 366h8M4868 646h8M4835 662h8M4540 717h8M4809 666h8M4873 372h8M4893 911h8M4760 657h8M4833 590h8M4869 871h8M4751 876h8M4946 834h8M4909 456h8M4897 464h8M4785 688h8M4837 373h8M4740 691h8M4880 699h8M4887 548h8M4838 707h8M4906 810h8M4770 692h8M4765 372h8M4778 669h8M4914 416h8M4908 483h8M4628 874h8M4935 637h8M4849 587h8M4876 502h8M4754 644h8M4679 365h8M4747 708h8M4927 867h8M4779 653h8M4525 833h8M4778 377h8M4908 408h8M4892 450h8M4784 636h8M4808 666h8M4789 612h8M4846 362h8M4733 379h8M4792 694h8M4807 602h8M4807 703h8M4812 699h8M4523 789h8M4934 543h8M4712 379h8M4831 579h8M4854 731h8M4740 706h8M4830 581h8M4846 360h8M4814 632h8M4801 629h8M4888 881h8M4795 607h8M4816 864h8M4742 704h8M4852 376h8M4841 701h8M4827 623h8M4558 692h8M4877 647h8M4899 824h8M4752 662h8M4893 453h8M4782 624h8M4896 770h8M4894 766h8M4779 625h8M4813 335h8M4875 676h8M4816 709h8M4809 656h8M4889 385h8M4910 447h8M4797 636h8M4876 357h8M4899 425h8M4913 670h8M4838 599h8M4765 373h8M4799 667h8M4879 848h8M4901 740h8M4544 685h8M4898 817h8M4848 553h8M4782 624h8M4908 751h8M4812 660h8M4824 576h8M4779 709h8M4868 516h8M4813 595h8M4886 352h8M4830 721h8M4889 833h8M4800 671h8M4892 518h8M4805 877h8M4744 872h8M4924 447h8M4583 409h8M4931 596h8M4881 676h8M4743 696h8M4908 330h8M4915 501h8M4822 708h8M4630 380h8M4780 363h8M4803 633h8M4858 866h8M4840 712h8M4809 373h8M4798 648h8M4807 631h8M4526 569h8M4903 782h8M4918 537h8M4532 728h8M4790 654h8M4715 876h8M4751 681h8M4902 389h8M4917 450h8M4936 474h8M4558 694h8M4891 458h8M4843 691h8M4818 344h8M4953 514h8M4792 714h8M4933 693h8M4866 598h8M4771 637h8M4866 376h8M4866 642h8M5016 469h8M4867 370h8M4498 732h8M4864 677h8M4800 708h8M4816 367h8M4924 684h8M4873 856h8M4765 652h8M4950 515h8M4865 858h8M4878 681h8M4950 499h8M4831 594h8M4579 386h8M4871 736h8M4852 329h8M4896 456h8M4928 723h8M4883 381h8M4840 722h8M4785 624h8M4816 368h8M4908 360h8M5048 445h8M4678 873h8M4736 873h8M4880 359h8M4906 782h8M4697 377h8M4851 553h8M4851 639h8M4585 418h8M4909 392h8M4554 645h8M4736 359h8M4859 373h8M4845 364h8M5035 865h8M4897 820h8M4910 416h8M4933 855h8M4758 659h8M4820 628h8M4894 395h8M4777 622h8M4797 658h8M4851 556h8M4924 825h8M4832 663h8M4811 715h8M4824 372h8M4849 648h8M4882 484h8M4891 641h8M4898 907h8M4857 568h8M4848 355h8M4740 678h8M4821 649h8M4747 667h8M4787 610h8M4893 399h8M4752 704h8M4849 630h8M4900 590h8M4850 698h8M4945 628h8M4879 508h8M4844 676h8M4573 427h8M4798 677h8M4847 350h8M4892 437h8M4830 374h8M4896 330h8M4912 387h8M4852 376h8M4753 715h8M4780 712h8M4762 878h8M4668 378h8M4857 704h8M4902 543h8M4852 571h8M4820 613h8M4783 707h8M4820 603h8M4907 406h8M4635 381h8M4848 677h8M4793 671h8M4773 678h8M4680 340h8M4888 618h8M4866 737h8M4663 380h8M4888 518h8M4831 635h8M4541 795h8M4777 646h8M4762 654h8M4680 381h8M4750 350h8M4839 343h8M4819 712h8M4608 881h8M4557 807h8M4801 660h8M4877 643h8M4758 335h8M4559 610h8M4854 722h8M4780 712h8M4779 691h8M4787 685h8M4896 441h8M4569 425h8M4913 864h8M4841 567h8M4911 873h8M4905 492h8M4784 869h8M4851 690h8M4885 678h8M4885 742h8M4877 338h8M4630 374h8M4965 738h8M4796 655h8M4770 631h8M4765 651h8M4852 859h8M4892 592h8M4827 717h8M4812 681h8M4890 474h8M4894 757h8M4933 691h8M4556 332h8M4623 374h8M4778 625h8M4804 369h8M4851 666h8M4898 773h8M4789 715h8M4826 649h8M4762 634h8M4557 494h8M4895 428h8M4893 461h8M4856 710h8M4635 875h8M4559 582h8M4835 601h8M4873 881h8M4762 631h8M4896 863h8M4931 485h8M4835 622h8M4916 783h8M4772 869h8M4753 716h8M4797 376h8M4754 667h8M4876 648h8M4846 671h8M4795 656h8M4805 352h8M4744 374h8M4901 378h8M4864 731h8M4561 476h8M4868 862h8M4567 514h8M4666 358h8M4921 563h8M4954 755h8M4490 712h8M4819 717h8M4892 420h8M4792 696h8M4880 485h8M4787 641h8M4818 584h8M4813 680h8M4895 492h8M4790 604h8M4768 638h8M4850 679h8M4791 649h8M4726 370h8M4735 698h8M4900 328h8M4740 684h8M4886 476h8M4824 870h8M4787 670h8M4771 631h8M4926 815h8M4864 633h8M4857 641h8M4762 348h8M4806 651h8M4770 650h8M4918 778h8M4908 353h8M4818 582h8M4794 323h8M4899 398h8M4804 375h8M4876 868h8M4572 889h8M4981 801h8M4874 739h8M4581 421h8M4772 660h8M4670 379h8M4567 545h8M4874 901h8M4861 856h8M4836 585h8M4621 354h8M4841 572h8M4888 462h8M4938 498h8M4746 874h8M4927 480h8M4807 637h8M4875 512h8M4778 689h8M5026 691h8M4833 621h8M4786 633h8M4834 879h8M4852 578h8M4818 705h8M4811 867h8M4833 720h8M4774 616h8M4943 868h8M4829 624h8M4546 712h8M4918 656h8M4831 624h8M4764 652h8M4831 636h8M4916 413h8M4891 614h8M4545 696h8M4831 667h8M4872 359h8M4872 352h8M4807 636h8M4751 684h8M4853 549h8M4906 716h8M4902 676h8M4927 905h8M4839 861h8M4904 517h8M4872 863h8M4881 870h8M4808 596h8M4863 681h8M4552 540h8M4824 679h8M4832 598h8M4537 598h8M4780 676h8M4894 430h8M4759 689h8M4835 688h8M4638 359h8M4901 738h8M4766 682h8M4788 692h8M4793 604h8M4665 374h8M4551 635h8M4880 853h8M4877 497h8M4554 798h8M4644 889h8M4837 694h8M4997 691h8M4914 492h8M4759 645h8M4749 664h8M4891 830h8M4548 502h8M4768 691h8M4768 626h8M4901 382h8M4572 516h8M4651 373h8M4875 540h8M4930 679h8M4892 413h8M4562 543h8M4848 866h8M4761 924h8M4833 366h8M4808 602h8M4899 486h8M4811 605h8M4746 645h8M4810 586h8M4873 552h8M4546 619h8M4820 597h8M4811 688h8M4756 650h8M4571 478h8M4901 650h8M4698 365h8M4614 374h8M4912 844h8M4738 683h8M4891 467h8M4838 567h8M4774 625h8M4798 626h8M4904 850h8M4749 701h8M4885 487h8M4858 720h8M4945 480h8M4775 376h8M4826 684h8M4877 373h8M4841 376h8M4768 333h8M4900 385h8M4769 694h8M4816 698h8M4901 791h8M4761 871h8M4919 482h8M4882 658h8M4563 584h8M4800 341h8M4909 457h8M4716 374h8M4760 662h8M4775 370h8M4879 842h8M4716 335h8M4823 373h8M4557 743h8M4713 380h8M4887 472h8M4830 712h8M4949 668h8M4937 690h8M4556 639h8M4786 630h8M4568 550h8M4901 362h8M4691 383h8M4860 687h8M4885 473h8M4758 686h8M4587 395h8M4794 643h8M4873 369h8M4893 752h8M4675 374h8M4780 651h8M4934 600h8M4592 393h8M4846 698h8M4963 497h8M4969 856h8M4864 375h8M4865 375h8M4564 603h8M4891 367h8M4740 371h8M4771 693h8M4806 658h8M4534 560h8M4821 712h8M4815 641h8M4859 649h8M4666 347h8M4762 706h8M4900 604h8M4913 393h8M4541 794h8M4805 670h8M4861 686h8M4798 694h8M4896 453h8M4918 737h8M4752 679h8M4788 881h8M4755 371h8M4802 638h8M4826 717h8M4705 874h8M4564 496h8M4744 672h8M4898 453h8M4818 344h8M4877 493h8M4790 614h8M4789 869h8M4795 711h8M4655 880h8M4893 405h8M4807 697h8M4626 380h8M4821 704h8M4804 675h8M4921 553h8M4823 868h8M4776 690h8M4787 673h8M4751 655h8M4674 337h8M4901 818h8M4864 520h8M4862 655h8M4863 539h8M4865 538h8M4796 693h8M4903 493h8M4771 626h8M4557 615h8M4828 609h8M4811 669h8M4679 873h8M4592 401h8M4943 864h8M4772 630h8M4807 633h8M4904 390h8M4638 366h8M4515 664h8M4890 445h8M4884 742h8M4874 624h8M4890 447h8M4731 376h8M4761 659h8M4806 713h8M4869 700h8M4747 681h8M4815 661h8M4922 464h8M4858 375h8M4996 619h8M4858 699h8M4818 588h8M4776 375h8M4886 834h8M4890 857h8M4741 692h8M4613 381h8M4846 706h8M4757 699h8M4825 657h8M4493 717h8M4819 595h8M4716 380h8M4754 717h8M4803 600h8M4905 421h8M4918 701h8M4841 879h8M4624 373h8M4803 882h8M4742 715h8M4543 454h8M4800 632h8M4869 728h8M4777 716h8M4809 664h8M4831 876h8M4551 513h8M4878 527h8M4550 866h8M4653 380h8M4804 680h8M4936 616h8M4792 652h8M4563 583h8M4900 625h8M4586 904h8M4946 657h8M4897 394h8M4780 684h8M4661 362h8M4658 879h8M4777 712h8M4722 930h8M4882 695h8M4884 529h8M4906 563h8M4925 680h8M4864 638h8M4897 501h8M4916 887h8M4715 378h8M4839 372h8M4879 743h8M4886 369h8M4901 688h8M4563 615h8M4862 530h8M4778 664h8M4782 630h8M4541 527h8M4654 361h8M4797 664h8M4874 650h8M4886 565h8M4789 634h8M4783 692h8M4969 544h8M4823 668h8M4488 361h8M4540 759h8M4767 899h8M4862 724h8M4729 379h8M4550 657h8M4742 653h8M4790 698h8M4756 632h8M4906 612h8M4581 428h8M4704 378h8M4804 698h8M4741 688h8M4803 684h8M4934 874h8M4761 675h8M4931 552h8M4944 454h8M4877 490h8M4567 559h8M4916 450h8M4901 500h8M4831 718h8M4847 716h8M4902 870h8M4892 395h8M4776 687h8M4869 364h8M4542 500h8M4600 878h8M4760 672h8M4860 724h8M4801 665h8M4829 695h8M4816 598h8M4744 368h8M4809 375h8M4856 699h8M4896 569h8M4795 370h8M4901 800h8M4914 593h8M4745 366h8M4861 733h8M4762 642h8M4844 712h8M4565 522h8M4805 593h8M4807 671h8M4870 632h8M4933 605h8M4852 862h8M4817 582h8M4889 451h8M4838 346h8M4809 677h8M4913 476h8M4837 701h8M4563 485h8M4881 332h8M4540 780h8M4886 616h8M4750 703h8M4888 567h8M4845 369h8M4889 528h8M4807 702h8M4823 708h8M4794 628h8M4957 476h8M4901 687h8M4720 869h8M4557 651h8M4889 862h8M4549 561h8M4776 663h8M4861 736h8M4548 828h8M4808 678h8M4914 793h8M4917 437h8M4825 681h8M4837 679h8M4707 378h8M4899 702h8M4744 668h8M4805 589h8M4831 639h8M4637 881h8M4538 588h8M4933 466h8M4799 651h8M4776 659h8M4982 539h8M5013 856h8M4874 510h8M4562 588h8M4904 408h8M4885 688h8M4772 702h8M4894 460h8M4889 518h8M4569 553h8M4908 654h8M4830 573h8M4526 513h8M4916 611h8M4783 674h8M4855 615h8M4905 829h8M4898 671h8M4790 664h8M4776 667h8M4876 615h8M4780 653h8M4901 792h8M4739 666h8M4870 867h8M4829 626h8M4850 631h8M4774 658h8M4740 691h8M4868 860h8M4545 629h8M4887 463h8M4895 487h8M4825 680h8M4788 627h8M4749 678h8M4868 740h8M4810 338h8M4921 682h8M4897 443h8M4867 576h8M4586 412h8M4756 653h8M4776 667h8M4624 895h8M4752 676h8M4824 354h8M4889 919h8M4859 553h8M4781 379h8M4830 643h8M4867 516h8M4796 649h8M4553 688h8M4771 709h8M4823 657h8M4542 460h8M4605 351h8M4762 672h8M4570 468h8M4904 499h8M4909 917h8M4733 377h8M4837 860h8M4844 724h8M4971 839h8M4787 641h8M4556 820h8M4514 493h8M4916 579h8M4835 372h8M4744 369h8M4857 734h8M4771 891h8M4745 719h8M4898 883h8M4960 814h8M4749 719h8M4796 910h8M4884 357h8M4898 718h8M4805 634h8M4920 762h8M4891 749h8M4888 756h8M4694 888h8M4864 729h8M4912 406h8M4794 696h8M4898 817h8M4918 723h8M4895 560h8M4904 402h8M4905 794h8M4855 689h8M4757 672h8M4787 373h8M4827 335h8M4726 379h8M4864 606h8M4791 694h8M4522 454h8M4921 570h8M4812 661h8M4793 666h8M4737 878h8M4826 637h8M4805 698h8M4858 713h8M4784 666h8M4817 715h8M4823 684h8M4744 889h8M4886 843h8M4741 699h8M4888 691h8M4801 595h8M4913 798h8M4779 635h8M4863 648h8M4800 679h8M4819 640h8M4814 364h8M4594 408h8M4877 499h8M4791 608h8M4878 872h8M4822 376h8M4827 581h8M4834 627h8M4679 374h8M4820 712h8M4915 559h8M4750 682h8M4766 701h8M4818 684h8M4818 586h8M4893 432h8M4770 718h8M4718 886h8M4893 467h8M4872 529h8M4846 560h8M4892 447h8M4743 697h8M4816 686h8M4847 869h8M4750 376h8M4912 591h8M4556 575h8M4567 488h8M4874 349h8M4550 723h8M4782 671h8M4568 475h8M4800 709h8M4852 371h8M4869 662h8M4706 377h8M4777 711h8M4844 574h8M4630 363h8M4710 380h8M4844 703h8M4753 636h8M4808 888h8M4813 655h8M4613 372h8M4795 606h8M4808 689h8M4792 867h8M4752 653h8M4560 718h8M4860 718h8M4816 647h8M4552 799h8M4834 886h8M4718 372h8M4778 670h8M4766 658h8M4883 480h8M4798 687h8M4529 636h8M4832 607h8M4905 346h8M4762 662h8M4786 669h8M4891 550h8M4931 809h8M4898 854h8M4777 641h8M4636 368h8M4918 703h8M4844 684h8M4760 711h8M4564 478h8M4896 665h8M4747 654h8M4785 682h8M4883 694h8M4847 891h8M4567 923h8M4784 712h8M4850 651h8M4749 670h8M4789 602h8M4876 513h8M4793 708h8M4885 587h8M4605 387h8M4755 664h8M4626 375h8M4875 335h8M4829 370h8M4794 658h8M4928 675h8M4828 347h8M4772 648h8M4905 790h8M4820 870h8M4821 588h8M4795 622h8M4981 582h8M4829 885h8M4561 676h8M4676 889h8M4842 720h8M4622 367h8M4917 795h8M4560 708h8M4730 371h8M4753 691h8M4518 467h8M4912 868h8M4773 708h8M4836 661h8M4818 606h8M4841 562h8M4893 440h8M4822 674h8M4896 539h8M4570 492h8M4877 516h8M4814 708h8M4785 885h8M4881 722h8M4872 507h8M4781 652h8M4573 505h8M4553 531h8M4642 875h8M4552 615h8M4824 700h8M4936 447h8M4966 725h8M4607 373h8M4855 560h8M4902 412h8M4676 375h8M4792 615h8M4600 881h8M4883 896h8M4914 842h8M4906 656h8M4500 679h8M4891 763h8M4804 703h8M4889 519h8M4862 679h8M4829 609h8M4843 706h8M4777 696h8M4763 666h8M4854 725h8M4916 582h8M4845 621h8M4886 333h8M4549 863h8M4823 625h8M4919 471h8M4858 859h8M4753 637h8M4945 604h8M4804 711h8M4807 701h8M4748 717h8M4903 800h8M5034 486h8M4733 371h8M4881 882h8M4763 649h8M4560 536h8M4814 701h8M4771 663h8M4737 877h8M4835 684h8M4780 715h8M4854 721h8M4903 358h8M4841 657h8M4904 480h8M4830 699h8M4818 706h8M4749 666h8M4867 873h8M4829 704h8M4554 524h8M4907 723h8M4471 539h8M4765 669h8M4643 369h8M4556 657h8M4800 649h8M4600 397h8M4874 862h8M4916 361h8M4866 634h8M4824 591h8M4747 362h8M4717 875h8M4942 836h8M4966 467h8M4545 830h8M4771 706h8M4783 681h8M4561 460h8M4964 708h8M4790 618h8M4897 479h8M4892 409h8M4887 734h8M4905 791h8M4919 780h8M4770 693h8M4773 704h8M4800 869h8M4566 564h8M4807 661h8M4888 522h8M4931 795h8M4875 601h8M4789 632h8M4862 727h8M4892 764h8M4802 707h8M4811 690h8M4823 677h8M4571 517h8M4872 673h8M4908 553h8M4855 547h8M4874 528h8M4881 367h8M4872 569h8M4775 690h8M4905 410h8M4765 367h8M4836 700h8M4917 717h8M4800 357h8M4890 500h8M4888 698h8M4755 650h8M4881 618h8M4825 375h8M4841 718h8M4755 676h8M4803 671h8M4862 592h8M4873 522h8M4702 877h8M4754 634h8M4878 742h8M4889 882h8M4767 634h8M4907 456h8M4930 892h8M4822 580h8M4817 365h8M4785 705h8M4604 394h8M4793 654h8M4575 435h8M4818 643h8M4847 721h8M4569 510h8M4923 639h8M4937 623h8M4814 368h8M4818 700h8M4736 689h8M4703 379h8M4891 633h8M4851 704h8M4874 507h8M4774 660h8M4754 655h8M4913 412h8M4823 697h8M4743 369h8M4898 458h8M4562 402h8M4527 658h8M4937 516h8M4559 839h8M4896 424h8M4738 378h8M4592 403h8M4677 383h8M4772 619h8M4558 706h8M4887 538h8M4542 710h8M4762 871h8M4895 412h8M4554 567h8M4896 395h8M4881 516h8M4565 464h8M4631 379h8M4880 734h8M4574 388h8M4748 647h8M4680 373h8M4804 329h8M4884 847h8M4558 679h8M4855 857h8M4739 348h8M4908 879h8M4854 615h8M4948 587h8M4872 579h8M4549 605h8M4767 884h8M4785 694h8M4848 376h8M4636 887h8M4881 563h8M4760 689h8M4882 620h8M4856 647h8M4565 581h8M4828 692h8M4808 610h8M4912 809h8M4971 716h8M4794 712h8M4802 678h8M4819 624h8M4861 855h8M4887 474h8M4831 708h8M4670 370h8M4887 535h8M4883 362h8M4813 622h8M4870 343h8M4904 418h8M4677 875h8M4673 363h8M4912 483h8M4750 373h8M4914 864h8M4889 745h8M4745 915h8M4836 371h8M4955 883h8M4739 688h8M4754 692h8M4813 639h8M4788 643h8M4851 716h8M4792 603h8M4912 716h8M4905 425h8M4929 613h8M4905 620h8M4813 710h8M4787 638h8M4805 691h8M4737 377h8M4896 815h8M4788 626h8M4884 378h8M4859 618h8M4775 614h8M4776 697h8M4755 644h8M4931 593h8M4815 684h8M4828 597h8M4914 413h8M4835 339h8M4933 420h8M4922 607h8M4877 680h8M4874 880h8M4880 502h8M4866 632h8M4936 522h8M4757 644h8M4905 648h8M4770 621h8M4808 591h8M4816 713h8M5067 764h8M4840 684h8M4794 690h8M4806 700h8M4900 472h8M4931 836h8M4870 550h8M4910 536h8M4831 595h8M4596 389h8M4650 379h8M4856 682h8M4919 636h8M4909 789h8M4584 405h8M4906 460h8M4773 716h8M4802 675h8M4763 374h8M4856 623h8M4827 584h8M4843 878h8M4831 685h8M4912 789h8M4760 667h8M4750 641h8M4768 630h8M4565 562h8M4894 399h8M4918 447h8M4858 690h8M4744 648h8M4857 558h8M4847 677h8M4751 670h8M4853 722h8M4827 710h8M4767 361h8M4895 409h8M4908 552h8M4817 615h8M4895 384h8M4896 454h8M4724 875h8M4770 680h8M4882 517h8M4549 465h8M4783 695h8M4539 536h8M4904 786h8M4836 646h8M4857 554h8M4889 704h8M4773 695h8M4922 615h8M4785 659h8M4749 674h8M4555 541h8M4784 367h8M4672 894h8M4912 431h8M4962 477h8M4752 643h8M4918 826h8M4920 813h8M4810 655h8M4805 706h8M4889 476h8M4826 584h8M4796 666h8M4854 582h8M4893 458h8M4852 560h8M4520 442h8M4830 863h8M4794 363h8M4780 371h8M4712 377h8M4819 661h8M4783 645h8M4934 641h8M4585 414h8M4781 368h8M4865 886h8M4886 717h8M4921 508h8M4876 500h8M4877 376h8M4913 498h8M4791 867h8M4756 661h8M4571 507h8M4814 877h8M4764 880h8M4953 530h8M4706 376h8M4901 459h8M4832 721h8M4744 902h8M4930 490h8M4894 824h8M4779 618h8M4883 495h8M4800 600h8M4790 636h8M4801 648h8M4532 631h8M4742 690h8M4573 885h8M4540 473h8M4947 683h8M4794 665h8M4794 641h8M4791 633h8M4821 650h8M4896 651h8M4922 854h8M4521 688h8M4855 547h8M4891 532h8M4878 513h8M4922 476h8M4961 842h8M4900 441h8M4829 593h8M4909 771h8M4840 567h8M4678 878h8M4697 377h8M4913 849h8M4794 611h8M4966 733h8M4754 640h8M4770 639h8M4790 673h8M4923 923h8M4856 692h8M4562 469h8M4815 589h8M4552 810h8M4894 459h8M4790 604h8M4795 614h8M4759 710h8M4532 742h8M4777 379h8M4558 564h8M4858 728h8M4784 372h8M4601 877h8M4806 715h8M4860 728h8M4823 693h8M4751 336h8M4818 691h8M4893 391h8M4773 667h8M4825 667h8M4841 644h8M4562 530h8M4766 635h8M4902 484h8M4800 627h8M4823 704h8M4611 379h8M4811 685h8M4943 450h8M4795 369h8M4789 653h8M4851 725h8M4753 376h8M4860 376h8M4783 708h8M4782 684h8M4828 343h8M4850 644h8M4762 700h8M4633 360h8M4766 366h8M4905 495h8M4801 663h8M4901 433h8M4554 373h8M4804 655h8M4825 669h8M4776 681h8M4900 680h8M4763 643h8M4955 426h8M4561 674h8M4745 647h8M4706 894h8M4837 651h8M4892 762h8M4917 510h8M4968 480h8M4522 487h8M4903 420h8M4919 705h8M4838 374h8M4837 651h8M4898 862h8M4894 416h8M4811 584h8M4710 339h8M4815 707h8M4858 924h8M4813 660h8M4934 514h8M4802 870h8M4829 593h8M4782 358h8M4510 471h8M4618 374h8M4870 521h8M4918 457h8M4842 611h8M4527 552h8M4762 658h8M4553 714h8M4830 619h8M4904 523h8M4805 371h8M4772 373h8M4748 672h8M4587 398h8M4794 709h8M4904 393h8M4901 765h8M4933 483h8M4940 597h8M4902 809h8M4832 590h8M4789 615h8M4573 437h8M4855 550h8M4637 367h8M4801 357h8M4693 367h8M4787 632h8M4811 701h8M4888 511h8M4747 675h8M4863 709h8M4831 701h8M4740 681h8M4823 644h8M4861 373h8M4893 843h8M4921 515h8M4823 677h8M4852 652h8M4782 678h8M4885 495h8M4876 519h8M4843 667h8M4911 670h8M4900 406h8M4785 368h8M4557 684h8M4901 801h8M4491 699h8M4799 627h8M4568 439h8M4803 868h8M4900 566h8M4859 374h8M4744 644h8M4567 532h8M4861 671h8M4964 693h8M4783 645h8M4797 616h8M4616 379h8M4803 653h8M4840 570h8M4951 492h8M4699 377h8M4833 692h8M4907 786h8M4603 380h8M4884 347h8M4886 482h8M4923 442h8M4837 708h8M4896 511h8M4531 477h8M4559 625h8M4741 704h8M4910 709h8M4805 689h8M4746 878h8M4556 552h8M4859 375h8M4898 406h8M4839 670h8M4911 580h8M4853 647h8M4744 689h8M4775 369h8M4870 339h8M4563 575h8M4906 863h8M4810 590h8M4761 663h8M4866 737h8M4801 367h8M4870 626h8M4546 690h8M4771 636h8M4909 460h8M4827 690h8M4941 593h8M4755 638h8M4765 644h8M4552 386h8M4555 603h8M4812 706h8M4740 697h8M4822 654h8M4764 652h8M4857 692h8M4797 714h8M4548 565h8M4895 607h8" stroke="#000" stroke-width="8" stroke-opacity="0.9"/>
<path transform="scale(.1)" d="M4673 869l-90-1-16-14-8-15 2-203 13-130-2-52 2-15 33-53 11-8 75 2 60-8 123 2 12 11 4 21-4 53-19 50-25 45-95 80-16 50 5 21 7 9 73 0 25 7 37 23 19 37-2 20-22 42-10 7-62 13-23-1-24 4-83 3z" fill="none" stroke="#000" stroke-width="13" stroke-linejoin="round"/>
<path transform="scale(.1)" d="M4600 861l-15-2-11-15-6-60 3-38 12-40-10-85 4-52 11-60-8-35 1-23 4-12 27-45 11-7 67 7 60-10 53 7 47-9 19 2 6 7 3 13-8 30 1 40-8 27-28 49-65 47-30 10-10 7-6 12 2 25-9 35 12 35 21 16 80 0 43 16 10 15 6 18-6 23-20 28-50 11-33-5-30 9-22-6-33 11-95 4z" fill="none" stroke="#111" stroke-width="6" stroke-linejoin="round"/>
<path transform="scale(.1)" d="M4608 851l-15 1-13-11-3-55 3-32 18-35 4-23-2-12-11-25-5-43 1-40 11-30 8-47-13-25 2-28 18-17 9-25 8-6 55 8 47-3 30-8 40 13 33-11 25-1 4 5 1 8-11 37 8 30-5 20-20 26-8 17-32 29-17 10-35 14-26 22-8 17-4 58 13 37 22 21 50 2 18 8 7 9 13 4 12-1 18-9 10 3 12 21-4 20-18 22-25 1-23 9-27-4-28 8-25-15-32 21-75 1-15 4z" fill="none" stroke="#222" stroke-width="6" stroke-linejoin="round"/>
<path transform="scale(.1)" d="M4605 841l-15 2-5-4-2-8 5-20-2-30 2-20 24-45 6-20-21-37-5-68 2-17 14-25 11-53-1-9-15-21 0-12 19-15 8-25 6-5 14 1 25 10 28-7 27 3 28-12 37 12 35-10 13 1 7 12-6 32 7 28-3 12-8 11-20 12-12 27-15 18-13 9-32 10-39 36-11 30-2 52 3 15 8 18 23 24 13 4 42-2 10 4 8 13 30 8 30-9 9 13-1 15-18 15-23 0-22 10-23-3-25 7-8-4 1-13-8-9-10-5-15 0-14 7 3 22-11 9-10 1-30-4-35 1-18 8z" fill="none" stroke="#333" stroke-width="6" stroke-linejoin="round"/>
<path transform="scale(.1)" d="M4685 697l-22-4-13-21-25-1-17-6-4-11 3-38-7-22 1-15 12-16 20 5 1-2-5-80-7-25 16-37 10-3 27 10 28-6 20 7 35-18 32 8 38-8 10 2 4 10-5 30 6 23-3 10-7 8-23 9-12 35-12 15-11 6-30 7-41 40-17 35 3 25-5 28zM4600 837l-8-1-3-7 8-23-3-25 4-19 7-14 15 5 5-2 20-45 8-8 5 0 2 28 5 12 8 4 22-4 4 3-1 10-26 38-2 15-20 5-50 28zM4780 802l-15-1-16-15-2-12 10-10 18-5 16 12 5 20-6 7-10 4zM4858 799l-11-3 1-7 7-7 5 1 4 6-6 10zM4813 797l-8-3-1-5 13 0 1 5-5 3z" fill="none" stroke="#3a3a3a" stroke-width="6" stroke-linejoin="round"/>
<path transform="scale(.1)" d="M4660 634l-12 0-5-8 2-12 13-5 8-20-3-10-15-18-4-12-6-75 10-34 25 3 25-3 22 4 35-16 35 1 33-7 10 3 2 9-4 22 1 25-29 15-20 50-10 8-35 7-38 40-15 25-5 2-11-2-9 8zM4610 590l0-7 3 3-3 4zM4605 827l-5-1-1-7 16-26 43-39 17-7 13-1 2 5-5 13-26 32-54 31zM4773 789l-8-2-4-6 2-7 5-3 7 0 6 8-2 7-6 3z" fill="none" stroke="#444" stroke-width="6" stroke-linejoin="round"/>
<path transform="scale(.1)" d="M4685 598l-29-57-10-55 2-15 7-12 8-4 57-2 93-23 13 1 3 10-7 30-24 13-10 29-17 26-8 5-28 1-20 26-30 27zM4620 812l-6-1 3-7 28-31 20-15 14-2-4 12-20 24-35 20z" fill="none" stroke="#4a4a4a" stroke-width="6" stroke-linejoin="round"/>
<path transform="scale(.1)" d="M4695 567l-7 2-8-7-7-23-16-35-3-20 6-16 10-4 45-1 35-8 30-1 25-15 14 0 2 7-6 15-25 11-7 29-5 10-13 8-27 3-28 33-15 12z" fill="none" stroke="#555" stroke-width="6" stroke-linejoin="round"/>
<path transform="scale(.1)" d="M4698 549l-5 1-5-4-7-20-17-25-3-15 4-10 13-5 45 2 30-9 22 5 3 15-5 17-10 5-23-3-10 3-17 30-15 13z" fill="none" stroke="#5a5a5a" stroke-width="6" stroke-linejoin="round"/>
<path transform="scale(.1)" d="M4758 494l-17-5 1-8 11-6 11 1 2 13-8 5zM4703 527l-5 1-25-29-2-10 4-8 25 0 20 10 0 8-17 28z" fill="none" stroke="#606060" stroke-width="6" stroke-linejoin="round"/>
<path transform="scale(.1)" d="M4700 500l-6-1-1-5 7 2 0 4z" fill="none" stroke="#666" stroke-width="6" stroke-linejoin="round"/><ellipse cx="464.6" cy="78.2" rx="9.1" ry="3.6" transform="rotate(-41.7 464.6 78.2)" fill="#444" fill-opacity="0.6" stroke="#111" stroke-width="1.0"/><ellipse cx="464.5" cy="78.0" rx="6.0" ry="1.8" transform="rotate(-41.6 464.5 78.0)" fill="none" stroke="#222" stroke-width="0.7"/>
<path transform="scale(.1)" d="M658 1639h8M687 1651h8M810 1676h8M859 1621h8M732 1408h8M708 1511h8M732 1542h8M773 1481h8M854 1573h8M719 1574h8M818 1461h8M826 1656h8M819 1476h8M767 1483h8M737 1686h8M878 1453h8M741 1493h8M911 1577h8M831 1442h8M848 1515h8M843 1485h8M920 1503h8M848 1639h8M860 1477h8M732 1670h8M691 1659h8M737 1468h8M745 1680h8M847 1665h8M860 1557h8M856 1633h8M837 1635h8M782 1475h8M726 1557h8M809 1682h8M831 1466h8M862 1524h8M808 1464h8M737 1519h8M743 1475h8M739 1463h8M712 1647h8M823 1656h8M797 1467h8M886 1624h8M870 1546h8M812 1676h8M716 1625h8M720 1615h8M825 1474h8M683 1544h8M792 1476h8M773 1474h8M964 1445h8M838 1489h8M867 1562h8M729 1683h8M938 1534h8M716 1456h8M840 1477h8M839 1496h8M695 1625h8M729 1554h8M714 1520h8M705 1680h8M739 1475h8M703 1589h8M849 1492h8M894 1385h8M705 1548h8M820 1438h8M798 1466h8M744 1499h8M874 1430h8M846 1637h8M853 1616h8M876 1652h8M840 1647h8M850 1597h8M673 1549h8M718 1561h8M861 1615h8M915 1525h8M720 1557h8M894 1609h8M721 1577h8M801 1684h8M729 1529h8M914 1601h8M849 1605h8M748 1485h8M865 1649h8M760 1495h8M862 1558h8M872 1648h8M861 1497h8M727 1522h8M693 1612h8M851 1591h8M859 1655h8M719 1589h8M781 1470h8M851 1585h8M861 1596h8M865 1661h8M856 1521h8M717 1619h8M819 1453h8M731 1510h8M880 1524h8M850 1597h8M730 1483h8M854 1592h8M745 1512h8M819 1668h8M835 1663h8M725 1549h8M715 1614h8M705 1593h8M762 1488h8M845 1610h8M738 1514h8M851 1607h8M722 1668h8M845 1490h8M865 1442h8M721 1594h8M716 1567h8M861 1488h8M783 1462h8M835 1660h8M840 1639h8M734 1667h8M882 1643h8M727 1645h8M797 1468h8M931 1473h8M832 1651h8M851 1584h8M740 1486h8M861 1541h8M878 1416h8M837 1487h8M799 1686h8M729 1552h8M735 1677h8M814 1427h8M804 1681h8M817 1476h8M684 1665h8M845 1503h8M854 1597h8M999 1540h8M849 1657h8M843 1468h8M855 1532h8M854 1575h8M670 1671h8M857 1575h8M849 1641h8M817 1471h8M840 1479h8M816 1456h8M877 1432h8M845 1615h8M705 1605h8M828 1669h8M900 1435h8M869 1605h8M920 1585h8M851 1534h8M865 1551h8M892 1651h8M860 1507h8M846 1479h8M797 1684h8M849 1637h8M707 1596h8M762 1485h8M832 1480h8M799 1682h8M870 1584h8M719 1626h8M711 1560h8M740 1456h8M704 1644h8M830 1475h8M849 1520h8M754 1472h8M853 1579h8M896 1376h8M861 1577h8M864 1647h8M735 1675h8M874 1520h8M814 1681h8M760 1455h8M726 1520h8M868 1529h8M830 1657h8M789 1475h8M889 1503h8M716 1428h8M718 1554h8M701 1585h8M847 1628h8M891 1496h8M851 1526h8" stroke="#000" stroke-width="8" stroke-opacity="0.9"/>
<path transform="scale(.1)" d="M779 1686l-23-2-20-20-12-40-2-45 16-50 20-35 26-19 27-4 20 10 13 23 6 27 1 43-12 45-12 25-21 27-27 15z" fill="none" stroke="#222" stroke-width="8" stroke-linejoin="round"/>
<path transform="scale(.1)" d="M779 1679l-20-2-17-18-12-38-1-40 15-50 18-32 24-19 23-3 17 9 12 20 6 28 1 37-12 45-12 23-18 25-24 15z" fill="none" stroke="#111" stroke-width="6" stroke-linejoin="round"/>
<path transform="scale(.1)" d="M776 1671l-17-4-13-17-10-31 0-38 14-47 16-30 20-17 20-3 15 7 10 18 6 30 1 32-12 41-10 22-19 25-21 12z" fill="none" stroke="#222" stroke-width="6" stroke-linejoin="round"/>
<path transform="scale(.1)" d="M779 1662l-15-1-11-15-10-30-1-32 10-35 18-38 16-16 18-4 12 7 9 16 5 27 1 30-19 55-18 25-15 11z" fill="none" stroke="#333" stroke-width="6" stroke-linejoin="round"/>
<path transform="scale(.1)" d="M774 1654l-13-7-9-21-3-20 1-25 9-32 16-33 14-14 15-4 8 6 6 15 7 37-1 18-20 52-16 20-14 8z" fill="none" stroke="#3a3a3a" stroke-width="6" stroke-linejoin="round"/>
<path transform="scale(.1)" d="M779 1644l-10 0-9-15-5-20 1-25 7-28 13-28 13-17 12-5 6 5 5 10 6 50-16 45-23 28z" fill="none" stroke="#444" stroke-width="6" stroke-linejoin="round"/>
<path transform="scale(.1)" d="M779 1634l-8 0-7-13-1-37 15-45 13-19 8-3 5 5 4 17 3 35-15 40-17 20z" fill="none" stroke="#4a4a4a" stroke-width="6" stroke-linejoin="round"/>
<path transform="scale(.1)" d="M781 1622l-5 2-6-8-1-32 12-36 8-11 7-4 7 18 1 23-11 32-12 16z" fill="none" stroke="#555" stroke-width="6" stroke-linejoin="round"/>
<path transform="scale(.1)" d="M781 1608l-5-6 0-18 7-23 8-9 5 7 0 16-7 22-8 11z" fill="none" stroke="#5a5a5a" stroke-width="6" stroke-linejoin="round"/><ellipse cx="78.5" cy="158.1" rx="5.0" ry="9.3" transform="rotate(12 78.5 157.6)" fill="#222" fill-opacity="0.6"/><ellipse cx="78.8" cy="158.6" rx="1.4" ry="6.1" transform="rotate(12 78.5 157.6)" fill="none" stroke="#000" stroke-width="0.9"/>
<path transform="scale(.1)" d="M1602 1676h8M1472 1615h8M1491 1678h8M1571 1664h8M1576 1636h8M1469 1672h8M1485 1661h8M1534 1493h8M1590 1590h8M1487 1621h8M1524 1506h8M1533 1500h8M1499 1557h8M1489 1557h8M1589 1606h8M1484 1563h8M1590 1599h8M1471 1620h8M1579 1624h8M1584 1613h8M1476 1555h8M1625 1572h8M1498 1670h8M1574 1669h8M1576 1632h8M1587 1523h8M1486 1612h8M1503 1531h8M1587 1556h8M1505 1447h8M1535 1458h8M1480 1574h8M1590 1507h8M1597 1596h8M1486 1614h8M1584 1606h8M1565 1660h8M1583 1560h8M1486 1655h8M1533 1488h8M1477 1638h8M1587 1506h8M1489 1533h8M1612 1632h8M1580 1509h8M1503 1543h8M1567 1661h8M1573 1452h8M1533 1452h8M1584 1678h8M1543 1484h8M1574 1436h8M1585 1628h8M1488 1600h8M1530 1507h8M1583 1538h8M1676 1656h8M1591 1557h8M1491 1576h8M1584 1637h8M1523 1501h8M1597 1624h8M1589 1532h8M1556 1493h8M1515 1497h8M1561 1499h8M1484 1635h8M1509 1533h8M1583 1511h8M1457 1463h8M1470 1494h8M1577 1507h8M1587 1665h8M1590 1571h8M1542 1487h8M1510 1538h8M1492 1649h8M1585 1655h8M1503 1512h8M1506 1536h8M1591 1545h8M1573 1652h8M1482 1621h8M1555 1675h8M1545 1498h8M1494 1661h8M1597 1592h8M1481 1551h8M1561 1430h8M1534 1504h8M1483 1615h8M1467 1606h8M1590 1508h8M1608 1617h8M1518 1506h8M1578 1519h8M1593 1581h8M1510 1536h8M1459 1630h8M1568 1658h8M1568 1509h8M1589 1532h8M1588 1541h8M1587 1535h8M1608 1614h8M1585 1561h8M1516 1495h8M1639 1552h8M1577 1641h8M1486 1597h8M1476 1652h8M1590 1508h8M1704 1580h8M1508 1526h8" stroke="#000" stroke-width="8" stroke-opacity="0.9"/>
<path transform="scale(.1)" d="M1529 1690l-8 0-15-11-7-13-7-27-2-50 8-28 18-38 15-19 20-7 15 7 12 22 6 28 0 37-5 25-18 46-12 17-20 11z" fill="none" stroke="#222" stroke-width="8" stroke-linejoin="round"/>
<path transform="scale(.1)" d="M1531 1684l-15-3-12-17-7-28-1-45 6-25 19-40 15-19 15-5 13 8 9 19 5 25 1 35-5 25-17 45-11 15-15 10z" fill="none" stroke="#111" stroke-width="6" stroke-linejoin="round"/>
<path transform="scale(.1)" d="M1534 1677l-15-1-10-15-7-27-1-40 5-23 17-37 13-19 13-6 10 5 8 17 6 25 0 28-4 25-15 42-8 15-12 11z" fill="none" stroke="#222" stroke-width="6" stroke-linejoin="round"/>
<path transform="scale(.1)" d="M1529 1672l-10-5-7-16-4-20-1-35 4-20 16-37 12-18 10-5 7 6 6 14 5 23 0 27-18 63-10 16-10 7z" fill="none" stroke="#333" stroke-width="6" stroke-linejoin="round"/>
<path transform="scale(.1)" d="M1534 1661l-10 1-6-11-5-20 0-32 17-53 9-15 7-5 5 2 5 11 5 42-12 50-15 30z" fill="none" stroke="#3a3a3a" stroke-width="6" stroke-linejoin="round"/>
<path transform="scale(.1)" d="M1531 1652l-7-3-4-13 0-37 12-43 7-13 7-4 7 17 1 28-10 45-13 23z" fill="none" stroke="#444" stroke-width="6" stroke-linejoin="round"/>
<path transform="scale(.1)" d="M1534 1634l-5 0-2-5-1-28 10-36 8-7 3 26-6 32-7 18z" fill="none" stroke="#4a4a4a" stroke-width="6" stroke-linejoin="round"/><ellipse cx="153.6" cy="159.7" rx="3.5" ry="8.5" transform="rotate(8 153.6 159.2)" fill="#222" fill-opacity="0.6"/><ellipse cx="153.9" cy="160.2" rx="1.0" ry="5.5" transform="rotate(8 153.6 159.2)" fill="none" stroke="#000" stroke-width="0.9"/>
<path transform="scale(.1)" d="M2339 1616h8M2376 1524h8M2161 1538h8M2364 1490h8M2303 1452h8M2216 1602h8M2224 1435h8M2238 1315h8M2215 1617h8M2230 1629h8M2149 1410h8M2260 1438h8M2258 1503h8M2260 1458h8M2224 1560h8M2321 1478h8M2176 1253h8M2413 1536h8M2225 1635h8M2362 1602h8M2331 1368h8M2192 1620h8M2231 1556h8M2327 1676h8M2336 1628h8M2319 1452h8M2310 1675h8M2197 1468h8M2356 1511h8M2201 1638h8M2197 1453h8M2302 1685h8M2237 1673h8M2233 1548h8M2213 1578h8M2345 1523h8M2255 1502h8M2254 1483h8M2287 1449h8M2223 1566h8M2234 1671h8M2390 1421h8M2327 1684h8M2347 1456h8M2340 1508h8M2305 1474h8M2346 1499h8M2134 1560h8M2377 1578h8M2311 1475h8M2159 1296h8M2343 1628h8M2348 1555h8M2261 1434h8M2256 1498h8M2342 1497h8M2253 1509h8M2230 1549h8M2165 1340h8M2184 1361h8M2343 1465h8M2376 1687h8M2139 1482h8M2290 1466h8M2351 1603h8M2239 1670h8M2244 1676h8M2220 1419h8M2349 1528h8M2214 1311h8M2252 1464h8M2174 1511h8M2202 1627h8M2314 1669h8M2190 1432h8M2307 1681h8M2349 1475h8M2217 1625h8M2156 1414h8M2203 1272h8M2233 1510h8M2236 1489h8M2213 1601h8M2313 1468h8M2239 1667h8M2276 1486h8M2345 1528h8M2177 1517h8M2342 1510h8M2272 1475h8M2152 1499h8M2363 1642h8M2320 1666h8M2244 1462h8M2365 1508h8M2321 1477h8M2225 1459h8M2236 1673h8M2354 1470h8M2279 1470h8M2232 1674h8M2264 1476h8M2347 1483h8M2261 1493h8M2307 1476h8M2222 1558h8M2345 1532h8M2202 1635h8M2218 1598h8M2319 1678h8M2349 1517h8M2167 1638h8M2230 1658h8M2356 1666h8M2236 1508h8M2231 1505h8M2196 1518h8M2354 1532h8M2346 1615h8M2226 1582h8M2230 1468h8M2347 1583h8M2367 1421h8M2328 1657h8M2268 1487h8M2320 1444h8M2225 1580h8M2178 1432h8M2376 1548h8M2222 1466h8M2236 1534h8M2350 1559h8M2317 1673h8M2333 1685h8M2314 1669h8M2344 1481h8M2282 1339h8M2222 1657h8M2184 1443h8M2354 1542h8M2304 1677h8M2350 1564h8M2213 1562h8M2311 1301h8M2322 1668h8M2259 1481h8M2324 1658h8M2226 1595h8M2361 1496h8M2375 1487h8M2220 1428h8M2227 1589h8M2383 1527h8M2228 1367h8M2271 1470h8M2176 1524h8M2247 1497h8M2344 1518h8M2322 1428h8M2154 1121h8M2284 1480h8M2322 1657h8M2348 1566h8M2347 1531h8M2240 1686h8M2194 1591h8M2348 1551h8M2350 1558h8M2340 1627h8M2350 1357h8M2344 1641h8M2342 1632h8M2232 1552h8M2326 1475h8M2213 1534h8M2341 1647h8M2226 1595h8M2351 1513h8M2215 1561h8M2227 1509h8M2359 1563h8M2242 1309h8M2265 1464h8M2231 1512h8M2339 1507h8M2349 1466h8M2217 1620h8M2200 1569h8M2199 1650h8M2243 1521h8M2251 1485h8M2162 1576h8M2200 1499h8M2240 1509h8M2424 1534h8M2242 1506h8M2448 1663h8M2225 1645h8M2234 1655h8M2182 1577h8M2214 1608h8M2233 1654h8M2178 1538h8M2195 1409h8M2130 1251h8M2407 1687h8M2231 1668h8M2348 1580h8M2225 1604h8M2295 1398h8M2223 1564h8M2217 1684h8M2246 1513h8M2210 1300h8M2355 1560h8M2265 1466h8M2240 1313h8M2349 1620h8M2222 1369h8M2360 1610h8M2329 1453h8M2162 1556h8M2318 1660h8M2288 1472h8M2349 1589h8M2217 1577h8M2353 1427h8M2229 1554h8M2356 1630h8M2225 1672h8M2313 1445h8M2228 1674h8M2318 1665h8M2230 1534h8M2317 1678h8M2226 1639h8M2349 1558h8M2161 1444h8M2340 1629h8M2201 1493h8M2208 1483h8M2228 1529h8M2326 1657h8M2389 1487h8M2292 1461h8M2223 1656h8M2192 1394h8M2352 1542h8M2243 1676h8M2309 1421h8M2365 1491h8M2348 1563h8M2353 1533h8M2148 1473h8M2218 1601h8M2223 1608h8M2342 1468h8M2351 1493h8M2255 1479h8M2271 1484h8M2161 1494h8M2238 1442h8M2250 1485h8M2299 1331h8M2237 1538h8M2219 1612h8M2352 1522h8M2231 1549h8M2196 1582h8M2302 1441h8M2234 1685h8M2262 1495h8M2357 1540h8M2348 1543h8M2352 1587h8M2174 1566h8M2228 1523h8M2331 1474h8M2268 1357h8M2320 1467h8M2354 1559h8M2124 1344h8M2223 1600h8M2353 1634h8M2239 1534h8M2206 1562h8M2368 1563h8M2173 1337h8M2338 1637h8M2352 1556h8M2290 1376h8M2322 1471h8M2238 1524h8M2338 1491h8M2365 1552h8M2320 1666h8M2233 1664h8M2345 1623h8M2223 1556h8M2234 1660h8M2131 1381h8M2348 1522h8M2273 1482h8M2333 1643h8M2352 1556h8M2346 1528h8M2219 1470h8M2351 1585h8M2227 1578h8M2214 1679h8M2226 1652h8M2345 1519h8M2348 1557h8M2122 1480h8M2211 1576h8M2226 1681h8M2350 1570h8M2210 1589h8M2228 1654h8M2308 1677h8M2299 1686h8M2346 1679h8M2349 1553h8M2200 1431h8M2310 1429h8M2352 1588h8M2219 1639h8M2345 1676h8M2258 1401h8M2355 1625h8M2218 1540h8M2244 1480h8M2345 1526h8M2251 1476h8M2348 1535h8M2350 1545h8M2220 1538h8M2332 1329h8M2339 1605h8M2348 1530h8M2188 1458h8M2350 1560h8M2251 1504h8M2212 1592h8M2407 1377h8M2234 1551h8M2348 1522h8M2242 1511h8M2363 1553h8M2326 1431h8M2291 1473h8M2357 1551h8M2320 1667h8M2318 1673h8M2176 1509h8M2186 1463h8M2226 1288h8M2223 1556h8M2232 1646h8M2219 1648h8M2218 1512h8M2227 1571h8M2345 1490h8M2335 1365h8M2243 1514h8M2364 1539h8M2342 1637h8M2261 1487h8M2447 1574h8M2225 1677h8M2385 1513h8M2199 1489h8M2351 1551h8M2199 1521h8M2347 1524h8M2276 1470h8M2337 1504h8M2212 1296h8M2426 1460h8M2332 1492h8M2199 1502h8M2226 1573h8M2321 1480h8M2294 1460h8M2288 1419h8M2338 1496h8M2398 1459h8M2220 1615h8M2415 1508h8M2225 1580h8M2332 1637h8M2220 1571h8M2220 1599h8M2342 1602h8M2349 1543h8M2302 1471h8M2145 1617h8M2252 1473h8M2384 1475h8M2228 1556h8M2144 1537h8M2232 1360h8M2197 1608h8M2243 1501h8M2247 1681h8M2217 1617h8M2269 1469h8M2358 1550h8M2443 1556h8M2335 1480h8M2315 1473h8M2341 1609h8M2307 1680h8M2251 1507h8M2314 1667h8M2262 1486h8M2221 1579h8M2364 1499h8M2382 1490h8M2233 1533h8M2392 1595h8M2212 1484h8M2180 1470h8M2368 1608h8M2506 1536h8M2338 1493h8M2299 1401h8M2254 1502h8M2264 1497h8M2336 1638h8M2245 1511h8M2238 1535h8M2227 1618h8M2231 1530h8M2240 1677h8M2341 1308h8M2238 1668h8M2251 1320h8M2352 1574h8M2350 1607h8M2363 1560h8M2303 1244h8M2222 1432h8M2250 1518h8M2133 1463h8M2185 1637h8M2336 1492h8M2348 1578h8M2156 1507h8M2340 1483h8M2228 1637h8M2337 1341h8M2248 1519h8M2216 1604h8M2225 1411h8M2337 1453h8M2326 1653h8M2341 1626h8M2211 1604h8M2199 1568h8M2216 1603h8M2224 1559h8M2223 1622h8M2218 1551h8M2343 1580h8M2247 1494h8M2266 1437h8M2271 1440h8M2229 1650h8M2341 1597h8M2345 1487h8M2198 1624h8M2328 1475h8M2225 1651h8M2292 1469h8M2237 1660h8M2313 1675h8M2275 1260h8M2236 1684h8M2232 1652h8M2353 1548h8M2221 1629h8M2348 1571h8M2211 1629h8M2238 1667h8M2383 1620h8M2222 1595h8M2345 1508h8M2183 1452h8M2261 1462h8M2326 1488h8M2219 1668h8M2328 1651h8M2199 1621h8M2216 1472h8M2339 1497h8M2347 1493h8M2344 1600h8M2349 1600h8M2249 1397h8M2334 1636h8M2218 1563h8M2342 1513h8M2274 1488h8M2278 1453h8M2219 1549h8M2229 1534h8M2331 1653h8M2221 1552h8M2199 1628h8M2203 1270h8M2258 1502h8M2347 1541h8M2263 1496h8M2136 1355h8M2315 1450h8M2142 1518h8M2207 1575h8M2229 1674h8M2339 1485h8M2227 1629h8M2233 1527h8M2225 1625h8M2208 1501h8M2216 1601h8M2324 1649h8M2168 1580h8M2311 1473h8M2241 1511h8M2208 1595h8M2183 1508h8M2382 1496h8M2344 1619h8M2235 1502h8M2249 1520h8M2280 1219h8M2315 1475h8M2359 1624h8M2223 1606h8M2125 1273h8M2332 1494h8M2203 1576h8M2326 1484h8M2326 1669h8M2245 1517h8M2323 1472h8M2218 1614h8M2182 1614h8M2196 1412h8M2343 1582h8M2339 1295h8M2301 1685h8M2190 1643h8M2224 1645h8M2156 1348h8M2315 1473h8M2177 1534h8M2323 1468h8M2149 1433h8M2310 1680h8M2345 1566h8M2198 1587h8M2220 1513h8M2237 1680h8M2221 1642h8M2322 1370h8M2306 1475h8M2235 1525h8M2271 1398h8M2357 1633h8M2230 1516h8M2333 1669h8M2207 1588h8M2379 1521h8M2169 1462h8M2215 1608h8M2320 1468h8M2228 1542h8M2261 1502h8M2284 1427h8M2234 1652h8M2225 1582h8M2366 1542h8M2232 1648h8M2230 1629h8M2241 1530h8M2232 1539h8M2223 1559h8M2338 1628h8M2224 1684h8M2203 1304h8M2342 1517h8M2344 1503h8M2312 1479h8M2207 1639h8M2319 1481h8M2172 1150h8M2286 1479h8M2258 1283h8M2249 1447h8M2239 1514h8M2246 1523h8M2314 1390h8M2102 1545h8M2238 1531h8M2360 1514h8M2223 1510h8M2304 1424h8M2242 1519h8M2222 1513h8M2328 1652h8M2227 1626h8M2261 1502h8M2327 1489h8M2367 1570h8M2384 1621h8M2345 1602h8M2195 1556h8M2309 1453h8M2161 1449h8M2227 1621h8M2304 1345h8M2175 1400h8M2277 1312h8M2343 1492h8M2133 1515h8M2393 1304h8M2229 1559h8M2334 1645h8M2338 1510h8M2344 1578h8M2283 1437h8M2358 1632h8M2339 1285h8M2321 1435h8M2232 1389h8M2248 1286h8M2352 1571h8M2309 1680h8M2248 1505h8M2341 1513h8M2298 1465h8M2225 1590h8M2321 1479h8M2269 1180h8M2288 1477h8M2188 1366h8M2226 1542h8M2227 1577h8M2212 1578h8M2310 1683h8M2366 1634h8" stroke="#000" stroke-width="8" stroke-opacity="0.9"/>
<path transform="scale(.1)" d="M2281 1687l-22-2-19-21-13-50 0-43 14-40 22-35 19-17 22-7 17 8 13 16 10 28 3 32-11 58-10 27-20 29-25 17z" fill="none" stroke="#000" stroke-width="14" stroke-linejoin="round"/>
<path transform="scale(.1)" d="M2276 1679l-18-5-15-23-9-40 0-40 15-39 20-30 17-17 18-4 12 6 12 17 9 25 2 27-10 55-10 28-20 27-23 13z" fill="none" stroke="#111" stroke-width="6" stroke-linejoin="round"/>
<path transform="scale(.1)" d="M2279 1670l-16-4-14-22-8-35 0-35 8-23 19-35 17-20 16-6 10 4 10 15 8 22 2 25-19 78-13 21-20 15z" fill="none" stroke="#222" stroke-width="6" stroke-linejoin="round"/>
<path transform="scale(.1)" d="M2281 1659l-12 0-13-18-8-32 1-30 7-23 15-30 18-22 12-4 8 5 8 16 6 35-18 73-10 17-14 13z" fill="none" stroke="#333" stroke-width="6" stroke-linejoin="round"/>
<path transform="scale(.1)" d="M2281 1649l-10 0-10-16-5-27 2-25 20-50 11-15 10-6 7 6 5 12 4 28-16 68-8 15-10 10z" fill="none" stroke="#3a3a3a" stroke-width="6" stroke-linejoin="round"/>
<path transform="scale(.1)" d="M2279 1639l-5-1-6-9-4-30 5-25 12-30 8-14 7-6 6 5 4 12-2 33-12 47-13 18z" fill="none" stroke="#444" stroke-width="6" stroke-linejoin="round"/>
<path transform="scale(.1)" d="M2279 1622l-6-16 3-22 10-28 8-8 2 13-4 33-6 20-7 8z" fill="none" stroke="#4a4a4a" stroke-width="6" stroke-linejoin="round"/><ellipse cx="228.6" cy="158.3" rx="4.6" ry="9.3" transform="rotate(10 228.6 157.8)" fill="#222" fill-opacity="0.15"/><ellipse cx="228.9" cy="158.8" rx="1.3" ry="6.1" transform="rotate(10 228.6 157.8)" fill="none" stroke="#000" stroke-width="0.9"/>
<path transform="scale(.1)" d="M3333 1569h8M3269 1285h8M3250 1182h8M3068 1499h8M3044 1143h8M3325 1186h8M3177 1438h8M3358 1254h8M3232 1113h8M3155 1158h8M3282 1681h8M3388 1542h8M3242 1453h8M3139 1132h8M3281 1465h8M3281 1459h8M3368 1430h8M3373 1575h8M3258 1220h8M3266 1432h8M3295 1199h8M3002 1137h8M3250 1181h8M3244 1121h8M3010 1607h8M3393 1646h8M3456 1527h8M3316 1391h8M3368 1346h8M3369 1402h8M3267 1274h8M3401 1500h8M3115 1248h8M3389 1240h8M3085 1222h8M3152 1446h8M3078 1451h8M3270 1327h8M3312 1177h8M3377 1547h8M3340 1378h8M3285 1283h8M2973 1647h8M3162 1442h8M3092 1671h8M3263 1118h8M3397 1612h8M3263 1088h8M3279 1172h8M3075 1396h8M3317 1253h8M3194 1444h8M3008 1566h8M3297 1233h8M3396 1611h8M3043 1600h8M3312 1360h8M3234 1149h8M3079 1223h8M3121 1262h8M3271 1321h8M3289 1638h8M3268 1217h8M3159 1081h8M3142 1401h8M3285 1246h8M3355 1575h8M2972 1244h8M3293 1375h8M3037 1558h8M3344 1577h8M3382 1499h8M3042 1655h8M3300 1088h8M3120 1349h8M3134 1219h8M3276 1268h8M3009 1156h8M3330 1593h8M3331 1350h8M3325 1212h8M3287 1309h8M3157 1445h8M3352 1537h8M3302 1631h8M3309 1599h8M3283 1194h8M3251 1448h8M3278 1283h8M3055 1532h8M3323 1497h8M3024 1590h8M3352 1606h8M3499 1388h8M3472 1649h8M3464 1553h8M3268 1307h8M3332 1462h8M3113 1466h8M3379 1595h8M3426 1469h8M3065 1390h8M3283 1390h8M3131 1216h8M3172 1152h8M3418 1166h8M3375 1530h8M3331 1264h8M3145 1415h8M3263 1323h8M3399 1520h8M3325 1105h8M3389 1457h8M3290 1237h8M3241 1447h8M3483 1529h8M3276 1227h8M3353 1517h8M3132 1235h8M3278 1268h8M3108 1386h8M3027 1511h8M3255 1380h8M3322 1289h8M3261 1685h8M3365 1261h8M3049 1301h8M3303 1653h8M3384 1511h8M2981 1534h8M3276 1314h8M3288 1334h8M3315 1605h8M3301 1296h8M3283 1659h8M3060 1433h8M3336 1567h8M3362 1358h8M3078 1325h8M3289 1202h8M3407 1534h8M3057 1617h8M3305 1202h8M3326 1311h8M3138 1178h8M3264 1395h8M3356 1491h8M3257 1450h8M3349 1236h8M3113 1278h8M3388 1524h8M3099 1224h8M3320 1282h8M3275 1137h8M3493 1503h8M3075 1651h8M3319 1391h8M3368 1531h8M3075 1486h8M3243 1410h8M3248 1451h8M3208 1152h8M3290 1296h8M3336 1590h8M3137 1181h8M3319 1453h8M3345 1497h8M3265 1228h8M3368 1464h8M3283 1150h8M3331 1489h8M3254 1164h8M3381 1564h8M3275 1668h8M3361 1471h8M3025 1337h8M3267 1198h8M3061 1318h8M3126 1260h8M3300 1438h8M3251 1408h8M3287 1454h8M3127 1227h8M3334 1395h8M3323 1411h8M3317 1348h8M3130 1172h8M3073 1514h8M3131 1359h8M3033 1625h8M3299 1659h8M3047 1135h8M3276 1291h8M3316 1449h8M3263 1395h8M3261 1351h8M3305 1206h8M3188 1125h8M3370 1542h8M3284 1439h8M3049 1593h8M3153 1132h8M3290 1274h8M3317 1594h8M3324 1577h8M3316 1597h8M3291 1150h8M3335 1356h8M3371 1177h8M3333 1571h8M3299 1616h8M3385 1174h8M3288 1205h8M3115 1227h8M3493 1412h8M2988 1460h8M3069 1526h8M3321 1276h8M3143 1415h8M3372 1339h8M3228 1150h8M3369 1568h8M3421 1398h8M3071 1660h8M3206 1135h8M3368 1539h8M3289 1650h8M3118 1363h8M3214 1123h8M3303 1465h8M3154 1135h8M3302 1372h8M3119 1357h8M3141 1159h8M3357 1411h8M3315 1238h8M3265 1682h8M3341 1274h8M3275 1229h8M3196 1128h8M3095 1480h8M3413 1290h8M3065 1293h8M3257 1173h8M3142 1396h8M3321 1584h8M3307 1236h8M3391 1370h8M3315 1259h8M3324 1487h8M3313 1352h8M3330 1304h8M3246 1192h8M3275 1402h8M3336 1337h8M3296 1223h8M3330 1661h8M3391 1258h8M3115 1323h8M3245 1433h8M3329 1401h8M3321 1417h8M3337 1282h8M3310 1325h8M3305 1477h8M3125 1249h8M3381 1533h8M3372 1373h8M3328 1445h8M3341 1149h8M3108 1259h8M3266 1226h8M3391 1156h8M3070 1452h8M3396 1571h8M3375 1112h8M3123 1281h8M3295 1648h8M3127 1310h8M3129 1436h8M3191 1440h8M3221 1439h8M3356 1427h8M3297 1166h8M3328 1581h8M3264 1248h8M3310 1278h8M3296 1617h8M3307 1323h8M3358 1527h8M3325 1320h8M3269 1257h8M3377 1561h8M3330 1615h8M3285 1469h8M3292 1676h8M3271 1239h8M3105 1365h8M3281 1304h8M3042 1555h8M3348 1668h8M3273 1671h8M3343 1585h8M3397 1498h8M3174 1132h8M3322 1488h8M3351 1676h8M3267 1687h8M3216 1150h8M3127 1301h8M3106 1378h8M3049 1546h8M3083 1285h8M3293 1399h8M3084 1425h8M3327 1282h8M3046 1589h8M3377 1315h8M3357 1627h8M3275 1346h8M3276 1248h8M2998 1673h8M3162 1427h8M3129 1455h8M3335 1119h8M3264 1204h8M3284 1293h8M3247 1170h8M3005 1539h8M3317 1607h8M3102 1356h8M3301 1204h8M3131 1202h8M3267 1261h8M3037 1317h8M3048 1608h8M3028 1591h8M3108 1684h8M3360 1283h8M3410 1449h8M3087 1667h8M3005 1575h8M3158 1085h8M3273 1316h8M3260 1235h8M3124 1458h8M3356 1499h8M3358 1629h8M3108 1142h8M3373 1327h8M3265 1374h8M3129 1354h8M3265 1384h8M3187 1443h8M3267 1187h8M3408 1250h8M3282 1220h8M3275 1391h8M3050 1542h8M3000 1273h8M2994 1600h8M3138 1403h8M3337 1661h8M3036 1572h8M3361 1434h8M3079 1502h8M3313 1305h8M3114 1278h8M3337 1614h8M3083 1439h8M3389 1358h8M3098 1485h8M3103 1106h8M3208 1092h8M3276 1295h8M3368 1337h8M3450 1541h8M3179 1119h8M3368 1216h8M2962 1607h8M3155 1441h8M3250 1099h8M3119 1297h8M3296 1622h8M3119 1122h8M3342 1317h8M3315 1480h8M3308 1359h8M3289 1667h8M3161 1159h8M3406 1501h8M3047 1613h8M3387 1486h8M3316 1228h8M3321 1587h8M3271 1329h8M3168 1145h8M3085 1459h8M3183 1444h8M3135 1405h8M3312 1465h8M3215 1112h8M3362 1539h8M3357 1078h8M3046 1424h8M3272 1254h8M3270 1364h8M3402 1574h8M3386 1390h8M3394 1488h8M3331 1458h8M3100 1239h8M3286 1256h8M3125 1309h8M3376 1508h8M3270 1165h8M3211 1444h8M3257 1220h8M3076 1511h8M3276 1463h8M3329 1645h8M3258 1356h8M3295 1389h8M3114 1344h8M3298 1466h8M3308 1397h8M3414 1529h8M3280 1647h8M3088 1492h8M3425 1563h8M3089 1287h8M3162 1125h8M3040 1422h8M3350 1591h8M3080 1657h8M3312 1641h8M3404 1544h8M3245 1177h8M3266 1314h8M3221 1161h8M3000 1173h8M3197 1144h8M3022 1677h8M3330 1379h8M3330 1234h8M3109 1233h8M3243 1405h8M3333 1207h8M3364 1277h8M3291 1288h8M3079 1673h8M2966 1623h8M3413 1501h8M3389 1541h8M3369 1422h8M3123 1205h8M3109 1373h8M3348 1093h8M3345 1101h8M3327 1419h8M3089 1492h8M3368 1536h8M3323 1577h8M3192 1442h8M3078 1405h8M3058 1337h8M3148 1422h8M3110 1318h8M3298 1470h8M3325 1311h8M3214 1129h8M3353 1194h8M3344 1134h8M3373 1581h8M3327 1497h8M3107 1217h8M3264 1245h8M3295 1470h8M3108 1312h8M3299 1149h8M3388 1231h8M3285 1659h8M3246 1403h8M3266 1443h8M3404 1191h8M3125 1183h8M3126 1272h8M3460 1640h8M3308 1260h8M3354 1289h8M3079 1267h8M3231 1161h8M3332 1497h8M3119 1443h8M3029 1583h8M3287 1202h8M3297 1620h8M3375 1551h8M3352 1605h8M3357 1573h8M3354 1533h8M3338 1596h8M3407 1561h8M3362 1365h8M3121 1374h8M3241 1407h8M3382 1526h8M3080 1295h8M3471 1580h8M3309 1467h8M3356 1548h8M3372 1528h8M3370 1565h8M3373 1498h8M3150 1143h8M3230 1119h8M3276 1443h8M3172 1440h8M3334 1406h8M3365 1166h8M3348 1511h8M3263 1145h8" stroke="#000" stroke-width="8" stroke-opacity="0.9"/>
<path transform="scale(.1)" d="M3204 1434l-23-1-21-17-20-35-13-50 1-80 13-55 8-17 15-19 15-10 15-4 12 3 13 8 24 29 12 28 9 57-1 43-10 62-22 40-12 11-15 7zM3251 1684l-100 2-27-2-61-53-15-67 0-15 49-60 27-27 67-21 18 0 72 22 71 58-1 10-49 73-36 70-6 7-9 3z" fill="none" stroke="#555" stroke-width="8" stroke-linejoin="round"/>
<path transform="scale(.1)" d="M3196 1426l-12-1-10-6-20-26-11-24-9-40 5-75 18-65 14-25 20-10 10 2 10 8 20 19 10 16 6 17 3 38 6 32-3 50-8 40-21 37-28 13zM3181 1676l-25 2-27-4-15-8-24-22-12-18-2-20-15-27-3-25 47-63 24-22 70-19 72 16 10 7 46 48 4 8-3 10-74 131-18 5-55 1z" fill="none" stroke="#444" stroke-width="6" stroke-linejoin="round"/>
<path transform="scale(.1)" d="M3201 1417l-10 1-10-4-22-27-9-18-8-43 2-37 11-65 16-48 8-9 10-4 10 2 12 10 24 29 4 17-1 35 11 33-2 45-7 32-18 38-21 13zM3171 1669l-17 1-23-6-15-7-12-11-9-15-3-30-21-25 0-17 30-35 11-30 19-17 30-5 35-13 70 13 34 32 15 20 0 10-15 35-13 20-9 22-32 51-17 6-35-5-23 6zM3224 1504l6-5-2-8-7-4-7 1-4 6 2 5 12 5zM3117 1544l4-8-4-5-6 0-2 11 8 2z" fill="none" stroke="#555" stroke-width="6" stroke-linejoin="round"/>
<path transform="scale(.1)" d="M3199 1409l-15-4-23-30-3-11 2-23-8-17-2-18 13-82 15-43 11-9 17 9 21 25 4 15-1 40 12 33-1 35-5 20-19 47-8 9-10 4zM3231 1659l-17 0-25-9-18 7-15 1-32-6-15-13-4-10 6-10-1-23 4-17 10-13 20-10 3-5-1-22-27-14-3-4 2-12 13-15 18-3 25 4 1-6 9-5 12-4 8 1-25 18 17 5 35 34 5 1 33-18-31-30 16-4 15 7 32 35-10 47-14 20-7 20-23 43-16 10zM3253 1594l6-5 0-7-18-8-5 19 17 1zM3149 1651l13-5 4-5-4-17-6-7-15 4-9 10 5 18 12 2z" fill="none" stroke="#5a5a5a" stroke-width="6" stroke-linejoin="round"/>
<path transform="scale(.1)" d="M3199 1400l-10-4-16-27 0-33-10-20-4-15 12-75 14-37 6-6 13 6 16 25 3 52 11 25 1 13-2 30-17 22-8 35-9 9zM3134 1506l-8-1 0-4 5-8 8-3 3 4-1 7-7 5zM3214 1616l-13 2-15-6-17-16-10-17-6-30 2-28 6-15 15-10 15 1 23 17 11 15 9 20 1 15-6 32-6 13-9 7zM3134 1601l-5 0-1-5 3-7 5-1 4 6-6 7zM3229 1644l-8 0-2-10 10-9 10-2 2 8-12 13z" fill="none" stroke="#666" stroke-width="6" stroke-linejoin="round"/>
<path transform="scale(.1)" d="M3196 1374l-5-2-5-11-2-30-14-37 9-58 12-31 5-4 17 30 2 48 5 22-24 73zM3211 1609l-10 2-12-6-15-13-8-16-7-22 0-18 5-22 12-12 13 0 18 12 11 12 9 20 2 15-4 28-6 14-8 6z" fill="none" stroke="#6a6a6a" stroke-width="6" stroke-linejoin="round"/>
<path transform="scale(.1)" d="M3206 1262l-10 0-10-7 3-16 10-6 6 11 1 18zM3204 1604l-10-3-13-11-15-34-2-15 4-20 5-10 8-4 13 3 15 11 14 30 1 15-6 25-7 10-7 3z" fill="none" stroke="#777" stroke-width="6" stroke-linejoin="round"/>
<path transform="scale(.1)" d="M3204 1597l-8-2-10-9-14-30 0-25 4-12 5-5 10 0 11 7 15 28 1 15-3 17-4 10-7 6z" fill="none" stroke="#777" stroke-width="6" stroke-linejoin="round"/>
<path transform="scale(.1)" d="M3204 1588l-8-1-6-6-13-25-1-20 8-15 7 0 8 5 12 23 1 20-8 19z" fill="none" stroke="#808080" stroke-width="6" stroke-linejoin="round"/>
<path transform="scale(.1)" d="M3201 1577l-10-4-8-19-1-15 7-9 10 7 7 17 0 14-5 9z" fill="none" stroke="#888" stroke-width="6" stroke-linejoin="round"/>
<path transform="scale(.1)" d="M3196 1563l-5-7 0-10 7 8-2 9z" fill="none" stroke="#888" stroke-width="6" stroke-linejoin="round"/><ellipse cx="319.2" cy="155.4" rx="5.4" ry="7.4" transform="rotate(-15 319.2 155.4)" fill="#555" fill-opacity="0.45" stroke="#111" stroke-width="1.1"/><ellipse cx="319.7" cy="155.9" rx="3.1" ry="4.8" transform="rotate(-15 319.2 155.4)" fill="none" stroke="#222" stroke-width="0.7"/>
<path transform="scale(.1)" d="M3923 1440h8M4013 1168h8M3882 1237h8M4153 1636h8M4107 1457h8M3893 1228h8M3917 1186h8M4148 1519h8M4108 1605h8M4044 1300h8M3824 1618h8M4113 1477h8M4124 1139h8M3815 1229h8M4099 1119h8M3982 1150h8M3800 1497h8M4100 1592h8M4094 1258h8M4048 1400h8M3883 1258h8M4008 1421h8M4126 1606h8M4126 1377h8M4031 1405h8M3855 1233h8M4040 1310h8M4059 1329h8M4078 1295h8M3823 1613h8M3836 1308h8M4076 1352h8M4041 1228h8M4038 1315h8M3864 1093h8M4057 1369h8M4034 1456h8M3879 1192h8M3883 1247h8M3929 1453h8M4065 1461h8M3878 1280h8M3808 1553h8M3985 1444h8M3891 1377h8M4135 1531h8M4160 1469h8M4008 1687h8M3931 1072h8M4049 1318h8M3994 1151h8M4036 1324h8M4028 1227h8M4039 1182h8M4035 1216h8M4062 1282h8M4158 1497h8M4123 1565h8M4065 1337h8M4146 1608h8M3900 1425h8M4085 1159h8M4061 1650h8M4192 1497h8M4118 1550h8M4067 1356h8M3815 1404h8M4127 1461h8M4021 1415h8M4056 1166h8M4104 1630h8M4075 1282h8M3813 1635h8M3830 1513h8M4101 1630h8M4003 1146h8M3810 1465h8M4020 1389h8M4088 1487h8M4059 1400h8M4088 1620h8M4187 1384h8M3821 1485h8M4105 1106h8M3911 1182h8M3842 1192h8M3817 1583h8M4103 1392h8M4166 1431h8M3858 1350h8M4070 1372h8M4004 1417h8M4088 1630h8M3775 1647h8M4050 1204h8M4149 1624h8M4001 1176h8M4049 1208h8M4085 1245h8M3793 1553h8M4041 1225h8M4096 1209h8M3882 1364h8M4034 1378h8M3812 1451h8M3843 1219h8M3924 1134h8M4168 1536h8M3859 1672h8M4170 1212h8M4185 1264h8M4102 1682h8M4087 1413h8M4142 1538h8M4036 1264h8M4162 1324h8M3930 1438h8M4108 1584h8M3787 1554h8M4146 1670h8M3803 1364h8M4107 1280h8M4070 1641h8M4073 1205h8M3970 1443h8M4054 1436h8M4139 1243h8M3877 1321h8M3837 1522h8M3950 1147h8M4067 1443h8M4102 1582h8M4136 1595h8M4050 1160h8M3925 1171h8M4025 1452h8M4030 1416h8M4071 1422h8M4149 1464h8M3806 1287h8M4113 1568h8M3825 1608h8M3797 1519h8M3848 1185h8M4136 1492h8M4094 1253h8M4175 1587h8M3879 1680h8M3850 1302h8M3807 1659h8M3902 1386h8M4027 1387h8M4019 1122h8M4079 1277h8M3888 1257h8M4139 1238h8M4042 1249h8M4073 1448h8M4125 1200h8M3859 1483h8M4151 1559h8M4145 1278h8M4095 1592h8M4016 1450h8M4112 1588h8M4058 1445h8M3997 1167h8M4116 1101h8M4091 1488h8M3912 1456h8M4053 1290h8M3895 1171h8M3881 1202h8M3817 1515h8M4113 1196h8M4122 1559h8M4065 1656h8M3860 1235h8M4076 1626h8M3871 1348h8M3879 1398h8M4097 1440h8M3922 1173h8M3804 1265h8M3863 1676h8M4065 1248h8M4132 1283h8M4098 1490h8M3832 1432h8M4093 1665h8M3854 1269h8M3983 1156h8M4154 1495h8M4094 1681h8M4075 1653h8M4096 1596h8M4109 1571h8M3907 1207h8M3890 1333h8M3919 1429h8M3801 1529h8M4159 1578h8M3920 1441h8M3764 1551h8M4154 1280h8M3796 1539h8M4111 1220h8M4022 1217h8M4127 1214h8M4167 1344h8M4154 1262h8M3940 1144h8M4081 1475h8M3918 1426h8M4071 1452h8M4090 1388h8M4184 1176h8M4027 1374h8M4160 1676h8M4020 1203h8M4057 1313h8M4122 1500h8M3889 1358h8M4083 1191h8M4034 1199h8M3919 1158h8M4042 1202h8M3999 1424h8M3801 1674h8M4110 1256h8M3746 1427h8M3906 1164h8M4154 1226h8M4055 1259h8M3989 1156h8M4066 1460h8M4116 1509h8M3856 1393h8M4125 1527h8M4138 1376h8M3786 1604h8M4201 1500h8M3815 1576h8M3770 1538h8M3790 1578h8M4074 1094h8M4116 1569h8M4008 1417h8M4036 1347h8M4122 1395h8M4121 1415h8M4014 1399h8M4073 1297h8M4110 1594h8M4099 1394h8M4040 1438h8M4135 1549h8M4146 1566h8M3883 1378h8M4124 1364h8M4098 1447h8M4148 1087h8M4100 1207h8M4163 1531h8M4022 1217h8M4144 1524h8M4019 1165h8M3852 1657h8M3886 1266h8M4095 1620h8M4059 1438h8M4115 1570h8M4082 1317h8M4132 1598h8M4137 1257h8M3804 1616h8M4126 1122h8M4073 1642h8M4144 1319h8M4146 1543h8M4087 1281h8M4090 1279h8M3811 1361h8M4118 1384h8M4106 1620h8M4151 1421h8M4100 1610h8M4072 1181h8M3825 1131h8M4054 1401h8M4090 1246h8M4041 1279h8M3880 1225h8M4208 1593h8M4038 1222h8M3813 1616h8M3940 1156h8M4104 1583h8M4119 1194h8M4001 1174h8M3844 1516h8M4051 1278h8M4070 1460h8M3807 1538h8M3821 1641h8M3799 1561h8M3903 1412h8M4108 1586h8M4035 1251h8M3796 1487h8M4042 1262h8M3896 1195h8M3857 1665h8M3727 1495h8M3775 1561h8M3880 1367h8M3833 1241h8M4128 1596h8M3882 1137h8M4058 1195h8M4121 1508h8M4066 1283h8M3919 1438h8M4073 1197h8M4022 1100h8M3952 1153h8M4114 1423h8M3859 1489h8M3888 1375h8M3902 1388h8M4048 1260h8M4137 1162h8M3875 1268h8M4021 1219h8M4111 1575h8M3888 1227h8M4096 1326h8M3877 1285h8M3858 1668h8M3911 1440h8M4102 1296h8M4052 1394h8M4137 1344h8M4112 1579h8M3833 1667h8M4168 1189h8M3997 1119h8M4033 1234h8M3880 1451h8M4106 1584h8M4106 1371h8M3993 1430h8M4159 1513h8M3908 1180h8M3819 1605h8M4082 1668h8M4061 1385h8M3886 1258h8M4027 1203h8M4106 1504h8M4103 1601h8M4038 1239h8M3873 1245h8M3812 1545h8M4146 1281h8M4021 1182h8M4134 1362h8M4048 1287h8M4016 1394h8M3792 1612h8M3993 1151h8M4093 1641h8M3825 1631h8M3873 1453h8M3993 1431h8M4064 1214h8M4092 1212h8M4048 1672h8M4039 1256h8M4066 1331h8M4214 1338h8M4076 1313h8M4036 1169h8M3861 1217h8M4038 1321h8M4033 1193h8M4042 1436h8M4204 1370h8M3882 1334h8M3936 1452h8M4018 1455h8M3799 1588h8M3759 1500h8M3804 1577h8M3833 1385h8M3976 1153h8M4111 1422h8M3997 1449h8M4123 1396h8M4003 1433h8M4134 1395h8M3998 1435h8M4099 1498h8M3894 1419h8M3849 1663h8M4137 1623h8M3907 1413h8M3880 1320h8M3831 1263h8M4010 1182h8M4079 1479h8M3879 1419h8M4039 1215h8M3847 1218h8M4130 1638h8M3858 1671h8M4015 1427h8M3885 1252h8M3871 1673h8M4048 1319h8M3971 1106h8M4050 1459h8M4063 1455h8M4054 1306h8M4087 1317h8M3793 1472h8M4103 1336h8M4079 1094h8M3857 1409h8M4185 1544h8M4001 1435h8M4121 1522h8M4218 1637h8M4073 1413h8M4077 1331h8M3853 1486h8M4180 1560h8M4082 1656h8M4187 1522h8M3883 1230h8M3994 1092h8M4178 1319h8M3772 1632h8M3897 1375h8M4150 1526h8M4135 1075h8M4070 1235h8M4145 1378h8M4083 1489h8M4153 1529h8M3853 1470h8M4184 1572h8M4037 1248h8M3958 1121h8M3854 1364h8M4058 1458h8M4099 1239h8M4077 1271h8M3977 1442h8M4018 1430h8M3875 1198h8M3822 1645h8M4105 1448h8M4177 1488h8M4006 1181h8M4127 1193h8M4048 1377h8M4077 1219h8M4050 1675h8M3839 1478h8M3859 1240h8M4174 1597h8M4048 1242h8M4324 1644h8M4058 1684h8M4070 1097h8M4126 1570h8M4057 1382h8M4107 1320h8M3866 1339h8M4108 1423h8M3792 1524h8M3772 1138h8M4073 1630h8M4045 1092h8M3805 1250h8M4039 1217h8M4075 1365h8M4040 1324h8M4071 1188h8M3997 1439h8M3896 1392h8M4144 1524h8M3826 1218h8M4148 1179h8M4127 1502h8M4200 1497h8M3886 1246h8M4139 1171h8M4105 1429h8M4085 1452h8M4021 1395h8M4008 1175h8M4031 1218h8M3858 1487h8M4197 1448h8M4107 1509h8M4059 1093h8M3802 1451h8M4070 1403h8M3944 1142h8M4092 1459h8M3900 1159h8M4063 1458h8M4065 1457h8M4049 1409h8M3928 1096h8M4240 1273h8M3768 1639h8M3903 1401h8M3868 1358h8M3886 1256h8M3811 1559h8M3853 1452h8M3809 1567h8M4065 1658h8M4130 1551h8M4040 1206h8M4149 1628h8M3905 1401h8M3943 1140h8M3954 1151h8M3795 1541h8M4095 1473h8M4032 1220h8M4123 1523h8" stroke="#000" stroke-width="8" stroke-opacity="0.9"/>
<path transform="scale(.1)" d="M3971 1437l-17 0-13-4-18-14-12-15-15-43-9-77 2-30 25-68 25-26 25-7 22 6 15 15 10 15 13 40 11 67-4 48-17 47-20 31-10 9-13 6zM3951 1686l-30 0-27-5-54-42-9-13-19-72 2-8 20-22 60-61 20-9 60-13 77 22 65 53 7 8 1 7-83 148-10 5-80 2z" fill="none" stroke="#555" stroke-width="8" stroke-linejoin="round"/>
<path transform="scale(.1)" d="M3966 1427l-12 1-10-4-19-20-18-48-12-85 4-22 25-63 17-19 15-5 15 1 13 7 20 24 14 40 7 67-2 38-18 52-14 21-25 15zM4031 1676l-85 0-45-6-42-26-15-15-4-10 1-23-15-25-3-17 41-49 37-36 40-13 25-4 58 10 21 9 46 34 20 19 3 10-5 12-29 45-39 75-10 10z" fill="none" stroke="#444" stroke-width="6" stroke-linejoin="round"/>
<path transform="scale(.1)" d="M3961 1419l-15-3-11-15-16-50-3-35-8-20-5-30 6-20 16-25 7-32 9-13 13-6 27 11 13 12 16 38 5 30-2 25 2 43-16 55-14 22-24 13zM4029 1669l-10 1-25-6-52 2-41-8-37-20-10-9-4-10 2-28-16-24-1-8 16-17 21-31 34-31 37-16 16-4 30 8 30 3 17 7 25 20 30 17 12 11 2 8-3 10-58 82-6 30-9 13z" fill="none" stroke="#555" stroke-width="6" stroke-linejoin="round"/>
<path transform="scale(.1)" d="M3961 1412l-12-4-8-12-14-47-2-38-13-45 4-17 17-28 7-30 14-11 22 8 11 8 18 40 3 20-6 30 4 40-5 25-16 43-12 12-12 6zM4024 1659l-16-5 3-10-2-3-28 13-32 3-14-3 6-15 18-13-33-30-15-54-14 7-21 23-7-1-6-7 0-25 13-18 20-18 10-5 10-12 30-16 15-2 12 3 8 18 16 17 13 23 9-4 5-11 0-18-9-12 4-1 18 8 24 38 5-1 8-10 15 5 7 8-5 15-25 34-15 14-8-13-17-10-12-2-10 6-2 14 15 20 7 22 5 5 0 15-5 8zM3886 1639l-22-12-4-8 1-8 18-6 13 4 2 10-8 20z" fill="none" stroke="#5a5a5a" stroke-width="6" stroke-linejoin="round"/>
<path transform="scale(.1)" d="M3959 1404l-12-10-13-43-2-42-11-48 26-62 12-8 15 4 9 9 16 35 3 17-9 28 5 37-5 28-19 45-8 8-7 2zM3976 1621l-10 0-12-7-20-17-8-16-8-50 13-25 13-9 15 1 22 13 6 8 5 15 5 27-2 28-9 24-10 8zM4054 1562l-15-3-5-8 2-5 5-1 8 4 7 7-2 6z" fill="none" stroke="#666" stroke-width="6" stroke-linejoin="round"/>
<path transform="scale(.1)" d="M3964 1389l-5 2-5-6-13-36-9-88 19-52 5-7 8-2 14 11 17 43-13 30 8 32-2 25-24 48zM3976 1612l-10 1-10-5-17-14-8-14-8-46 8-18 13-11 12 0 15 7 15 22 3 42-5 24-8 12z" fill="none" stroke="#6a6a6a" stroke-width="6" stroke-linejoin="round"/>
<path transform="scale(.1)" d="M3951 1299l-5 0-2-4-1-44 11-31 10-9 7 5 5 9 9 31-9 16-10 1-7 5-8 21zM3964 1365l-8-1-8-15-2-34 8-8 22-2 5 14-1 20-5 12-11 14zM3969 1605l-10-3-13-9-11-19-6-40 7-15 10-7 10 0 13 7 13 20 1 37-7 21-7 8z" fill="none" stroke="#777" stroke-width="6" stroke-linejoin="round"/>
<path transform="scale(.1)" d="M3974 1256l-13-3-7-7 0-8 7-13 5 1 5 8 3 22zM3966 1595l-16-6-11-18-5-35 5-12 7-5 18 5 12 17 1 30-5 18-6 6z" fill="none" stroke="#777" stroke-width="6" stroke-linejoin="round"/>
<path transform="scale(.1)" d="M3961 1586l-13-10-7-20-1-20 9-11 13 6 8 18 0 25-4 9-5 3z" fill="none" stroke="#808080" stroke-width="6" stroke-linejoin="round"/>
<path transform="scale(.1)" d="M3961 1574l-7-2-6-13-2-18 5-7 8 5 5 12 1 15-4 8z" fill="none" stroke="#888" stroke-width="6" stroke-linejoin="round"/><ellipse cx="395.6" cy="156.0" rx="5.3" ry="7.4" transform="rotate(-15 395.6 156.0)" fill="#555" fill-opacity="0.45" stroke="#111" stroke-width="1.1"/><ellipse cx="396.1" cy="156.5" rx="3.1" ry="4.8" transform="rotate(-15 395.6 156.0)" fill="none" stroke="#222" stroke-width="0.7"/>
<path transform="scale(.1)" d="M4893 1562h8M4624 1312h8M4693 1435h8M4615 1194h8M4554 1653h8M4848 1187h8M4861 1551h8M4682 1440h8M4843 1454h8M4865 1405h8M4523 1224h8M4782 1466h8M4813 1624h8M4604 1216h8M4725 1261h8M4551 1227h8M4908 1097h8M4565 1663h8M4855 1556h8M4803 1480h8M4668 1138h8M4720 1200h8M4765 1115h8M4761 1170h8M4597 1473h8M4462 1293h8M4741 1217h8M4670 1139h8M4836 1590h8M4724 1317h8M4590 1336h8M4741 1306h8M4773 1433h8M4601 1674h8M4842 1514h8M4640 1459h8M4775 1328h8M4564 1502h8M4845 1481h8M4538 1633h8M4808 1450h8M4757 1178h8M4809 1662h8M4535 1549h8M4717 1190h8M4623 1243h8M4636 1382h8M4793 1656h8M4612 1192h8M4635 1287h8M4790 1219h8M4870 1551h8M4889 1537h8M4523 1624h8M4828 1191h8M4847 1515h8M4601 1468h8M4585 1484h8M4735 1235h8M4709 1128h8M4887 1531h8M4631 1339h8M4712 1423h8M4845 1624h8M4705 1406h8M4840 1651h8M4754 1271h8M4838 1188h8M4810 1337h8M4648 1443h8M4650 1408h8M4846 1474h8M4720 1341h8M4570 1154h8M4730 1345h8M4633 1313h8M4819 1356h8M4747 1309h8M4574 1519h8M4994 1373h8M4763 1340h8M4713 1200h8M4806 1416h8M4772 1459h8M4877 1522h8M4500 1530h8M4845 1579h8M4932 1505h8M4880 1120h8M4614 1291h8M4816 1090h8M4545 1617h8M4629 1260h8M4832 1328h8M4887 1579h8M4827 1597h8M4865 1463h8M4794 1452h8M4554 1661h8M4838 1473h8M4813 1452h8M4781 1277h8M4781 1451h8M4809 1675h8M4524 1640h8M4715 1439h8M4579 1487h8M4910 1555h8M4619 1361h8M4524 1542h8M4835 1589h8M4902 1147h8M4783 1336h8M4623 1216h8M4747 1166h8M4829 1487h8M4646 1459h8M4639 1403h8M4706 1168h8M4755 1431h8M4617 1451h8M4794 1465h8M4871 1261h8M4584 1507h8M4901 1575h8M4694 1138h8M4623 1354h8M4623 1250h8M4850 1515h8M4832 1238h8M4615 1154h8M4643 1456h8M4826 1494h8M4752 1371h8M4872 1581h8M4562 1495h8M4513 1678h8M4812 1673h8M5034 1566h8M4891 1359h8M4700 1103h8M4903 1532h8M4610 1245h8M4635 1208h8M4624 1419h8M4848 1451h8M4533 1641h8M4740 1371h8M4623 1344h8M4627 1454h8M4861 1623h8M4788 1188h8M4759 1350h8M4977 1437h8M4811 1630h8M4825 1430h8M4763 1282h8M4730 1193h8M4663 1153h8M4843 1132h8M4814 1288h8M4838 1421h8M4847 1174h8M4789 1655h8M4817 1427h8M4731 1104h8M4870 1608h8M4914 1479h8M4854 1600h8M4810 1244h8M4861 1560h8M4777 1285h8M4849 1277h8M4751 1258h8M4814 1491h8M4714 1164h8M4881 1550h8M4674 1435h8M4801 1655h8M4767 1270h8M4881 1434h8M4626 1318h8M4714 1411h8M4619 1189h8M4756 1213h8M4830 1257h8M4530 1360h8M4752 1418h8M4815 1485h8M4997 1613h8M4817 1618h8M4818 1649h8M4858 1203h8M4873 1351h8M4600 1264h8M4851 1341h8M4842 1412h8M4631 1339h8M4858 1568h8M4857 1526h8M4715 1091h8M4452 1479h8M4769 1454h8M4843 1484h8M4531 1307h8M4847 1431h8M4776 1260h8M4777 1455h8M4841 1379h8M4603 1140h8M4831 1488h8M4797 1439h8M4817 1144h8M4729 1213h8M4875 1508h8M4932 1610h8M4750 1376h8M4848 1599h8M4810 1635h8M4672 1115h8M4633 1301h8M4608 1177h8M4844 1581h8M4861 1559h8M4826 1455h8M4741 1443h8M4751 1255h8M4888 1553h8M4523 1617h8M4932 1485h8M4776 1297h8M4531 1553h8M4750 1286h8M4725 1360h8M4829 1133h8M4885 1168h8M4551 1298h8M4841 1075h8M4632 1443h8M4627 1230h8M4775 1246h8M4798 1264h8M4885 1553h8M4576 1648h8M4748 1454h8M4491 1479h8M4832 1590h8M4920 1626h8M4725 1272h8M4867 1367h8M4820 1611h8M4722 1098h8M4830 1466h8M4726 1136h8M4796 1101h8M4535 1265h8M4760 1318h8M4637 1386h8M4631 1220h8M4801 1316h8M4778 1266h8M4666 1147h8M4792 1255h8M4724 1327h8M4632 1227h8M4720 1194h8M4633 1307h8M4547 1607h8M4818 1415h8M4943 1526h8M4863 1580h8M4719 1168h8M4606 1438h8M4941 1653h8M4563 1483h8M4623 1333h8M4628 1341h8M4583 1432h8M4784 1677h8M4900 1618h8M4771 1214h8M4859 1580h8M4572 1335h8M4783 1365h8M4676 1132h8M4868 1363h8M4537 1593h8M4538 1644h8M4771 1345h8M4952 1609h8M4831 1219h8M4829 1626h8M4494 1607h8M4789 1309h8M4594 1152h8M4531 1592h8M4490 1635h8M4886 1434h8M4900 1567h8M4813 1474h8M4883 1573h8M4726 1266h8M4681 1144h8M4707 1167h8M4858 1601h8M4752 1087h8M4890 1584h8M4815 1618h8M4553 1637h8M4716 1376h8M4759 1180h8M4847 1585h8M4624 1303h8M4623 1265h8M4631 1129h8M4876 1308h8M4536 1223h8M4649 1406h8M4453 1537h8M4834 1303h8M4760 1393h8M4867 1553h8M4625 1256h8M4879 1206h8M4747 1456h8M4831 1183h8M4543 1544h8M4542 1634h8M4911 1481h8M4790 1682h8M4803 1475h8M4684 1433h8M4612 1279h8M4526 1598h8M4839 1378h8M4719 1183h8M4754 1323h8M4679 1434h8M4898 1523h8M4644 1114h8M4580 1200h8M4681 1436h8M4785 1176h8M4818 1484h8M4823 1367h8M4896 1611h8M4621 1434h8M4918 1579h8M4566 1527h8M4557 1461h8M4859 1681h8M4719 1423h8M4823 1178h8M4691 1435h8M4893 1585h8M4599 1323h8M4543 1491h8M4764 1233h8M4842 1182h8M4965 1401h8M4544 1587h8M4626 1324h8M4544 1483h8M4643 1438h8M4838 1596h8M4736 1438h8M4735 1434h8M4842 1678h8M4566 1642h8M4783 1683h8M4731 1274h8M4719 1173h8M4825 1630h8M4620 1245h8M4832 1593h8M4732 1315h8M4588 1282h8M4729 1406h8M4673 1127h8M4858 1557h8M4789 1667h8M4826 1639h8M4832 1488h8M4782 1226h8M4829 1616h8M4705 1142h8M4735 1184h8M4762 1303h8M4556 1460h8M4763 1151h8M4880 1562h8M4764 1172h8M4770 1238h8M4717 1418h8M4702 1165h8M4853 1263h8M4820 1194h8M4848 1372h8M4716 1172h8M4849 1148h8M4750 1282h8M4839 1439h8M4650 1451h8M4620 1251h8M4784 1372h8M4449 1544h8M4807 1481h8M4886 1577h8M4863 1495h8M4863 1686h8M4705 1164h8M4854 1474h8M4870 1564h8M4538 1324h8M4770 1242h8M4600 1686h8M4805 1208h8M4734 1181h8M4763 1274h8M4796 1363h8M4592 1446h8M4773 1455h8M4783 1429h8M4851 1566h8M4726 1292h8M4875 1635h8M4888 1557h8M4765 1374h8M4626 1147h8M4851 1585h8M4894 1566h8M4745 1438h8M4732 1282h8M4868 1522h8M4651 1157h8M4829 1606h8M4820 1604h8M4796 1308h8M4728 1325h8M4892 1389h8M4737 1114h8M4793 1274h8M4853 1610h8M4725 1328h8M4840 1330h8M4878 1565h8M4560 1501h8M4733 1378h8M4920 1574h8M4641 1451h8M4681 1448h8M4842 1514h8M4782 1686h8M4787 1237h8M4890 1584h8M4729 1366h8M4846 1383h8M4667 1440h8M4737 1347h8M4819 1433h8M4590 1447h8M5034 1452h8M4945 1670h8M4707 1133h8M4863 1557h8M4863 1561h8M4644 1175h8M4663 1444h8M4805 1476h8M4858 1177h8M4812 1285h8M4611 1196h8M4934 1473h8M4754 1296h8M4875 1529h8M4832 1503h8M4786 1177h8M4874 1294h8M4735 1245h8M4552 1534h8M4700 1440h8M4766 1256h8M4849 1580h8M4864 1546h8M4899 1277h8M4832 1226h8M4810 1362h8M4823 1216h8M4819 1637h8M4835 1392h8M4879 1382h8M4755 1198h8M4698 1122h8M4790 1230h8M4836 1588h8M4499 1643h8M4841 1608h8M4649 1406h8M4600 1677h8M4723 1321h8M4558 1502h8M5005 1505h8M4732 1348h8M4787 1215h8M4900 1426h8M4691 1438h8M4491 1428h8M4834 1503h8M4846 1267h8M4728 1338h8M4677 1146h8M4737 1306h8M4723 1406h8M4572 1380h8M4738 1203h8M4844 1244h8M4779 1294h8M4733 1272h8M4621 1451h8M4737 1406h8M4781 1675h8M4605 1319h8M4874 1584h8M4834 1589h8M4774 1461h8M4631 1213h8" stroke="#000" stroke-width="8" stroke-opacity="0.9"/>
<path transform="scale(.1)" d="M4681 1429l-10-1-10-9-19-43-8-47-3-78 16-75 14-24 15-10 10 3 10 9 16 37 8 38 4 82-5 35-13 53-10 20-15 10zM4724 1686l-33 1-62-4-15-7-54-47-16-68 4-15 71-82 82-25 80 23 76 62 6 10-14 30-40 52-38 64-10 4-37 2z" fill="none" stroke="#555" stroke-width="8" stroke-linejoin="round"/>
<path transform="scale(.1)" d="M4681 1417l-5-1-7-7-19-40-8-45 1-38-3-30 6-42 13-43 9-15 8-4 8 3 5 8 22 55 5 93-10 58-17 40-8 8zM4696 1676l-65-5-17-9-47-43-10-28-5-30 5-12 27-23 13-25 27-30 17-8 60-13 78 19 42 41 28 17 4 9-18 33-59 74-12 27-13 5-55 1z" fill="none" stroke="#444" stroke-width="6" stroke-linejoin="round"/>
<path transform="scale(.1)" d="M4679 1397l-10-6-9-17-11-55 6-103 16-43 5-5 13 19 15 36 2 13-4 38 4 40-8 45-7 21-12 17zM4751 1664l-47-5-30 6-40-5-15-9-48-44-8-23 2-28 31-21 9-31 26-25 18-7 52-10 60 10 17 7 34 37 29 18-1 10-22 35-47 56-12 24-8 5z" fill="none" stroke="#555" stroke-width="6" stroke-linejoin="round"/>
<path transform="scale(.1)" d="M4679 1382l-6-1-6-10-10-52 10-48-2-22 3-33 3-11 5-4 19 28 3 10-9 32 6 48-7 27-1 23-8 13zM4749 1654l-12 0-26-28-15 1-12-3-25-18-25 16-10 2-10-5-13-15-12 4-11-9-6-15 4-20 3-1 22 29 19-23 11-4 10 2-2-19-11-7-16-22 3-13 9-11 25-13 40-10 12 1 18 13 7-8 25 1 21 7 34 37 19 13 1 8-16 30-16 13-5-1-5-12-13-11-27-3-16 54 31-6 18 1-4 12-24 33z" fill="none" stroke="#5a5a5a" stroke-width="6" stroke-linejoin="round"/>
<path transform="scale(.1)" d="M4681 1246l-3-5 3-3 0 8zM4676 1338l-6-7-4-12 5-25 5-8 7 8 4 20-4 15-7 9zM4704 1622l-24-6-24-22-6-15-9-47-9-16 0-7 4-5 40-20 18 2 24 18 12 15 9 25-1 15-17 50-7 9-10 4z" fill="none" stroke="#666" stroke-width="6" stroke-linejoin="round"/>
<path transform="scale(.1)" d="M4699 1616l-20-7-16-18-17-62 1-13 7-10 14-12 13-5 15 3 20 17 9 12 8 23-1 15-16 45-7 9-10 3z" fill="none" stroke="#6a6a6a" stroke-width="6" stroke-linejoin="round"/>
<path transform="scale(.1)" d="M4701 1609l-17-4-15-16-17-60 1-10 5-10 11-10 12-5 13 2 17 15 9 13 7 20-1 15-12 35-5 10-8 5z" fill="none" stroke="#777" stroke-width="6" stroke-linejoin="round"/>
<path transform="scale(.1)" d="M4699 1602l-13-4-12-14-15-53 3-17 9-10 10-5 13 3 12 11 9 13 5 18 0 15-9 27-5 10-7 6z" fill="none" stroke="#777" stroke-width="6" stroke-linejoin="round"/>
<path transform="scale(.1)" d="M4701 1591l-7 2-8-4-14-30-5-35 4-10 10-7 10 1 10 8 12 25 0 23-12 27z" fill="none" stroke="#808080" stroke-width="6" stroke-linejoin="round"/>
<path transform="scale(.1)" d="M4696 1584l-11-8-8-22-2-28 9-11 7 2 7 7 8 22 0 23-10 15z" fill="none" stroke="#888" stroke-width="6" stroke-linejoin="round"/>
<path transform="scale(.1)" d="M4696 1572l-7-3-5-10-1-20 3-9 7 4 6 15 1 15-4 8z" fill="none" stroke="#888" stroke-width="6" stroke-linejoin="round"/><ellipse cx="469.0" cy="155.5" rx="6.0" ry="7.8" transform="rotate(-10 469.0 155.5)" fill="#555" fill-opacity="0.45" stroke="#111" stroke-width="1.1"/><ellipse cx="469.5" cy="156.0" rx="3.5" ry="5.1" transform="rotate(-10 469.0 155.5)" fill="none" stroke="#222" stroke-width="0.7"/>
<text x="57.50" y="39.90" font-size="8.5" text-anchor="start" fill="#000" stroke="#000" stroke-width="0.15" >6.2</text>
<text x="117.00" y="39.90" font-size="8.5" text-anchor="end" fill="#000" stroke="#000" stroke-width="0.15" >0.1</text>
<text x="117.20" y="92.00" font-size="8.5" text-anchor="end" fill="#000" stroke="#000" stroke-width="0.15" >1.5</text>
<rect x="57.60" y="84.60" width="15.74" height="8.8" fill="#000"/>
<text x="57.80" y="91.70" font-size="8.5" text-anchor="start" fill="#fff" stroke="#fff" stroke-width="0.2" >92.2</text>
<text x="134.50" y="39.90" font-size="8.5" text-anchor="start" fill="#000" stroke="#000" stroke-width="0.15" >47.5</text>
<text x="194.00" y="39.90" font-size="8.5" text-anchor="end" fill="#000" stroke="#000" stroke-width="0.15" >15.1</text>
<text x="194.20" y="92.00" font-size="8.5" text-anchor="end" fill="#000" stroke="#000" stroke-width="0.15" >6.1</text>
<rect x="134.60" y="84.60" width="15.74" height="8.8" fill="#000"/>
<text x="134.80" y="91.70" font-size="8.5" text-anchor="start" fill="#fff" stroke="#fff" stroke-width="0.2" >31.3</text>
<text x="209.40" y="39.90" font-size="8.5" text-anchor="start" fill="#000" stroke="#000" stroke-width="0.15" >42.6</text>
<text x="269.00" y="39.90" font-size="8.5" text-anchor="end" fill="#000" stroke="#000" stroke-width="0.15" >15.2</text>
<text x="269.20" y="92.00" font-size="8.5" text-anchor="end" fill="#000" stroke="#000" stroke-width="0.15" >6.7</text>
<rect x="209.50" y="84.60" width="15.74" height="8.8" fill="#000"/>
<text x="209.70" y="91.70" font-size="8.5" text-anchor="start" fill="#fff" stroke="#fff" stroke-width="0.2" >35.6</text>
<text x="295.40" y="39.90" font-size="8.5" text-anchor="start" fill="#000" stroke="#000" stroke-width="0.15" >43.8</text>
<text x="355.00" y="39.90" font-size="8.5" text-anchor="end" fill="#000" stroke="#000" stroke-width="0.15" >5.0</text>
<text x="355.20" y="92.00" font-size="8.5" text-anchor="end" fill="#000" stroke="#000" stroke-width="0.15" >4.0</text>
<rect x="295.50" y="84.60" width="15.74" height="8.8" fill="#000"/>
<text x="295.70" y="91.70" font-size="8.5" text-anchor="start" fill="#fff" stroke="#fff" stroke-width="0.2" >47.1</text>
<text x="371.00" y="39.90" font-size="8.5" text-anchor="start" fill="#000" stroke="#000" stroke-width="0.15" >42.8</text>
<text x="431.00" y="39.90" font-size="8.5" text-anchor="end" fill="#000" stroke="#000" stroke-width="0.15" >22.0</text>
<text x="431.20" y="92.00" font-size="8.5" text-anchor="end" fill="#000" stroke="#000" stroke-width="0.15" >7.0</text>
<rect x="371.10" y="84.60" width="15.74" height="8.8" fill="#000"/>
<text x="371.30" y="91.70" font-size="8.5" text-anchor="start" fill="#fff" stroke="#fff" stroke-width="0.2" >28.3</text>
<text x="445.40" y="39.90" font-size="8.5" text-anchor="start" fill="#000" stroke="#000" stroke-width="0.15" >49.0</text>
<text x="505.00" y="39.90" font-size="8.5" text-anchor="end" fill="#000" stroke="#000" stroke-width="0.15" >10.0</text>
<text x="505.20" y="92.00" font-size="8.5" text-anchor="end" fill="#000" stroke="#000" stroke-width="0.15" >7.0</text>
<rect x="445.50" y="84.60" width="15.74" height="8.8" fill="#000"/>
<text x="445.70" y="91.70" font-size="8.5" text-anchor="start" fill="#fff" stroke="#fff" stroke-width="0.2" >34.0</text>
<text x="59.50" y="114.40" font-size="8.5" text-anchor="start" fill="#000" stroke="#000" stroke-width="0.15" >0.3</text>
<text x="118.90" y="114.40" font-size="8.5" text-anchor="end" fill="#000" stroke="#000" stroke-width="0.15" >0.0</text>
<text x="119.10" y="166.50" font-size="8.5" text-anchor="end" fill="#000" stroke="#000" stroke-width="0.15" >0.1</text>
<rect x="59.60" y="159.10" width="13.38" height="8.8" fill="#000"/>
<text x="59.80" y="166.20" font-size="8.5" text-anchor="start" fill="#fff" stroke="#fff" stroke-width="0.2" >100</text>
<text x="133.50" y="114.40" font-size="8.5" text-anchor="start" fill="#000" stroke="#000" stroke-width="0.15" >0.1</text>
<text x="194.00" y="114.40" font-size="8.5" text-anchor="end" fill="#000" stroke="#000" stroke-width="0.15" >0.0</text>
<text x="194.20" y="166.50" font-size="8.5" text-anchor="end" fill="#000" stroke="#000" stroke-width="0.15" >0.0</text>
<rect x="133.60" y="159.10" width="15.74" height="8.8" fill="#000"/>
<text x="133.80" y="166.20" font-size="8.5" text-anchor="start" fill="#fff" stroke="#fff" stroke-width="0.2" >99.8</text>
<text x="208.50" y="114.40" font-size="8.5" text-anchor="start" fill="#000" stroke="#000" stroke-width="0.15" >0.2</text>
<text x="267.90" y="114.40" font-size="8.5" text-anchor="end" fill="#000" stroke="#000" stroke-width="0.15" >0.0</text>
<text x="268.10" y="166.50" font-size="8.5" text-anchor="end" fill="#000" stroke="#000" stroke-width="0.15" >0.0</text>
<rect x="208.60" y="159.10" width="15.74" height="8.8" fill="#000"/>
<text x="208.80" y="166.20" font-size="8.5" text-anchor="start" fill="#fff" stroke="#fff" stroke-width="0.2" >99.8</text>
<text x="296.00" y="114.40" font-size="8.5" text-anchor="start" fill="#000" stroke="#000" stroke-width="0.15" >27.6</text>
<text x="355.40" y="114.40" font-size="8.5" text-anchor="end" fill="#000" stroke="#000" stroke-width="0.15" >1.5</text>
<text x="355.60" y="166.50" font-size="8.5" text-anchor="end" fill="#000" stroke="#000" stroke-width="0.15" >1.8</text>
<rect x="296.10" y="159.10" width="15.74" height="8.8" fill="#000"/>
<text x="296.30" y="166.20" font-size="8.5" text-anchor="start" fill="#fff" stroke="#fff" stroke-width="0.2" >69.1</text>
<text x="372.50" y="114.40" font-size="8.5" text-anchor="start" fill="#000" stroke="#000" stroke-width="0.15" >29.3</text>
<text x="432.30" y="114.40" font-size="8.5" text-anchor="end" fill="#000" stroke="#000" stroke-width="0.15" >1.6</text>
<text x="432.50" y="166.50" font-size="8.5" text-anchor="end" fill="#000" stroke="#000" stroke-width="0.15" >2.1</text>
<rect x="372.60" y="159.10" width="15.74" height="8.8" fill="#000"/>
<text x="372.80" y="166.20" font-size="8.5" text-anchor="start" fill="#fff" stroke="#fff" stroke-width="0.2" >67.0</text>
<text x="445.00" y="114.40" font-size="8.5" text-anchor="start" fill="#000" stroke="#000" stroke-width="0.15" >8.0</text>
<text x="504.90" y="114.40" font-size="8.5" text-anchor="end" fill="#000" stroke="#000" stroke-width="0.15" >0.7</text>
<text x="505.10" y="166.50" font-size="8.5" text-anchor="end" fill="#000" stroke="#000" stroke-width="0.15" >2.1</text>
<rect x="445.10" y="159.10" width="15.74" height="8.8" fill="#000"/>
<text x="445.30" y="166.20" font-size="8.5" text-anchor="start" fill="#fff" stroke="#fff" stroke-width="0.2" >89.2</text>
<text x="0.00" y="212.50" font-size="11.5" text-anchor="start" font-weight="bold" fill="#000" stroke="#000" stroke-width="0.2" >B</text>
<line x1="43.50" y1="216.00" x2="43.50" y2="293.00" stroke="#333" stroke-width="1" />
<line x1="41.30" y1="216.50" x2="43.50" y2="216.50" stroke="#333" stroke-width="1" />
<text x="40.30" y="219.50" font-size="8.5" text-anchor="end" fill="#000" stroke="#000" stroke-width="0.2" >2.0</text>
<line x1="41.30" y1="235.50" x2="43.50" y2="235.50" stroke="#333" stroke-width="1" />
<text x="40.30" y="238.50" font-size="8.5" text-anchor="end" fill="#000" stroke="#000" stroke-width="0.2" >1.5</text>
<line x1="41.30" y1="254.30" x2="43.50" y2="254.30" stroke="#333" stroke-width="1" />
<text x="40.30" y="257.30" font-size="8.5" text-anchor="end" fill="#000" stroke="#000" stroke-width="0.2" >1.0</text>
<line x1="41.30" y1="273.50" x2="43.50" y2="273.50" stroke="#333" stroke-width="1" />
<text x="40.30" y="276.50" font-size="8.5" text-anchor="end" fill="#000" stroke="#000" stroke-width="0.2" >0.5</text>
<line x1="41.30" y1="292.50" x2="43.50" y2="292.50" stroke="#333" stroke-width="1" />
<text x="40.30" y="295.50" font-size="8.5" text-anchor="end" fill="#000" stroke="#000" stroke-width="0.2" >0.0</text>
<line x1="43.00" y1="292.70" x2="117.50" y2="292.70" stroke="#333" stroke-width="1" />
<line x1="62.50" y1="292.70" x2="62.50" y2="294.90" stroke="#333" stroke-width="1" />
<line x1="101.00" y1="292.70" x2="101.00" y2="294.90" stroke="#333" stroke-width="1" />
<text x="62.50" y="303.20" font-size="8.5" text-anchor="middle" fill="#000" stroke="#000" stroke-width="0.2" >Control</text>
<text x="101.00" y="303.20" font-size="8.5" text-anchor="middle" fill="#000" stroke="#000" stroke-width="0.2" >IL12Rβ1</text>
<text x="0.00" y="0.00" font-size="9.5" text-anchor="middle" fill="#000" stroke="#000" stroke-width="0.2" transform="translate(21.5 249.0) rotate(-90)">IL-21 (ng/ml)</text>
<text x="84.00" y="216.70" font-size="9.6" text-anchor="middle" fill="#000" stroke="#000" stroke-width="0.2" >p&lt;0.0001</text>
<g fill="#1818dc"><circle cx="65.1" cy="234.3" r="1.7"/><circle cx="60.4" cy="238.2" r="1.7"/><circle cx="60.4" cy="241.4" r="1.7"/><circle cx="64.8" cy="245.8" r="1.7"/><circle cx="65.1" cy="252.4" r="1.7"/><circle cx="60.4" cy="255.5" r="1.7"/><circle cx="60.4" cy="260.5" r="1.7"/><circle cx="64.8" cy="262.6" r="1.7"/><circle cx="57.8" cy="269.7" r="1.7"/><circle cx="67.2" cy="269.7" r="1.7"/><circle cx="62.5" cy="271.4" r="1.7"/><circle cx="52.1" cy="272.8" r="1.7"/><circle cx="72.9" cy="272.8" r="1.7"/><circle cx="55.4" cy="274.8" r="1.7"/><circle cx="69.6" cy="274.4" r="1.7"/><circle cx="59.1" cy="276.5" r="1.7"/><circle cx="62.5" cy="277.1" r="1.7"/><circle cx="66.2" cy="276.5" r="1.7"/><circle cx="51.0" cy="278.2" r="1.7"/><circle cx="73.9" cy="277.8" r="1.7"/><circle cx="57.9" cy="290.3" r="1.7"/><circle cx="60.2" cy="291.0" r="1.7"/><circle cx="62.5" cy="291.6" r="1.7"/><circle cx="64.8" cy="291.0" r="1.7"/><circle cx="67.1" cy="290.3" r="1.7"/><circle cx="53.3" cy="285.6" r="1.7"/><circle cx="55.6" cy="286.3" r="1.7"/><circle cx="57.9" cy="286.9" r="1.7"/><circle cx="60.2" cy="287.6" r="1.7"/><circle cx="62.5" cy="288.2" r="1.7"/><circle cx="64.8" cy="287.6" r="1.7"/><circle cx="67.1" cy="286.9" r="1.7"/><circle cx="69.4" cy="286.3" r="1.7"/><circle cx="71.7" cy="285.6" r="1.7"/><circle cx="53.3" cy="282.2" r="1.7"/><circle cx="55.6" cy="282.9" r="1.7"/><circle cx="57.9" cy="283.5" r="1.7"/><circle cx="60.2" cy="284.2" r="1.7"/><circle cx="62.5" cy="284.8" r="1.7"/><circle cx="64.8" cy="284.2" r="1.7"/><circle cx="67.1" cy="283.5" r="1.7"/><circle cx="69.4" cy="282.9" r="1.7"/><circle cx="71.7" cy="282.2" r="1.7"/><circle cx="51.0" cy="278.2" r="1.7"/><circle cx="53.3" cy="278.8" r="1.7"/><circle cx="55.6" cy="279.5" r="1.7"/><circle cx="57.9" cy="280.1" r="1.7"/><circle cx="60.2" cy="280.8" r="1.7"/><circle cx="62.5" cy="281.4" r="1.7"/><circle cx="64.8" cy="280.8" r="1.7"/><circle cx="67.1" cy="280.1" r="1.7"/><circle cx="69.4" cy="279.5" r="1.7"/><circle cx="71.7" cy="278.8" r="1.7"/><circle cx="74.0" cy="278.2" r="1.7"/></g>
<g fill="#ee7424"><circle cx="89.0" cy="291.3" r="1.6"/><circle cx="92.0" cy="291.3" r="1.6"/><circle cx="95.0" cy="291.3" r="1.6"/><circle cx="98.0" cy="291.3" r="1.6"/><circle cx="101.0" cy="291.3" r="1.6"/><circle cx="104.0" cy="291.3" r="1.6"/><circle cx="107.0" cy="291.3" r="1.6"/><circle cx="110.0" cy="291.3" r="1.6"/><circle cx="113.0" cy="291.3" r="1.6"/><circle cx="101.0" cy="287.6" r="1.6"/></g>
<line x1="49.40" y1="279.50" x2="75.60" y2="279.50" stroke="#000" stroke-width="1.2" />
<line x1="88.00" y1="291.60" x2="114.00" y2="291.60" stroke="#000" stroke-width="1.2" />
<line x1="156.50" y1="215.70" x2="156.50" y2="292.30" stroke="#333" stroke-width="1" />
<line x1="154.30" y1="216.20" x2="156.50" y2="216.20" stroke="#333" stroke-width="1" />
<text x="154.50" y="219.20" font-size="8.5" text-anchor="end" fill="#000" stroke="#000" stroke-width="0.2" >6</text>
<line x1="154.30" y1="241.70" x2="156.50" y2="241.70" stroke="#333" stroke-width="1" />
<text x="154.50" y="244.70" font-size="8.5" text-anchor="end" fill="#000" stroke="#000" stroke-width="0.2" >4</text>
<line x1="154.30" y1="267.00" x2="156.50" y2="267.00" stroke="#333" stroke-width="1" />
<text x="154.50" y="270.00" font-size="8.5" text-anchor="end" fill="#000" stroke="#000" stroke-width="0.2" >2</text>
<line x1="154.30" y1="291.80" x2="156.50" y2="291.80" stroke="#333" stroke-width="1" />
<text x="154.50" y="294.80" font-size="8.5" text-anchor="end" fill="#000" stroke="#000" stroke-width="0.2" >0</text>
<line x1="156.00" y1="292.00" x2="230.00" y2="292.00" stroke="#333" stroke-width="1" />
<line x1="176.00" y1="292.00" x2="176.00" y2="294.20" stroke="#333" stroke-width="1" />
<line x1="214.50" y1="292.00" x2="214.50" y2="294.20" stroke="#333" stroke-width="1" />
<text x="176.00" y="302.50" font-size="8.5" text-anchor="middle" fill="#000" stroke="#000" stroke-width="0.2" >Control</text>
<text x="214.50" y="302.50" font-size="8.5" text-anchor="middle" fill="#000" stroke="#000" stroke-width="0.2" >IL12Rβ1</text>
<text x="0.00" y="0.00" font-size="9.5" text-anchor="middle" fill="#000" stroke="#000" stroke-width="0.2" transform="translate(140.5 248.5) rotate(-90)">IL-17A (ng/ml)</text>
<text x="193.50" y="216.40" font-size="9.6" text-anchor="middle" fill="#000" stroke="#000" stroke-width="0.2" >p&lt;0.0001</text>
<g fill="#1818dc"><circle cx="176.1" cy="230.2" r="1.7"/><circle cx="176.1" cy="256.1" r="1.7"/><circle cx="166.6" cy="259.8" r="1.7"/><circle cx="185.4" cy="257.3" r="1.7"/><circle cx="171.3" cy="261.3" r="1.7"/><circle cx="176.1" cy="261.3" r="1.7"/><circle cx="180.5" cy="260.6" r="1.7"/><circle cx="169.1" cy="265.7" r="1.7"/><circle cx="182.9" cy="264.7" r="1.7"/><circle cx="173.6" cy="268.7" r="1.7"/><circle cx="178.7" cy="268.7" r="1.7"/><circle cx="164.2" cy="270.8" r="1.7"/><circle cx="167.2" cy="271.1" r="1.7"/><circle cx="170.2" cy="271.4" r="1.7"/><circle cx="173.2" cy="271.7" r="1.7"/><circle cx="176.2" cy="272.0" r="1.7"/><circle cx="179.2" cy="271.7" r="1.7"/><circle cx="182.2" cy="271.4" r="1.7"/><circle cx="185.2" cy="271.1" r="1.7"/><circle cx="188.2" cy="270.8" r="1.7"/><circle cx="171.6" cy="288.2" r="1.7"/><circle cx="173.9" cy="288.9" r="1.7"/><circle cx="176.2" cy="289.5" r="1.7"/><circle cx="178.5" cy="288.9" r="1.7"/><circle cx="180.8" cy="288.2" r="1.7"/><circle cx="169.3" cy="284.2" r="1.7"/><circle cx="171.6" cy="284.8" r="1.7"/><circle cx="173.9" cy="285.5" r="1.7"/><circle cx="176.2" cy="286.1" r="1.7"/><circle cx="178.5" cy="285.5" r="1.7"/><circle cx="180.8" cy="284.8" r="1.7"/><circle cx="183.1" cy="284.2" r="1.7"/><circle cx="167.0" cy="280.1" r="1.7"/><circle cx="169.3" cy="280.8" r="1.7"/><circle cx="171.6" cy="281.4" r="1.7"/><circle cx="173.9" cy="282.1" r="1.7"/><circle cx="176.2" cy="282.7" r="1.7"/><circle cx="178.5" cy="282.1" r="1.7"/><circle cx="180.8" cy="281.4" r="1.7"/><circle cx="183.1" cy="280.8" r="1.7"/><circle cx="185.4" cy="280.1" r="1.7"/><circle cx="164.7" cy="276.1" r="1.7"/><circle cx="167.0" cy="276.7" r="1.7"/><circle cx="169.3" cy="277.4" r="1.7"/><circle cx="171.6" cy="278.0" r="1.7"/><circle cx="173.9" cy="278.7" r="1.7"/><circle cx="176.2" cy="279.3" r="1.7"/><circle cx="178.5" cy="278.7" r="1.7"/><circle cx="180.8" cy="278.0" r="1.7"/><circle cx="183.1" cy="277.4" r="1.7"/><circle cx="185.4" cy="276.7" r="1.7"/><circle cx="187.7" cy="276.1" r="1.7"/><circle cx="164.7" cy="272.7" r="1.7"/><circle cx="167.0" cy="273.3" r="1.7"/><circle cx="169.3" cy="274.0" r="1.7"/><circle cx="171.6" cy="274.6" r="1.7"/><circle cx="173.9" cy="275.3" r="1.7"/><circle cx="176.2" cy="275.9" r="1.7"/><circle cx="178.5" cy="275.3" r="1.7"/><circle cx="180.8" cy="274.6" r="1.7"/><circle cx="183.1" cy="274.0" r="1.7"/><circle cx="185.4" cy="273.3" r="1.7"/><circle cx="187.7" cy="272.7" r="1.7"/></g>
<g fill="#ee7424"><circle cx="205.1" cy="283.5" r="1.6"/><circle cx="209.9" cy="285.0" r="1.6"/><circle cx="218.7" cy="284.0" r="1.6"/><circle cx="223.2" cy="283.2" r="1.6"/><circle cx="202.5" cy="287.3" r="1.6"/><circle cx="205.5" cy="287.6" r="1.6"/><circle cx="208.5" cy="287.9" r="1.6"/><circle cx="211.5" cy="288.2" r="1.6"/><circle cx="214.5" cy="288.5" r="1.6"/><circle cx="217.5" cy="288.2" r="1.6"/><circle cx="220.5" cy="287.9" r="1.6"/><circle cx="223.5" cy="287.6" r="1.6"/><circle cx="226.5" cy="287.3" r="1.6"/><circle cx="208.5" cy="289.7" r="1.6"/><circle cx="211.5" cy="290.0" r="1.6"/><circle cx="214.5" cy="290.3" r="1.6"/><circle cx="217.5" cy="290.0" r="1.6"/><circle cx="220.5" cy="289.7" r="1.6"/></g>
<line x1="163.00" y1="276.80" x2="189.00" y2="276.80" stroke="#000" stroke-width="1.2" />
<line x1="201.50" y1="288.00" x2="227.50" y2="288.00" stroke="#000" stroke-width="1.2" />
<line x1="272.50" y1="215.50" x2="272.50" y2="293.00" stroke="#333" stroke-width="1" />
<line x1="270.30" y1="216.00" x2="272.50" y2="216.00" stroke="#333" stroke-width="1" />
<text x="269.30" y="219.00" font-size="8.5" text-anchor="end" fill="#000" stroke="#000" stroke-width="0.2" >300</text>
<line x1="270.30" y1="241.50" x2="272.50" y2="241.50" stroke="#333" stroke-width="1" />
<text x="269.30" y="244.50" font-size="8.5" text-anchor="end" fill="#000" stroke="#000" stroke-width="0.2" >200</text>
<line x1="270.30" y1="267.00" x2="272.50" y2="267.00" stroke="#333" stroke-width="1" />
<text x="269.30" y="270.00" font-size="8.5" text-anchor="end" fill="#000" stroke="#000" stroke-width="0.2" >100</text>
<line x1="270.30" y1="292.50" x2="272.50" y2="292.50" stroke="#333" stroke-width="1" />
<text x="269.30" y="295.50" font-size="8.5" text-anchor="end" fill="#000" stroke="#000" stroke-width="0.2" >0</text>
<line x1="272.00" y1="292.60" x2="345.00" y2="292.60" stroke="#333" stroke-width="1" />
<line x1="291.50" y1="292.60" x2="291.50" y2="294.80" stroke="#333" stroke-width="1" />
<line x1="330.00" y1="292.60" x2="330.00" y2="294.80" stroke="#333" stroke-width="1" />
<text x="291.50" y="303.10" font-size="8.5" text-anchor="middle" fill="#000" stroke="#000" stroke-width="0.2" >Control</text>
<text x="330.00" y="303.10" font-size="8.5" text-anchor="middle" fill="#000" stroke="#000" stroke-width="0.2" >IL12Rβ1</text>
<text x="0.00" y="0.00" font-size="9.5" text-anchor="middle" fill="#000" stroke="#000" stroke-width="0.2" transform="translate(248.5 248.8) rotate(-90)">IFN-γ (ng/ml)</text>
<text x="307.50" y="216.20" font-size="9.6" text-anchor="middle" fill="#000" stroke="#000" stroke-width="0.2" >p&lt;0.0001</text>
<g fill="#1818dc"><circle cx="291.5" cy="223.1" r="1.7"/><circle cx="291.5" cy="235.3" r="1.7"/><circle cx="289.4" cy="256.3" r="1.7"/><circle cx="294.2" cy="259.7" r="1.7"/><circle cx="286.9" cy="264.0" r="1.7"/><circle cx="291.5" cy="268.4" r="1.7"/><circle cx="296.2" cy="267.7" r="1.7"/><circle cx="281.3" cy="273.6" r="1.7"/><circle cx="302.5" cy="272.8" r="1.7"/><circle cx="298.1" cy="274.0" r="1.7"/><circle cx="284.5" cy="276.2" r="1.7"/><circle cx="288.6" cy="277.6" r="1.7"/><circle cx="292.3" cy="277.2" r="1.7"/><circle cx="295.2" cy="276.5" r="1.7"/><circle cx="300.3" cy="279.1" r="1.7"/><circle cx="284.9" cy="289.7" r="1.7"/><circle cx="287.2" cy="290.3" r="1.7"/><circle cx="289.5" cy="291.0" r="1.7"/><circle cx="291.8" cy="291.6" r="1.7"/><circle cx="294.1" cy="291.0" r="1.7"/><circle cx="296.4" cy="290.3" r="1.7"/><circle cx="298.7" cy="289.7" r="1.7"/><circle cx="282.6" cy="285.6" r="1.7"/><circle cx="284.9" cy="286.3" r="1.7"/><circle cx="287.2" cy="286.9" r="1.7"/><circle cx="289.5" cy="287.6" r="1.7"/><circle cx="291.8" cy="288.2" r="1.7"/><circle cx="294.1" cy="287.6" r="1.7"/><circle cx="296.4" cy="286.9" r="1.7"/><circle cx="298.7" cy="286.3" r="1.7"/><circle cx="301.0" cy="285.6" r="1.7"/><circle cx="280.3" cy="281.6" r="1.7"/><circle cx="282.6" cy="282.2" r="1.7"/><circle cx="284.9" cy="282.9" r="1.7"/><circle cx="287.2" cy="283.5" r="1.7"/><circle cx="289.5" cy="284.2" r="1.7"/><circle cx="291.8" cy="284.8" r="1.7"/><circle cx="294.1" cy="284.2" r="1.7"/><circle cx="296.4" cy="283.5" r="1.7"/><circle cx="298.7" cy="282.9" r="1.7"/><circle cx="301.0" cy="282.2" r="1.7"/><circle cx="303.3" cy="281.6" r="1.7"/></g>
<g fill="#ee7424"><circle cx="318.0" cy="291.6" r="1.6"/><circle cx="321.0" cy="291.6" r="1.6"/><circle cx="324.0" cy="291.6" r="1.6"/><circle cx="327.0" cy="291.6" r="1.6"/><circle cx="330.0" cy="291.6" r="1.6"/><circle cx="333.0" cy="291.6" r="1.6"/><circle cx="336.0" cy="291.6" r="1.6"/><circle cx="339.0" cy="291.6" r="1.6"/><circle cx="342.0" cy="291.6" r="1.6"/></g>
<line x1="278.40" y1="281.60" x2="305.40" y2="281.60" stroke="#000" stroke-width="1.2" />
<line x1="317.00" y1="291.80" x2="343.00" y2="291.80" stroke="#000" stroke-width="1.2" />
<line x1="44.00" y1="323.25" x2="44.00" y2="402.50" stroke="#333" stroke-width="1" />
<line x1="41.80" y1="323.75" x2="44.00" y2="323.75" stroke="#333" stroke-width="1" />
<text x="42.00" y="326.75" font-size="8.5" text-anchor="end" fill="#000" stroke="#000" stroke-width="0.2" >15</text>
<line x1="41.80" y1="350.00" x2="44.00" y2="350.00" stroke="#333" stroke-width="1" />
<text x="42.00" y="353.00" font-size="8.5" text-anchor="end" fill="#000" stroke="#000" stroke-width="0.2" >10</text>
<line x1="41.80" y1="376.00" x2="44.00" y2="376.00" stroke="#333" stroke-width="1" />
<text x="42.00" y="379.00" font-size="8.5" text-anchor="end" fill="#000" stroke="#000" stroke-width="0.2" >5</text>
<line x1="41.80" y1="402.00" x2="44.00" y2="402.00" stroke="#333" stroke-width="1" />
<text x="42.00" y="405.00" font-size="8.5" text-anchor="end" fill="#000" stroke="#000" stroke-width="0.2" >0</text>
<line x1="43.50" y1="402.00" x2="120.00" y2="402.00" stroke="#333" stroke-width="1" />
<line x1="64.50" y1="402.00" x2="64.50" y2="404.20" stroke="#333" stroke-width="1" />
<line x1="103.50" y1="402.00" x2="103.50" y2="404.20" stroke="#333" stroke-width="1" />
<text x="64.50" y="412.50" font-size="8.5" text-anchor="middle" fill="#000" stroke="#000" stroke-width="0.2" >Control</text>
<text x="103.50" y="412.50" font-size="8.5" text-anchor="middle" fill="#000" stroke="#000" stroke-width="0.2" >IL12Rβ1</text>
<text x="0.00" y="0.00" font-size="9.5" text-anchor="middle" fill="#000" stroke="#000" stroke-width="0.2" transform="translate(21.5 357.4) rotate(-90)">IL-2 (ng/ml)</text>
<text x="86.50" y="323.95" font-size="9.6" text-anchor="middle" fill="#000" stroke="#000" stroke-width="0.2" >n.s</text>
<g fill="#1818dc"><circle cx="64.3" cy="348.3" r="1.7"/><circle cx="64.3" cy="353.4" r="1.7"/><circle cx="66.8" cy="363.3" r="1.7"/><circle cx="61.8" cy="366.3" r="1.7"/><circle cx="57.4" cy="371.4" r="1.7"/><circle cx="61.8" cy="373.6" r="1.7"/><circle cx="66.8" cy="373.6" r="1.7"/><circle cx="71.6" cy="372.8" r="1.7"/><circle cx="53.3" cy="375.0" r="1.7"/><circle cx="75.2" cy="375.8" r="1.7"/><circle cx="52.5" cy="374.6" r="1.7"/><circle cx="55.5" cy="374.9" r="1.7"/><circle cx="58.5" cy="375.3" r="1.7"/><circle cx="61.5" cy="375.6" r="1.7"/><circle cx="64.5" cy="376.0" r="1.7"/><circle cx="67.5" cy="375.6" r="1.7"/><circle cx="70.5" cy="375.3" r="1.7"/><circle cx="73.5" cy="374.9" r="1.7"/><circle cx="76.5" cy="374.6" r="1.7"/><circle cx="52.5" cy="378.1" r="1.7"/><circle cx="55.5" cy="378.4" r="1.7"/><circle cx="58.5" cy="378.8" r="1.7"/><circle cx="61.5" cy="379.1" r="1.7"/><circle cx="64.5" cy="379.5" r="1.7"/><circle cx="67.5" cy="379.1" r="1.7"/><circle cx="70.5" cy="378.8" r="1.7"/><circle cx="73.5" cy="378.4" r="1.7"/><circle cx="76.5" cy="378.1" r="1.7"/><circle cx="59.9" cy="399.2" r="1.7"/><circle cx="62.2" cy="399.9" r="1.7"/><circle cx="64.5" cy="400.5" r="1.7"/><circle cx="66.8" cy="399.9" r="1.7"/><circle cx="69.1" cy="399.2" r="1.7"/><circle cx="57.6" cy="395.2" r="1.7"/><circle cx="59.9" cy="395.8" r="1.7"/><circle cx="62.2" cy="396.5" r="1.7"/><circle cx="64.5" cy="397.1" r="1.7"/><circle cx="66.8" cy="396.5" r="1.7"/><circle cx="69.1" cy="395.8" r="1.7"/><circle cx="71.4" cy="395.2" r="1.7"/><circle cx="55.3" cy="391.1" r="1.7"/><circle cx="57.6" cy="391.8" r="1.7"/><circle cx="59.9" cy="392.4" r="1.7"/><circle cx="62.2" cy="393.1" r="1.7"/><circle cx="64.5" cy="393.7" r="1.7"/><circle cx="66.8" cy="393.1" r="1.7"/><circle cx="69.1" cy="392.4" r="1.7"/><circle cx="71.4" cy="391.8" r="1.7"/><circle cx="73.7" cy="391.1" r="1.7"/><circle cx="55.3" cy="387.7" r="1.7"/><circle cx="57.6" cy="388.4" r="1.7"/><circle cx="59.9" cy="389.0" r="1.7"/><circle cx="62.2" cy="389.7" r="1.7"/><circle cx="64.5" cy="390.3" r="1.7"/><circle cx="66.8" cy="389.7" r="1.7"/><circle cx="69.1" cy="389.0" r="1.7"/><circle cx="71.4" cy="388.4" r="1.7"/><circle cx="73.7" cy="387.7" r="1.7"/><circle cx="53.0" cy="383.7" r="1.7"/><circle cx="55.3" cy="384.3" r="1.7"/><circle cx="57.6" cy="385.0" r="1.7"/><circle cx="59.9" cy="385.6" r="1.7"/><circle cx="62.2" cy="386.3" r="1.7"/><circle cx="64.5" cy="386.9" r="1.7"/><circle cx="66.8" cy="386.3" r="1.7"/><circle cx="69.1" cy="385.6" r="1.7"/><circle cx="71.4" cy="385.0" r="1.7"/><circle cx="73.7" cy="384.3" r="1.7"/><circle cx="76.0" cy="383.7" r="1.7"/><circle cx="53.0" cy="380.3" r="1.7"/><circle cx="55.3" cy="380.9" r="1.7"/><circle cx="57.6" cy="381.6" r="1.7"/><circle cx="59.9" cy="382.2" r="1.7"/><circle cx="62.2" cy="382.9" r="1.7"/><circle cx="64.5" cy="383.5" r="1.7"/><circle cx="66.8" cy="382.9" r="1.7"/><circle cx="69.1" cy="382.2" r="1.7"/><circle cx="71.4" cy="381.6" r="1.7"/><circle cx="73.7" cy="380.9" r="1.7"/><circle cx="76.0" cy="380.3" r="1.7"/></g>
<g fill="#ee7424"><circle cx="103.7" cy="338.3" r="1.6"/><circle cx="98.9" cy="372.4" r="1.6"/><circle cx="108.1" cy="374.6" r="1.6"/><circle cx="103.7" cy="376.5" r="1.6"/><circle cx="108.1" cy="380.0" r="1.6"/><circle cx="98.9" cy="383.4" r="1.6"/><circle cx="103.7" cy="383.8" r="1.6"/><circle cx="106.0" cy="387.3" r="1.6"/><circle cx="101.3" cy="389.2" r="1.6"/><circle cx="96.4" cy="391.4" r="1.6"/><circle cx="101.3" cy="392.1" r="1.6"/><circle cx="110.3" cy="392.1" r="1.6"/><circle cx="106.0" cy="395.0" r="1.6"/><circle cx="96.4" cy="397.5" r="1.6"/><circle cx="110.3" cy="397.5" r="1.6"/><circle cx="101.3" cy="399.9" r="1.6"/><circle cx="106.0" cy="399.9" r="1.6"/></g>
<line x1="51.60" y1="385.60" x2="77.40" y2="385.60" stroke="#000" stroke-width="1.2" />
<line x1="89.90" y1="385.30" x2="116.90" y2="385.30" stroke="#000" stroke-width="1.2" />
<line x1="157.00" y1="323.50" x2="157.00" y2="402.50" stroke="#333" stroke-width="1" />
<line x1="154.80" y1="324.00" x2="157.00" y2="324.00" stroke="#333" stroke-width="1" />
<text x="155.00" y="327.00" font-size="8.5" text-anchor="end" fill="#000" stroke="#000" stroke-width="0.2" >3</text>
<line x1="154.80" y1="350.00" x2="157.00" y2="350.00" stroke="#333" stroke-width="1" />
<text x="155.00" y="353.00" font-size="8.5" text-anchor="end" fill="#000" stroke="#000" stroke-width="0.2" >2</text>
<line x1="154.80" y1="376.00" x2="157.00" y2="376.00" stroke="#333" stroke-width="1" />
<text x="155.00" y="379.00" font-size="8.5" text-anchor="end" fill="#000" stroke="#000" stroke-width="0.2" >1</text>
<line x1="154.80" y1="402.00" x2="157.00" y2="402.00" stroke="#333" stroke-width="1" />
<text x="155.00" y="405.00" font-size="8.5" text-anchor="end" fill="#000" stroke="#000" stroke-width="0.2" >0</text>
<line x1="156.50" y1="402.00" x2="230.00" y2="402.00" stroke="#333" stroke-width="1" />
<line x1="177.00" y1="402.00" x2="177.00" y2="404.20" stroke="#333" stroke-width="1" />
<line x1="216.00" y1="402.00" x2="216.00" y2="404.20" stroke="#333" stroke-width="1" />
<text x="177.00" y="412.50" font-size="8.5" text-anchor="middle" fill="#000" stroke="#000" stroke-width="0.2" >Control</text>
<text x="216.00" y="412.50" font-size="8.5" text-anchor="middle" fill="#000" stroke="#000" stroke-width="0.2" >IL12Rβ1</text>
<text x="0.00" y="0.00" font-size="9.5" text-anchor="middle" fill="#000" stroke="#000" stroke-width="0.2" transform="translate(140.5 357.5) rotate(-90)">IL-5 (ng/ml)</text>
<text x="198.00" y="324.20" font-size="9.6" text-anchor="middle" fill="#000" stroke="#000" stroke-width="0.2" >n.s.</text>
<g fill="#1818dc"><circle cx="177.3" cy="335.8" r="1.7"/><circle cx="177.3" cy="363.9" r="1.7"/><circle cx="170.0" cy="368.3" r="1.7"/><circle cx="174.8" cy="369.2" r="1.7"/><circle cx="179.5" cy="369.2" r="1.7"/><circle cx="184.1" cy="369.2" r="1.7"/><circle cx="177.3" cy="377.5" r="1.7"/><circle cx="166.3" cy="387.0" r="1.7"/><circle cx="187.5" cy="387.0" r="1.7"/><circle cx="165.3" cy="380.2" r="1.7"/><circle cx="168.3" cy="380.6" r="1.7"/><circle cx="171.3" cy="381.1" r="1.7"/><circle cx="174.3" cy="381.6" r="1.7"/><circle cx="177.3" cy="382.0" r="1.7"/><circle cx="180.3" cy="381.6" r="1.7"/><circle cx="183.3" cy="381.1" r="1.7"/><circle cx="186.3" cy="380.6" r="1.7"/><circle cx="189.3" cy="380.2" r="1.7"/><circle cx="165.3" cy="383.2" r="1.7"/><circle cx="168.3" cy="383.6" r="1.7"/><circle cx="171.3" cy="384.1" r="1.7"/><circle cx="174.3" cy="384.6" r="1.7"/><circle cx="177.3" cy="385.0" r="1.7"/><circle cx="180.3" cy="384.6" r="1.7"/><circle cx="183.3" cy="384.1" r="1.7"/><circle cx="186.3" cy="383.6" r="1.7"/><circle cx="189.3" cy="383.2" r="1.7"/><circle cx="172.7" cy="399.5" r="1.7"/><circle cx="175.0" cy="400.2" r="1.7"/><circle cx="177.3" cy="400.8" r="1.7"/><circle cx="179.6" cy="400.2" r="1.7"/><circle cx="181.9" cy="399.5" r="1.7"/><circle cx="168.1" cy="394.8" r="1.7"/><circle cx="170.4" cy="395.5" r="1.7"/><circle cx="172.7" cy="396.1" r="1.7"/><circle cx="175.0" cy="396.8" r="1.7"/><circle cx="177.3" cy="397.4" r="1.7"/><circle cx="179.6" cy="396.8" r="1.7"/><circle cx="181.9" cy="396.1" r="1.7"/><circle cx="184.2" cy="395.5" r="1.7"/><circle cx="186.5" cy="394.8" r="1.7"/><circle cx="165.8" cy="390.8" r="1.7"/><circle cx="168.1" cy="391.4" r="1.7"/><circle cx="170.4" cy="392.1" r="1.7"/><circle cx="172.7" cy="392.7" r="1.7"/><circle cx="175.0" cy="393.4" r="1.7"/><circle cx="177.3" cy="394.0" r="1.7"/><circle cx="179.6" cy="393.4" r="1.7"/><circle cx="181.9" cy="392.7" r="1.7"/><circle cx="184.2" cy="392.1" r="1.7"/><circle cx="186.5" cy="391.4" r="1.7"/><circle cx="188.8" cy="390.8" r="1.7"/><circle cx="165.8" cy="387.4" r="1.7"/><circle cx="168.1" cy="388.0" r="1.7"/><circle cx="170.4" cy="388.7" r="1.7"/><circle cx="172.7" cy="389.3" r="1.7"/><circle cx="175.0" cy="390.0" r="1.7"/><circle cx="177.3" cy="390.6" r="1.7"/><circle cx="179.6" cy="390.0" r="1.7"/><circle cx="181.9" cy="389.3" r="1.7"/><circle cx="184.2" cy="388.7" r="1.7"/><circle cx="186.5" cy="388.0" r="1.7"/><circle cx="188.8" cy="387.4" r="1.7"/></g>
<g fill="#ee7424"><circle cx="216.3" cy="340.2" r="1.6"/><circle cx="211.3" cy="386.3" r="1.6"/><circle cx="221.1" cy="388.5" r="1.6"/><circle cx="216.3" cy="390.2" r="1.6"/><circle cx="207.0" cy="395.4" r="1.6"/><circle cx="210.0" cy="395.6" r="1.6"/><circle cx="213.0" cy="395.8" r="1.6"/><circle cx="216.0" cy="396.0" r="1.6"/><circle cx="219.0" cy="395.8" r="1.6"/><circle cx="222.0" cy="395.6" r="1.6"/><circle cx="225.0" cy="395.4" r="1.6"/><circle cx="207.0" cy="397.9" r="1.6"/><circle cx="210.0" cy="398.1" r="1.6"/><circle cx="213.0" cy="398.3" r="1.6"/><circle cx="216.0" cy="398.5" r="1.6"/><circle cx="219.0" cy="398.3" r="1.6"/><circle cx="222.0" cy="398.1" r="1.6"/><circle cx="225.0" cy="397.9" r="1.6"/><circle cx="210.0" cy="400.1" r="1.6"/><circle cx="213.0" cy="400.3" r="1.6"/><circle cx="216.0" cy="400.5" r="1.6"/><circle cx="219.0" cy="400.3" r="1.6"/><circle cx="222.0" cy="400.1" r="1.6"/></g>
<line x1="164.00" y1="390.40" x2="190.40" y2="390.40" stroke="#000" stroke-width="1.2" />
<line x1="202.90" y1="393.20" x2="229.90" y2="393.20" stroke="#000" stroke-width="1.2" />
<line x1="271.00" y1="323.50" x2="271.00" y2="402.50" stroke="#333" stroke-width="1" />
<line x1="268.80" y1="324.00" x2="271.00" y2="324.00" stroke="#333" stroke-width="1" />
<text x="269.00" y="327.00" font-size="8.5" text-anchor="end" fill="#000" stroke="#000" stroke-width="0.2" >5</text>
<line x1="268.80" y1="339.50" x2="271.00" y2="339.50" stroke="#333" stroke-width="1" />
<text x="269.00" y="342.50" font-size="8.5" text-anchor="end" fill="#000" stroke="#000" stroke-width="0.2" >4</text>
<line x1="268.80" y1="355.00" x2="271.00" y2="355.00" stroke="#333" stroke-width="1" />
<text x="269.00" y="358.00" font-size="8.5" text-anchor="end" fill="#000" stroke="#000" stroke-width="0.2" >3</text>
<line x1="268.80" y1="371.00" x2="271.00" y2="371.00" stroke="#333" stroke-width="1" />
<text x="269.00" y="374.00" font-size="8.5" text-anchor="end" fill="#000" stroke="#000" stroke-width="0.2" >2</text>
<line x1="268.80" y1="386.50" x2="271.00" y2="386.50" stroke="#333" stroke-width="1" />
<text x="269.00" y="389.50" font-size="8.5" text-anchor="end" fill="#000" stroke="#000" stroke-width="0.2" >1</text>
<line x1="268.80" y1="402.00" x2="271.00" y2="402.00" stroke="#333" stroke-width="1" />
<text x="269.00" y="405.00" font-size="8.5" text-anchor="end" fill="#000" stroke="#000" stroke-width="0.2" >0</text>
<line x1="270.50" y1="402.00" x2="345.00" y2="402.00" stroke="#333" stroke-width="1" />
<line x1="291.00" y1="402.00" x2="291.00" y2="404.20" stroke="#333" stroke-width="1" />
<line x1="330.00" y1="402.00" x2="330.00" y2="404.20" stroke="#333" stroke-width="1" />
<text x="291.00" y="412.50" font-size="8.5" text-anchor="middle" fill="#000" stroke="#000" stroke-width="0.2" >Control</text>
<text x="330.00" y="412.50" font-size="8.5" text-anchor="middle" fill="#000" stroke="#000" stroke-width="0.2" >IL12Rβ1</text>
<text x="0.00" y="0.00" font-size="9.5" text-anchor="middle" fill="#000" stroke="#000" stroke-width="0.2" transform="translate(248.5 357.5) rotate(-90)">IL-13 (ng/ml)</text>
<text x="311.00" y="324.20" font-size="9.6" text-anchor="middle" fill="#000" stroke="#000" stroke-width="0.2" >n.s.</text>
<g fill="#1818dc"><circle cx="290.8" cy="340.5" r="1.7"/><circle cx="290.8" cy="351.6" r="1.7"/><circle cx="290.8" cy="358.5" r="1.7"/><circle cx="288.3" cy="366.3" r="1.7"/><circle cx="293.3" cy="366.3" r="1.7"/><circle cx="286.0" cy="372.7" r="1.7"/><circle cx="290.8" cy="373.9" r="1.7"/><circle cx="295.6" cy="372.1" r="1.7"/><circle cx="298.1" cy="374.2" r="1.7"/><circle cx="283.5" cy="378.2" r="1.7"/><circle cx="288.3" cy="379.0" r="1.7"/><circle cx="293.3" cy="378.2" r="1.7"/><circle cx="300.3" cy="379.0" r="1.7"/><circle cx="281.3" cy="380.4" r="1.7"/><circle cx="285.5" cy="383.5" r="1.7"/><circle cx="290.8" cy="384.2" r="1.7"/><circle cx="296.0" cy="383.5" r="1.7"/><circle cx="279.1" cy="384.8" r="1.7"/><circle cx="302.5" cy="385.6" r="1.7"/><circle cx="288.5" cy="400.2" r="1.7"/><circle cx="290.8" cy="400.8" r="1.7"/><circle cx="293.1" cy="400.2" r="1.7"/><circle cx="283.9" cy="395.5" r="1.7"/><circle cx="286.2" cy="396.1" r="1.7"/><circle cx="288.5" cy="396.8" r="1.7"/><circle cx="290.8" cy="397.4" r="1.7"/><circle cx="293.1" cy="396.8" r="1.7"/><circle cx="295.4" cy="396.1" r="1.7"/><circle cx="297.7" cy="395.5" r="1.7"/><circle cx="281.6" cy="391.4" r="1.7"/><circle cx="283.9" cy="392.1" r="1.7"/><circle cx="286.2" cy="392.7" r="1.7"/><circle cx="288.5" cy="393.4" r="1.7"/><circle cx="290.8" cy="394.0" r="1.7"/><circle cx="293.1" cy="393.4" r="1.7"/><circle cx="295.4" cy="392.7" r="1.7"/><circle cx="297.7" cy="392.1" r="1.7"/><circle cx="300.0" cy="391.4" r="1.7"/><circle cx="279.3" cy="387.4" r="1.7"/><circle cx="281.6" cy="388.0" r="1.7"/><circle cx="283.9" cy="388.7" r="1.7"/><circle cx="286.2" cy="389.3" r="1.7"/><circle cx="288.5" cy="390.0" r="1.7"/><circle cx="290.8" cy="390.6" r="1.7"/><circle cx="293.1" cy="390.0" r="1.7"/><circle cx="295.4" cy="389.3" r="1.7"/><circle cx="297.7" cy="388.7" r="1.7"/><circle cx="300.0" cy="388.0" r="1.7"/><circle cx="302.3" cy="387.4" r="1.7"/></g>
<g fill="#ee7424"><circle cx="329.6" cy="351.6" r="1.6"/><circle cx="325.2" cy="380.9" r="1.6"/><circle cx="329.6" cy="380.9" r="1.6"/><circle cx="334.2" cy="380.9" r="1.6"/><circle cx="325.2" cy="385.8" r="1.6"/><circle cx="334.7" cy="387.0" r="1.6"/><circle cx="318.0" cy="395.3" r="1.6"/><circle cx="321.0" cy="395.1" r="1.6"/><circle cx="324.0" cy="394.8" r="1.6"/><circle cx="327.0" cy="394.6" r="1.6"/><circle cx="330.0" cy="394.3" r="1.6"/><circle cx="333.0" cy="394.6" r="1.6"/><circle cx="336.0" cy="394.8" r="1.6"/><circle cx="339.0" cy="395.1" r="1.6"/><circle cx="342.0" cy="395.3" r="1.6"/><circle cx="331.7" cy="397.5" r="1.6"/><circle cx="328.1" cy="401.3" r="1.6"/></g>
<line x1="277.70" y1="387.30" x2="304.00" y2="387.30" stroke="#000" stroke-width="1.2" />
<line x1="316.40" y1="388.90" x2="343.40" y2="388.90" stroke="#000" stroke-width="1.2" />
<text x="381.00" y="212.50" font-size="11.5" text-anchor="start" font-weight="bold" fill="#000" stroke="#000" stroke-width="0.2" >C</text>
<line x1="421.00" y1="209.50" x2="421.00" y2="298.50" stroke="#333" stroke-width="1" />
<line x1="418.80" y1="210.00" x2="421.00" y2="210.00" stroke="#333" stroke-width="1" />
<text x="417.80" y="213.00" font-size="10.5" text-anchor="end" fill="#000" stroke="#000" stroke-width="0.2" >2.0</text>
<line x1="418.80" y1="232.00" x2="421.00" y2="232.00" stroke="#333" stroke-width="1" />
<text x="417.80" y="235.00" font-size="10.5" text-anchor="end" fill="#000" stroke="#000" stroke-width="0.2" >1.5</text>
<line x1="418.80" y1="254.00" x2="421.00" y2="254.00" stroke="#333" stroke-width="1" />
<text x="417.80" y="257.00" font-size="10.5" text-anchor="end" fill="#000" stroke="#000" stroke-width="0.2" >1.0</text>
<line x1="418.80" y1="276.00" x2="421.00" y2="276.00" stroke="#333" stroke-width="1" />
<text x="417.80" y="279.00" font-size="10.5" text-anchor="end" fill="#000" stroke="#000" stroke-width="0.2" >0.5</text>
<line x1="418.80" y1="298.00" x2="421.00" y2="298.00" stroke="#333" stroke-width="1" />
<text x="417.80" y="301.00" font-size="10.5" text-anchor="end" fill="#000" stroke="#000" stroke-width="0.2" >0.0</text>
<line x1="420.50" y1="298.00" x2="511.00" y2="298.00" stroke="#000" stroke-width="1" />
<line x1="421.00" y1="298.00" x2="421.00" y2="300.50" stroke="#000" stroke-width="1" />
<text x="421.00" y="311.50" font-size="10.5" text-anchor="middle" fill="#000" stroke="#000" stroke-width="0.2" >0</text>
<line x1="451.50" y1="298.00" x2="451.50" y2="300.50" stroke="#000" stroke-width="1" />
<text x="451.50" y="311.50" font-size="10.5" text-anchor="middle" fill="#000" stroke="#000" stroke-width="0.2" >5</text>
<line x1="481.00" y1="298.00" x2="481.00" y2="300.50" stroke="#000" stroke-width="1" />
<text x="481.00" y="311.50" font-size="10.5" text-anchor="middle" fill="#000" stroke="#000" stroke-width="0.2" >10</text>
<line x1="510.50" y1="298.00" x2="510.50" y2="300.50" stroke="#000" stroke-width="1" />
<text x="510.50" y="311.50" font-size="10.5" text-anchor="middle" fill="#000" stroke="#000" stroke-width="0.2" >15</text>
<text x="466.00" y="326.00" font-size="11" text-anchor="middle" fill="#000" stroke="#000" stroke-width="0.2" >IL-6 (ng/ml)</text>
<text x="0.00" y="0.00" font-size="11" text-anchor="middle" fill="#000" stroke="#000" stroke-width="0.2" transform="translate(398 246.5) rotate(-90)">IL-21 (ng/ml)</text>
<circle cx="439.9" cy="295.6" r="1.4" fill="#ee7424"/>
<circle cx="422.1" cy="295.9" r="1.4" fill="#ee7424"/>
<circle cx="435.7" cy="297.4" r="1.4" fill="#ee7424"/>
<circle cx="457.6" cy="296.5" r="1.4" fill="#ee7424"/>
<circle cx="440.2" cy="296.8" r="1.4" fill="#ee7424"/>
<circle cx="456.4" cy="296.2" r="1.4" fill="#ee7424"/>
<circle cx="453.7" cy="296.3" r="1.4" fill="#ee7424"/>
<circle cx="445.8" cy="297.0" r="1.4" fill="#ee7424"/>
<circle cx="442.1" cy="296.9" r="1.4" fill="#ee7424"/>
<circle cx="449.9" cy="295.5" r="1.4" fill="#ee7424"/>
<circle cx="423.6" cy="295.8" r="1.4" fill="#ee7424"/>
<circle cx="430.5" cy="295.9" r="1.4" fill="#ee7424"/>
<circle cx="424.0" cy="295.9" r="1.4" fill="#ee7424"/>
<circle cx="446.0" cy="297.3" r="1.4" fill="#ee7424"/>
<circle cx="436.0" cy="296.2" r="1.4" fill="#ee7424"/>
<circle cx="438.7" cy="296.9" r="1.4" fill="#ee7424"/>
<circle cx="453.4" cy="297.4" r="1.4" fill="#ee7424"/>
<circle cx="437.0" cy="296.9" r="1.4" fill="#ee7424"/>
<circle cx="435.7" cy="297.1" r="1.4" fill="#ee7424"/>
<circle cx="431.2" cy="297.2" r="1.4" fill="#ee7424"/>
<circle cx="442.2" cy="297.0" r="1.4" fill="#ee7424"/>
<circle cx="443.4" cy="296.1" r="1.4" fill="#ee7424"/>
<circle cx="422.7" cy="293" r="1.4" fill="#ee7424"/>
<circle cx="491.4" cy="297" r="1.4" fill="#ee7424"/>
<line x1="421.00" y1="297.20" x2="491.00" y2="297.00" stroke="#ee7424" stroke-width="1.2" />
<circle cx="439.6" cy="230.3" r="1.75" fill="#1818dc"/>
<circle cx="431.2" cy="234.5" r="1.75" fill="#1818dc"/>
<circle cx="444.3" cy="238.7" r="1.75" fill="#1818dc"/>
<circle cx="431.2" cy="243.4" r="1.75" fill="#1818dc"/>
<circle cx="447.0" cy="251.4" r="1.75" fill="#1818dc"/>
<circle cx="456.1" cy="254.6" r="1.75" fill="#1818dc"/>
<circle cx="437.0" cy="261.0" r="1.75" fill="#1818dc"/>
<circle cx="432.2" cy="263.0" r="1.75" fill="#1818dc"/>
<circle cx="440.7" cy="272.0" r="1.75" fill="#1818dc"/>
<circle cx="447.7" cy="272.0" r="1.75" fill="#1818dc"/>
<circle cx="423.0" cy="275.0" r="1.75" fill="#1818dc"/>
<circle cx="433.3" cy="274.0" r="1.75" fill="#1818dc"/>
<circle cx="436.4" cy="275.7" r="1.75" fill="#1818dc"/>
<circle cx="430.0" cy="277.8" r="1.75" fill="#1818dc"/>
<circle cx="430.0" cy="280.0" r="1.75" fill="#1818dc"/>
<circle cx="441.7" cy="280.0" r="1.75" fill="#1818dc"/>
<circle cx="443.8" cy="280.0" r="1.75" fill="#1818dc"/>
<circle cx="474.5" cy="277.2" r="1.75" fill="#1818dc"/>
<circle cx="479.8" cy="283.6" r="1.75" fill="#1818dc"/>
<circle cx="429.5" cy="285.7" r="1.75" fill="#1818dc"/>
<circle cx="435.4" cy="286.7" r="1.75" fill="#1818dc"/>
<circle cx="441.0" cy="285.5" r="1.75" fill="#1818dc"/>
<circle cx="443.0" cy="287.0" r="1.75" fill="#1818dc"/>
<circle cx="450.0" cy="285.5" r="1.75" fill="#1818dc"/>
<circle cx="454.0" cy="287.0" r="1.75" fill="#1818dc"/>
<circle cx="459.0" cy="287.0" r="1.75" fill="#1818dc"/>
<circle cx="464.0" cy="287.0" r="1.75" fill="#1818dc"/>
<circle cx="469.0" cy="287.0" r="1.75" fill="#1818dc"/>
<circle cx="477.7" cy="287.4" r="1.75" fill="#1818dc"/>
<circle cx="500.0" cy="286.7" r="1.75" fill="#1818dc"/>
<circle cx="505.6" cy="289.3" r="1.75" fill="#1818dc"/>
<circle cx="463.4" cy="293.1" r="1.75" fill="#1818dc"/>
<circle cx="450.7" cy="286.6" r="1.75" fill="#1818dc"/>
<circle cx="430.4" cy="287.8" r="1.75" fill="#1818dc"/>
<circle cx="446.0" cy="283.6" r="1.75" fill="#1818dc"/>
<circle cx="430.1" cy="295.5" r="1.75" fill="#1818dc"/>
<circle cx="456.7" cy="285.9" r="1.75" fill="#1818dc"/>
<circle cx="447.1" cy="295.2" r="1.75" fill="#1818dc"/>
<circle cx="467.5" cy="293.6" r="1.75" fill="#1818dc"/>
<circle cx="445.3" cy="289.2" r="1.75" fill="#1818dc"/>
<circle cx="457.8" cy="283.8" r="1.75" fill="#1818dc"/>
<circle cx="452.4" cy="286.4" r="1.75" fill="#1818dc"/>
<circle cx="466.7" cy="283.8" r="1.75" fill="#1818dc"/>
<circle cx="457.9" cy="293.9" r="1.75" fill="#1818dc"/>
<circle cx="438.0" cy="294.2" r="1.75" fill="#1818dc"/>
<circle cx="466.4" cy="283.2" r="1.75" fill="#1818dc"/>
<circle cx="459.1" cy="283.0" r="1.75" fill="#1818dc"/>
<circle cx="450.1" cy="288.5" r="1.75" fill="#1818dc"/>
<circle cx="436.9" cy="287.1" r="1.75" fill="#1818dc"/>
<circle cx="463.5" cy="287.0" r="1.75" fill="#1818dc"/>
<circle cx="434.6" cy="291.7" r="1.75" fill="#1818dc"/>
<circle cx="447.7" cy="293.0" r="1.75" fill="#1818dc"/>
<circle cx="438.4" cy="287.0" r="1.75" fill="#1818dc"/>
<circle cx="463.2" cy="289.3" r="1.75" fill="#1818dc"/>
<circle cx="450.3" cy="286.0" r="1.75" fill="#1818dc"/>
<circle cx="428.6" cy="294.7" r="1.75" fill="#1818dc"/>
<circle cx="431.8" cy="293.6" r="1.75" fill="#1818dc"/>
<circle cx="444.2" cy="294.9" r="1.75" fill="#1818dc"/>
<circle cx="445.6" cy="294.7" r="1.75" fill="#1818dc"/>
<circle cx="452.5" cy="286.0" r="1.75" fill="#1818dc"/>
<circle cx="460.6" cy="291.4" r="1.75" fill="#1818dc"/>
<circle cx="458.1" cy="288.8" r="1.75" fill="#1818dc"/>
<circle cx="437.8" cy="291.0" r="1.75" fill="#1818dc"/>
<circle cx="432.7" cy="291.7" r="1.75" fill="#1818dc"/>
<circle cx="456.0" cy="287.7" r="1.75" fill="#1818dc"/>
<circle cx="463.1" cy="285.4" r="1.75" fill="#1818dc"/>
<circle cx="445.2" cy="293.0" r="1.75" fill="#1818dc"/>
<circle cx="444.7" cy="291.9" r="1.75" fill="#1818dc"/>
<circle cx="455.0" cy="294.8" r="1.75" fill="#1818dc"/>
<circle cx="471.6" cy="292.0" r="1.75" fill="#1818dc"/>
<circle cx="463.6" cy="284.9" r="1.75" fill="#1818dc"/>
<circle cx="459.4" cy="293.6" r="1.75" fill="#1818dc"/>
<circle cx="445.7" cy="289.9" r="1.75" fill="#1818dc"/>
<circle cx="449.1" cy="295.0" r="1.75" fill="#1818dc"/>
<circle cx="442.0" cy="288.0" r="1.75" fill="#1818dc"/>
<circle cx="428.0" cy="288.3" r="1.75" fill="#1818dc"/>
<circle cx="455.8" cy="294.7" r="1.75" fill="#1818dc"/>
<circle cx="468.6" cy="287.1" r="1.75" fill="#1818dc"/>
<circle cx="471.5" cy="285.3" r="1.75" fill="#1818dc"/>
<circle cx="464.2" cy="285.0" r="1.75" fill="#1818dc"/>
<circle cx="445.8" cy="283.9" r="1.75" fill="#1818dc"/>
<circle cx="465.8" cy="293.4" r="1.75" fill="#1818dc"/>
<circle cx="434.2" cy="289.6" r="1.75" fill="#1818dc"/>
<circle cx="439.4" cy="289.1" r="1.75" fill="#1818dc"/>
<circle cx="452.3" cy="284.3" r="1.75" fill="#1818dc"/>
<circle cx="466.0" cy="286.5" r="1.75" fill="#1818dc"/>
<circle cx="433.0" cy="273.7" r="1.75" fill="#1818dc"/>
<circle cx="435.9" cy="276.0" r="1.75" fill="#1818dc"/>
<circle cx="440.5" cy="271.9" r="1.75" fill="#1818dc"/>
<circle cx="447.4" cy="272.2" r="1.75" fill="#1818dc"/>
<circle cx="429.5" cy="277.1" r="1.75" fill="#1818dc"/>
<circle cx="441.6" cy="280.0" r="1.75" fill="#1818dc"/>
<circle cx="445.7" cy="281.7" r="1.75" fill="#1818dc"/>
<circle cx="474.3" cy="277.5" r="1.75" fill="#1818dc"/>
<circle cx="429.0" cy="285.2" r="1.75" fill="#1818dc"/>
<circle cx="435.3" cy="286.3" r="1.75" fill="#1818dc"/>
<circle cx="464.7" cy="288.0" r="1.75" fill="#1818dc"/>
<circle cx="468.7" cy="287.5" r="1.75" fill="#1818dc"/>
<circle cx="470.5" cy="286.9" r="1.75" fill="#1818dc"/>
<circle cx="477.4" cy="288.0" r="1.75" fill="#1818dc"/>
<line x1="421.00" y1="277.20" x2="505.60" y2="294.00" stroke="#1818dc" stroke-width="1.2" />
<line x1="401.70" y1="343.80" x2="422.00" y2="343.80" stroke="#3a3ab4" stroke-width="1.3" />
<line x1="401.70" y1="354.00" x2="422.00" y2="354.00" stroke="#eb9560" stroke-width="1.3" />
<text x="436.00" y="348.30" font-size="9.7" text-anchor="start" fill="#000" stroke="#000" stroke-width="0.2" >Control subjects</text>
<text x="436.00" y="358.80" font-size="9.7" text-anchor="start" fill="#000" stroke="#000" stroke-width="0.2" >IL12Rβ1-deficiency</text>
<text x="0.00" y="437.50" font-size="11.5" text-anchor="start" font-weight="bold" fill="#000" stroke="#000" stroke-width="0.2" >D</text>
<line x1="68.50" y1="444.80" x2="68.50" y2="536.40" stroke="#000" stroke-width="1" />
<line x1="66.00" y1="445.30" x2="68.50" y2="445.30" stroke="#000" stroke-width="1" />
<text x="66.5" y="448.5" font-size="8.5" text-anchor="end">10<tspan font-size="6" dy="-3.5">1</tspan></text>
<line x1="66.00" y1="467.80" x2="68.50" y2="467.80" stroke="#000" stroke-width="1" />
<text x="66.5" y="471.0" font-size="8.5" text-anchor="end">10<tspan font-size="6" dy="-3.5">0</tspan></text>
<line x1="66.00" y1="490.50" x2="68.50" y2="490.50" stroke="#000" stroke-width="1" />
<text x="66.5" y="493.7" font-size="8.5" text-anchor="end">10<tspan font-size="6" dy="-3.5">-1</tspan></text>
<line x1="66.00" y1="512.80" x2="68.50" y2="512.80" stroke="#000" stroke-width="1" />
<text x="66.5" y="516.0" font-size="8.5" text-anchor="end">10<tspan font-size="6" dy="-3.5">-2</tspan></text>
<line x1="66.00" y1="535.30" x2="68.50" y2="535.30" stroke="#000" stroke-width="1" />
<text x="66.5" y="538.5" font-size="8.5" text-anchor="end">10<tspan font-size="6" dy="-3.5">-3</tspan></text>
<line x1="67.20" y1="461.03" x2="68.50" y2="461.03" stroke="#000" stroke-width="0.5" />
<line x1="67.20" y1="457.06" x2="68.50" y2="457.06" stroke="#000" stroke-width="0.5" />
<line x1="67.20" y1="454.25" x2="68.50" y2="454.25" stroke="#000" stroke-width="0.5" />
<line x1="67.20" y1="452.07" x2="68.50" y2="452.07" stroke="#000" stroke-width="0.5" />
<line x1="67.20" y1="450.29" x2="68.50" y2="450.29" stroke="#000" stroke-width="0.5" />
<line x1="67.20" y1="448.79" x2="68.50" y2="448.79" stroke="#000" stroke-width="0.5" />
<line x1="67.20" y1="447.48" x2="68.50" y2="447.48" stroke="#000" stroke-width="0.5" />
<line x1="67.20" y1="446.33" x2="68.50" y2="446.33" stroke="#000" stroke-width="0.5" />
<line x1="67.20" y1="483.67" x2="68.50" y2="483.67" stroke="#000" stroke-width="0.5" />
<line x1="67.20" y1="479.67" x2="68.50" y2="479.67" stroke="#000" stroke-width="0.5" />
<line x1="67.20" y1="476.83" x2="68.50" y2="476.83" stroke="#000" stroke-width="0.5" />
<line x1="67.20" y1="474.63" x2="68.50" y2="474.63" stroke="#000" stroke-width="0.5" />
<line x1="67.20" y1="472.84" x2="68.50" y2="472.84" stroke="#000" stroke-width="0.5" />
<line x1="67.20" y1="471.32" x2="68.50" y2="471.32" stroke="#000" stroke-width="0.5" />
<line x1="67.20" y1="470.00" x2="68.50" y2="470.00" stroke="#000" stroke-width="0.5" />
<line x1="67.20" y1="468.84" x2="68.50" y2="468.84" stroke="#000" stroke-width="0.5" />
<line x1="67.20" y1="506.09" x2="68.50" y2="506.09" stroke="#000" stroke-width="0.5" />
<line x1="67.20" y1="502.16" x2="68.50" y2="502.16" stroke="#000" stroke-width="0.5" />
<line x1="67.20" y1="499.37" x2="68.50" y2="499.37" stroke="#000" stroke-width="0.5" />
<line x1="67.20" y1="497.21" x2="68.50" y2="497.21" stroke="#000" stroke-width="0.5" />
<line x1="67.20" y1="495.45" x2="68.50" y2="495.45" stroke="#000" stroke-width="0.5" />
<line x1="67.20" y1="493.95" x2="68.50" y2="493.95" stroke="#000" stroke-width="0.5" />
<line x1="67.20" y1="492.66" x2="68.50" y2="492.66" stroke="#000" stroke-width="0.5" />
<line x1="67.20" y1="491.52" x2="68.50" y2="491.52" stroke="#000" stroke-width="0.5" />
<line x1="67.20" y1="528.53" x2="68.50" y2="528.53" stroke="#000" stroke-width="0.5" />
<line x1="67.20" y1="524.56" x2="68.50" y2="524.56" stroke="#000" stroke-width="0.5" />
<line x1="67.20" y1="521.75" x2="68.50" y2="521.75" stroke="#000" stroke-width="0.5" />
<line x1="67.20" y1="519.57" x2="68.50" y2="519.57" stroke="#000" stroke-width="0.5" />
<line x1="67.20" y1="517.79" x2="68.50" y2="517.79" stroke="#000" stroke-width="0.5" />
<line x1="67.20" y1="516.29" x2="68.50" y2="516.29" stroke="#000" stroke-width="0.5" />
<line x1="67.20" y1="514.98" x2="68.50" y2="514.98" stroke="#000" stroke-width="0.5" />
<line x1="67.20" y1="513.83" x2="68.50" y2="513.83" stroke="#000" stroke-width="0.5" />
<line x1="68.00" y1="536.40" x2="206.50" y2="536.40" stroke="#000" stroke-width="1" />
<line x1="86.00" y1="536.40" x2="86.00" y2="539.00" stroke="#000" stroke-width="1" />
<line x1="120.60" y1="536.40" x2="120.60" y2="539.00" stroke="#000" stroke-width="1" />
<line x1="155.40" y1="536.40" x2="155.40" y2="539.00" stroke="#000" stroke-width="1" />
<line x1="189.20" y1="536.40" x2="189.20" y2="539.00" stroke="#000" stroke-width="1" />
<text x="0.00" y="0.00" font-size="10" text-anchor="middle" fill="#000" stroke="#000" stroke-width="0.2" transform="translate(41.2 484) rotate(-90)">IL-21 (ng/ml)</text>
<text x="84.00" y="437.50" font-size="10" text-anchor="start" fill="#000" stroke="#000" stroke-width="0.2" >Control</text>
<text x="84.00" y="449.00" font-size="10" text-anchor="start" fill="#000" stroke="#000" stroke-width="0.2" >p=0.0005</text>
<text x="169.30" y="437.00" font-size="9.5" text-anchor="middle" fill="#000" stroke="#000" stroke-width="0.2" >IL12Rβ1</text>
<text x="168.00" y="449.00" font-size="10" text-anchor="middle" fill="#000" stroke="#000" stroke-width="0.2" >n.s</text>
<line x1="86.50" y1="463.00" x2="121.20" y2="484.60" stroke="#000" stroke-width="0.85" />
<line x1="86.50" y1="464.60" x2="121.20" y2="487.70" stroke="#000" stroke-width="0.85" />
<line x1="86.50" y1="466.00" x2="121.20" y2="488.00" stroke="#000" stroke-width="0.85" />
<line x1="86.50" y1="468.50" x2="121.20" y2="489.00" stroke="#000" stroke-width="0.85" />
<line x1="86.50" y1="470.80" x2="121.20" y2="490.80" stroke="#000" stroke-width="0.85" />
<line x1="86.50" y1="473.00" x2="121.20" y2="491.50" stroke="#000" stroke-width="0.85" />
<line x1="86.50" y1="475.40" x2="121.20" y2="492.30" stroke="#000" stroke-width="0.85" />
<line x1="86.50" y1="477.70" x2="121.20" y2="493.80" stroke="#000" stroke-width="0.85" />
<line x1="86.50" y1="482.00" x2="121.20" y2="494.00" stroke="#000" stroke-width="0.85" />
<line x1="86.50" y1="483.50" x2="121.20" y2="495.40" stroke="#000" stroke-width="0.85" />
<line x1="86.50" y1="485.00" x2="121.20" y2="496.00" stroke="#000" stroke-width="0.85" />
<line x1="86.50" y1="486.50" x2="121.20" y2="497.00" stroke="#000" stroke-width="0.85" />
<line x1="86.50" y1="488.00" x2="121.20" y2="498.50" stroke="#000" stroke-width="0.85" />
<line x1="86.50" y1="490.00" x2="121.20" y2="500.80" stroke="#000" stroke-width="0.85" />
<line x1="86.50" y1="491.50" x2="121.20" y2="503.00" stroke="#000" stroke-width="0.85" />
<line x1="86.50" y1="500.80" x2="121.20" y2="508.50" stroke="#000" stroke-width="0.85" />
<circle cx="86.5" cy="463.00" r="1.7" fill="#1c1ca8"/>
<circle cx="86.5" cy="464.60" r="1.7" fill="#1c1ca8"/>
<circle cx="86.5" cy="466.00" r="1.7" fill="#1c1ca8"/>
<circle cx="86.5" cy="468.50" r="1.7" fill="#1c1ca8"/>
<circle cx="86.5" cy="470.80" r="1.7" fill="#1c1ca8"/>
<circle cx="86.5" cy="473.00" r="1.7" fill="#1c1ca8"/>
<circle cx="86.5" cy="475.40" r="1.7" fill="#1c1ca8"/>
<circle cx="86.5" cy="477.70" r="1.7" fill="#1c1ca8"/>
<circle cx="86.5" cy="482.00" r="1.7" fill="#1c1ca8"/>
<circle cx="86.5" cy="483.50" r="1.7" fill="#1c1ca8"/>
<circle cx="86.5" cy="485.00" r="1.7" fill="#1c1ca8"/>
<circle cx="86.5" cy="486.50" r="1.7" fill="#1c1ca8"/>
<circle cx="86.5" cy="488.00" r="1.7" fill="#1c1ca8"/>
<circle cx="86.5" cy="490.00" r="1.7" fill="#1c1ca8"/>
<circle cx="86.5" cy="491.50" r="1.7" fill="#1c1ca8"/>
<circle cx="86.5" cy="500.80" r="1.7" fill="#1c1ca8"/>
<path d="M119.30 483.08 H123.10 L121.20 486.69 Z" fill="#1c1ca8"/>
<path d="M119.30 486.18 H123.10 L121.20 489.79 Z" fill="#1c1ca8"/>
<path d="M119.30 486.48 H123.10 L121.20 490.09 Z" fill="#1c1ca8"/>
<path d="M119.30 487.48 H123.10 L121.20 491.09 Z" fill="#1c1ca8"/>
<path d="M119.30 489.28 H123.10 L121.20 492.89 Z" fill="#1c1ca8"/>
<path d="M119.30 489.98 H123.10 L121.20 493.59 Z" fill="#1c1ca8"/>
<path d="M119.30 490.78 H123.10 L121.20 494.39 Z" fill="#1c1ca8"/>
<path d="M119.30 492.28 H123.10 L121.20 495.89 Z" fill="#1c1ca8"/>
<path d="M119.30 492.48 H123.10 L121.20 496.09 Z" fill="#1c1ca8"/>
<path d="M119.30 493.88 H123.10 L121.20 497.49 Z" fill="#1c1ca8"/>
<path d="M119.30 494.48 H123.10 L121.20 498.09 Z" fill="#1c1ca8"/>
<path d="M119.30 495.48 H123.10 L121.20 499.09 Z" fill="#1c1ca8"/>
<path d="M119.30 496.98 H123.10 L121.20 500.59 Z" fill="#1c1ca8"/>
<path d="M119.30 499.28 H123.10 L121.20 502.89 Z" fill="#1c1ca8"/>
<path d="M119.30 501.48 H123.10 L121.20 505.09 Z" fill="#1c1ca8"/>
<path d="M119.30 506.98 H123.10 L121.20 510.59 Z" fill="#1c1ca8"/>
<line x1="155.00" y1="497.20" x2="189.00" y2="498.70" stroke="#000" stroke-width="0.85" />
<line x1="155.00" y1="499.50" x2="189.00" y2="500.50" stroke="#000" stroke-width="0.85" />
<line x1="155.00" y1="501.20" x2="189.00" y2="502.10" stroke="#000" stroke-width="0.85" />
<line x1="155.00" y1="503.80" x2="189.00" y2="504.30" stroke="#000" stroke-width="0.85" />
<line x1="155.00" y1="506.40" x2="189.00" y2="508.60" stroke="#000" stroke-width="0.85" />
<line x1="155.00" y1="508.20" x2="189.00" y2="509.90" stroke="#000" stroke-width="0.85" />
<line x1="155.00" y1="510.50" x2="189.00" y2="511.00" stroke="#000" stroke-width="0.85" />
<line x1="155.00" y1="512.30" x2="189.00" y2="516.00" stroke="#000" stroke-width="0.85" />
<circle cx="155" cy="497.20" r="1.7" fill="#ee7424"/>
<circle cx="155" cy="499.50" r="1.7" fill="#ee7424"/>
<circle cx="155" cy="501.20" r="1.7" fill="#ee7424"/>
<circle cx="155" cy="503.80" r="1.7" fill="#ee7424"/>
<circle cx="155" cy="506.40" r="1.7" fill="#ee7424"/>
<circle cx="155" cy="508.20" r="1.7" fill="#ee7424"/>
<circle cx="155" cy="510.50" r="1.7" fill="#ee7424"/>
<circle cx="155" cy="512.30" r="1.7" fill="#ee7424"/>
<path d="M187.10 497.18 H190.90 L189.00 500.79 Z" fill="#ee7424"/>
<path d="M187.10 498.98 H190.90 L189.00 502.59 Z" fill="#ee7424"/>
<path d="M187.10 500.58 H190.90 L189.00 504.19 Z" fill="#ee7424"/>
<path d="M187.10 502.78 H190.90 L189.00 506.39 Z" fill="#ee7424"/>
<path d="M187.10 507.08 H190.90 L189.00 510.69 Z" fill="#ee7424"/>
<path d="M187.10 508.38 H190.90 L189.00 511.99 Z" fill="#ee7424"/>
<path d="M187.10 509.48 H190.90 L189.00 513.09 Z" fill="#ee7424"/>
<path d="M187.10 514.48 H190.90 L189.00 518.09 Z" fill="#ee7424"/>
<text x="0.00" y="0.00" font-size="10" text-anchor="end" fill="#000" stroke="#000" stroke-width="0.2" transform="translate(84.5 547.5) rotate(-35)">(-)</text>
<text x="0.00" y="0.00" font-size="10" text-anchor="end" fill="#000" stroke="#000" stroke-width="0.2" transform="translate(123.9 545.8) rotate(-35)">+ αIL-12p70</text>
<text x="0.00" y="0.00" font-size="10" text-anchor="end" fill="#000" stroke="#000" stroke-width="0.2" transform="translate(153.9 547.5) rotate(-35)">(-)</text>
<text x="0.00" y="0.00" font-size="10" text-anchor="end" fill="#000" stroke="#000" stroke-width="0.2" transform="translate(192.5 545.8) rotate(-35)">+ αIL-12p70</text>
<line x1="248.75" y1="444.80" x2="248.75" y2="536.40" stroke="#000" stroke-width="1" />
<line x1="246.25" y1="445.30" x2="248.75" y2="445.30" stroke="#000" stroke-width="1" />
<text x="246.8" y="448.5" font-size="8.5" text-anchor="end">10<tspan font-size="6" dy="-3.5">1</tspan></text>
<line x1="246.25" y1="467.80" x2="248.75" y2="467.80" stroke="#000" stroke-width="1" />
<text x="246.8" y="471.0" font-size="8.5" text-anchor="end">10<tspan font-size="6" dy="-3.5">0</tspan></text>
<line x1="246.25" y1="490.50" x2="248.75" y2="490.50" stroke="#000" stroke-width="1" />
<text x="246.8" y="493.7" font-size="8.5" text-anchor="end">10<tspan font-size="6" dy="-3.5">-1</tspan></text>
<line x1="246.25" y1="512.80" x2="248.75" y2="512.80" stroke="#000" stroke-width="1" />
<text x="246.8" y="516.0" font-size="8.5" text-anchor="end">10<tspan font-size="6" dy="-3.5">-2</tspan></text>
<line x1="246.25" y1="535.30" x2="248.75" y2="535.30" stroke="#000" stroke-width="1" />
<text x="246.8" y="538.5" font-size="8.5" text-anchor="end">10<tspan font-size="6" dy="-3.5">-3</tspan></text>
<line x1="247.45" y1="461.03" x2="248.75" y2="461.03" stroke="#000" stroke-width="0.5" />
<line x1="247.45" y1="457.06" x2="248.75" y2="457.06" stroke="#000" stroke-width="0.5" />
<line x1="247.45" y1="454.25" x2="248.75" y2="454.25" stroke="#000" stroke-width="0.5" />
<line x1="247.45" y1="452.07" x2="248.75" y2="452.07" stroke="#000" stroke-width="0.5" />
<line x1="247.45" y1="450.29" x2="248.75" y2="450.29" stroke="#000" stroke-width="0.5" />
<line x1="247.45" y1="448.79" x2="248.75" y2="448.79" stroke="#000" stroke-width="0.5" />
<line x1="247.45" y1="447.48" x2="248.75" y2="447.48" stroke="#000" stroke-width="0.5" />
<line x1="247.45" y1="446.33" x2="248.75" y2="446.33" stroke="#000" stroke-width="0.5" />
<line x1="247.45" y1="483.67" x2="248.75" y2="483.67" stroke="#000" stroke-width="0.5" />
<line x1="247.45" y1="479.67" x2="248.75" y2="479.67" stroke="#000" stroke-width="0.5" />
<line x1="247.45" y1="476.83" x2="248.75" y2="476.83" stroke="#000" stroke-width="0.5" />
<line x1="247.45" y1="474.63" x2="248.75" y2="474.63" stroke="#000" stroke-width="0.5" />
<line x1="247.45" y1="472.84" x2="248.75" y2="472.84" stroke="#000" stroke-width="0.5" />
<line x1="247.45" y1="471.32" x2="248.75" y2="471.32" stroke="#000" stroke-width="0.5" />
<line x1="247.45" y1="470.00" x2="248.75" y2="470.00" stroke="#000" stroke-width="0.5" />
<line x1="247.45" y1="468.84" x2="248.75" y2="468.84" stroke="#000" stroke-width="0.5" />
<line x1="247.45" y1="506.09" x2="248.75" y2="506.09" stroke="#000" stroke-width="0.5" />
<line x1="247.45" y1="502.16" x2="248.75" y2="502.16" stroke="#000" stroke-width="0.5" />
<line x1="247.45" y1="499.37" x2="248.75" y2="499.37" stroke="#000" stroke-width="0.5" />
<line x1="247.45" y1="497.21" x2="248.75" y2="497.21" stroke="#000" stroke-width="0.5" />
<line x1="247.45" y1="495.45" x2="248.75" y2="495.45" stroke="#000" stroke-width="0.5" />
<line x1="247.45" y1="493.95" x2="248.75" y2="493.95" stroke="#000" stroke-width="0.5" />
<line x1="247.45" y1="492.66" x2="248.75" y2="492.66" stroke="#000" stroke-width="0.5" />
<line x1="247.45" y1="491.52" x2="248.75" y2="491.52" stroke="#000" stroke-width="0.5" />
<line x1="247.45" y1="528.53" x2="248.75" y2="528.53" stroke="#000" stroke-width="0.5" />
<line x1="247.45" y1="524.56" x2="248.75" y2="524.56" stroke="#000" stroke-width="0.5" />
<line x1="247.45" y1="521.75" x2="248.75" y2="521.75" stroke="#000" stroke-width="0.5" />
<line x1="247.45" y1="519.57" x2="248.75" y2="519.57" stroke="#000" stroke-width="0.5" />
<line x1="247.45" y1="517.79" x2="248.75" y2="517.79" stroke="#000" stroke-width="0.5" />
<line x1="247.45" y1="516.29" x2="248.75" y2="516.29" stroke="#000" stroke-width="0.5" />
<line x1="247.45" y1="514.98" x2="248.75" y2="514.98" stroke="#000" stroke-width="0.5" />
<line x1="247.45" y1="513.83" x2="248.75" y2="513.83" stroke="#000" stroke-width="0.5" />
<line x1="248.25" y1="536.40" x2="386.00" y2="536.40" stroke="#000" stroke-width="1" />
<line x1="266.00" y1="536.40" x2="266.00" y2="539.00" stroke="#000" stroke-width="1" />
<line x1="300.00" y1="536.40" x2="300.00" y2="539.00" stroke="#000" stroke-width="1" />
<line x1="334.00" y1="536.40" x2="334.00" y2="539.00" stroke="#000" stroke-width="1" />
<line x1="368.00" y1="536.40" x2="368.00" y2="539.00" stroke="#000" stroke-width="1" />
<text x="0.00" y="0.00" font-size="10" text-anchor="middle" fill="#000" stroke="#000" stroke-width="0.2" transform="translate(221.45 484) rotate(-90)">IL-21 (ng/ml)</text>
<text x="269.00" y="437.50" font-size="10" text-anchor="start" fill="#000" stroke="#000" stroke-width="0.2" >Control</text>
<text x="269.00" y="449.00" font-size="10" text-anchor="start" fill="#000" stroke="#000" stroke-width="0.2" >p=0.0005</text>
<text x="347.80" y="437.00" font-size="9.5" text-anchor="middle" fill="#000" stroke="#000" stroke-width="0.2" >IL12Rβ1</text>
<text x="351.00" y="449.00" font-size="10" text-anchor="middle" fill="#000" stroke="#000" stroke-width="0.2" >n.s.</text>
<line x1="265.50" y1="463.00" x2="300.00" y2="455.60" stroke="#000" stroke-width="0.85" />
<line x1="265.50" y1="465.10" x2="300.00" y2="457.20" stroke="#000" stroke-width="0.85" />
<line x1="265.50" y1="467.20" x2="300.00" y2="454.00" stroke="#000" stroke-width="0.85" />
<line x1="265.50" y1="468.80" x2="300.00" y2="463.50" stroke="#000" stroke-width="0.85" />
<line x1="265.50" y1="470.90" x2="300.00" y2="461.90" stroke="#000" stroke-width="0.85" />
<line x1="265.50" y1="473.00" x2="300.00" y2="465.10" stroke="#000" stroke-width="0.85" />
<line x1="265.50" y1="475.20" x2="300.00" y2="463.50" stroke="#000" stroke-width="0.85" />
<line x1="265.50" y1="476.70" x2="300.00" y2="465.10" stroke="#000" stroke-width="0.85" />
<line x1="265.50" y1="481.50" x2="300.00" y2="474.60" stroke="#000" stroke-width="0.85" />
<line x1="265.50" y1="483.10" x2="300.00" y2="476.70" stroke="#000" stroke-width="0.85" />
<line x1="265.50" y1="485.20" x2="300.00" y2="478.90" stroke="#000" stroke-width="0.85" />
<line x1="265.50" y1="486.80" x2="300.00" y2="473.00" stroke="#000" stroke-width="0.85" />
<line x1="265.50" y1="488.40" x2="300.00" y2="484.20" stroke="#000" stroke-width="0.85" />
<line x1="265.50" y1="490.00" x2="300.00" y2="485.70" stroke="#000" stroke-width="0.85" />
<line x1="265.50" y1="491.60" x2="300.00" y2="478.90" stroke="#000" stroke-width="0.85" />
<line x1="265.50" y1="500.00" x2="300.00" y2="493.70" stroke="#000" stroke-width="0.85" />
<circle cx="265.5" cy="463.00" r="1.7" fill="#1c1ca8"/>
<circle cx="265.5" cy="465.10" r="1.7" fill="#1c1ca8"/>
<circle cx="265.5" cy="467.20" r="1.7" fill="#1c1ca8"/>
<circle cx="265.5" cy="468.80" r="1.7" fill="#1c1ca8"/>
<circle cx="265.5" cy="470.90" r="1.7" fill="#1c1ca8"/>
<circle cx="265.5" cy="473.00" r="1.7" fill="#1c1ca8"/>
<circle cx="265.5" cy="475.20" r="1.7" fill="#1c1ca8"/>
<circle cx="265.5" cy="476.70" r="1.7" fill="#1c1ca8"/>
<circle cx="265.5" cy="481.50" r="1.7" fill="#1c1ca8"/>
<circle cx="265.5" cy="483.10" r="1.7" fill="#1c1ca8"/>
<circle cx="265.5" cy="485.20" r="1.7" fill="#1c1ca8"/>
<circle cx="265.5" cy="486.80" r="1.7" fill="#1c1ca8"/>
<circle cx="265.5" cy="488.40" r="1.7" fill="#1c1ca8"/>
<circle cx="265.5" cy="490.00" r="1.7" fill="#1c1ca8"/>
<circle cx="265.5" cy="491.60" r="1.7" fill="#1c1ca8"/>
<circle cx="265.5" cy="500.00" r="1.7" fill="#1c1ca8"/>
<path d="M298.10 454.08 H301.90 L300.00 457.69 Z" fill="#1c1ca8"/>
<path d="M298.10 455.68 H301.90 L300.00 459.29 Z" fill="#1c1ca8"/>
<path d="M298.10 452.48 H301.90 L300.00 456.09 Z" fill="#1c1ca8"/>
<path d="M298.10 461.98 H301.90 L300.00 465.59 Z" fill="#1c1ca8"/>
<path d="M298.10 460.38 H301.90 L300.00 463.99 Z" fill="#1c1ca8"/>
<path d="M298.10 463.58 H301.90 L300.00 467.19 Z" fill="#1c1ca8"/>
<path d="M298.10 461.98 H301.90 L300.00 465.59 Z" fill="#1c1ca8"/>
<path d="M298.10 463.58 H301.90 L300.00 467.19 Z" fill="#1c1ca8"/>
<path d="M298.10 473.08 H301.90 L300.00 476.69 Z" fill="#1c1ca8"/>
<path d="M298.10 475.18 H301.90 L300.00 478.79 Z" fill="#1c1ca8"/>
<path d="M298.10 477.38 H301.90 L300.00 480.99 Z" fill="#1c1ca8"/>
<path d="M298.10 471.48 H301.90 L300.00 475.09 Z" fill="#1c1ca8"/>
<path d="M298.10 482.68 H301.90 L300.00 486.29 Z" fill="#1c1ca8"/>
<path d="M298.10 484.18 H301.90 L300.00 487.79 Z" fill="#1c1ca8"/>
<path d="M298.10 477.38 H301.90 L300.00 480.99 Z" fill="#1c1ca8"/>
<path d="M298.10 492.18 H301.90 L300.00 495.79 Z" fill="#1c1ca8"/>
<line x1="334.25" y1="496.80" x2="368.75" y2="490.90" stroke="#000" stroke-width="0.85" />
<line x1="334.25" y1="499.50" x2="368.75" y2="497.20" stroke="#000" stroke-width="0.85" />
<line x1="334.25" y1="502.60" x2="368.75" y2="503.50" stroke="#000" stroke-width="0.85" />
<line x1="334.25" y1="504.00" x2="368.75" y2="505.30" stroke="#000" stroke-width="0.85" />
<line x1="334.25" y1="506.20" x2="368.75" y2="504.40" stroke="#000" stroke-width="0.85" />
<line x1="334.25" y1="507.60" x2="368.75" y2="508.50" stroke="#000" stroke-width="0.85" />
<line x1="334.25" y1="512.10" x2="368.75" y2="513.90" stroke="#000" stroke-width="0.85" />
<line x1="334.25" y1="516.20" x2="368.75" y2="521.60" stroke="#000" stroke-width="0.85" />
<circle cx="334.25" cy="496.80" r="1.7" fill="#ee7424"/>
<circle cx="334.25" cy="499.50" r="1.7" fill="#ee7424"/>
<circle cx="334.25" cy="502.60" r="1.7" fill="#ee7424"/>
<circle cx="334.25" cy="504.00" r="1.7" fill="#ee7424"/>
<circle cx="334.25" cy="506.20" r="1.7" fill="#ee7424"/>
<circle cx="334.25" cy="507.60" r="1.7" fill="#ee7424"/>
<circle cx="334.25" cy="512.10" r="1.7" fill="#ee7424"/>
<circle cx="334.25" cy="516.20" r="1.7" fill="#ee7424"/>
<path d="M366.85 489.38 H370.65 L368.75 492.99 Z" fill="#ee7424"/>
<path d="M366.85 495.68 H370.65 L368.75 499.29 Z" fill="#ee7424"/>
<path d="M366.85 501.98 H370.65 L368.75 505.59 Z" fill="#ee7424"/>
<path d="M366.85 503.78 H370.65 L368.75 507.39 Z" fill="#ee7424"/>
<path d="M366.85 502.88 H370.65 L368.75 506.49 Z" fill="#ee7424"/>
<path d="M366.85 506.98 H370.65 L368.75 510.59 Z" fill="#ee7424"/>
<path d="M366.85 512.38 H370.65 L368.75 515.99 Z" fill="#ee7424"/>
<path d="M366.85 520.08 H370.65 L368.75 523.69 Z" fill="#ee7424"/>
<text x="0.00" y="0.00" font-size="10" text-anchor="end" fill="#000" stroke="#000" stroke-width="0.2" transform="translate(264.5 547.5) rotate(-35)">(-)</text>
<text x="0.00" y="0.00" font-size="10" text-anchor="end" fill="#000" stroke="#000" stroke-width="0.2" transform="translate(299.6 546.2) rotate(-35)">+ IL-12</text>
<text x="0.00" y="0.00" font-size="10" text-anchor="end" fill="#000" stroke="#000" stroke-width="0.2" transform="translate(332.5 547.5) rotate(-35)">(-)</text>
<text x="0.00" y="0.00" font-size="10" text-anchor="end" fill="#000" stroke="#000" stroke-width="0.2" transform="translate(367.6 546.2) rotate(-35)">+ IL-12</text>
</svg></body></html>
